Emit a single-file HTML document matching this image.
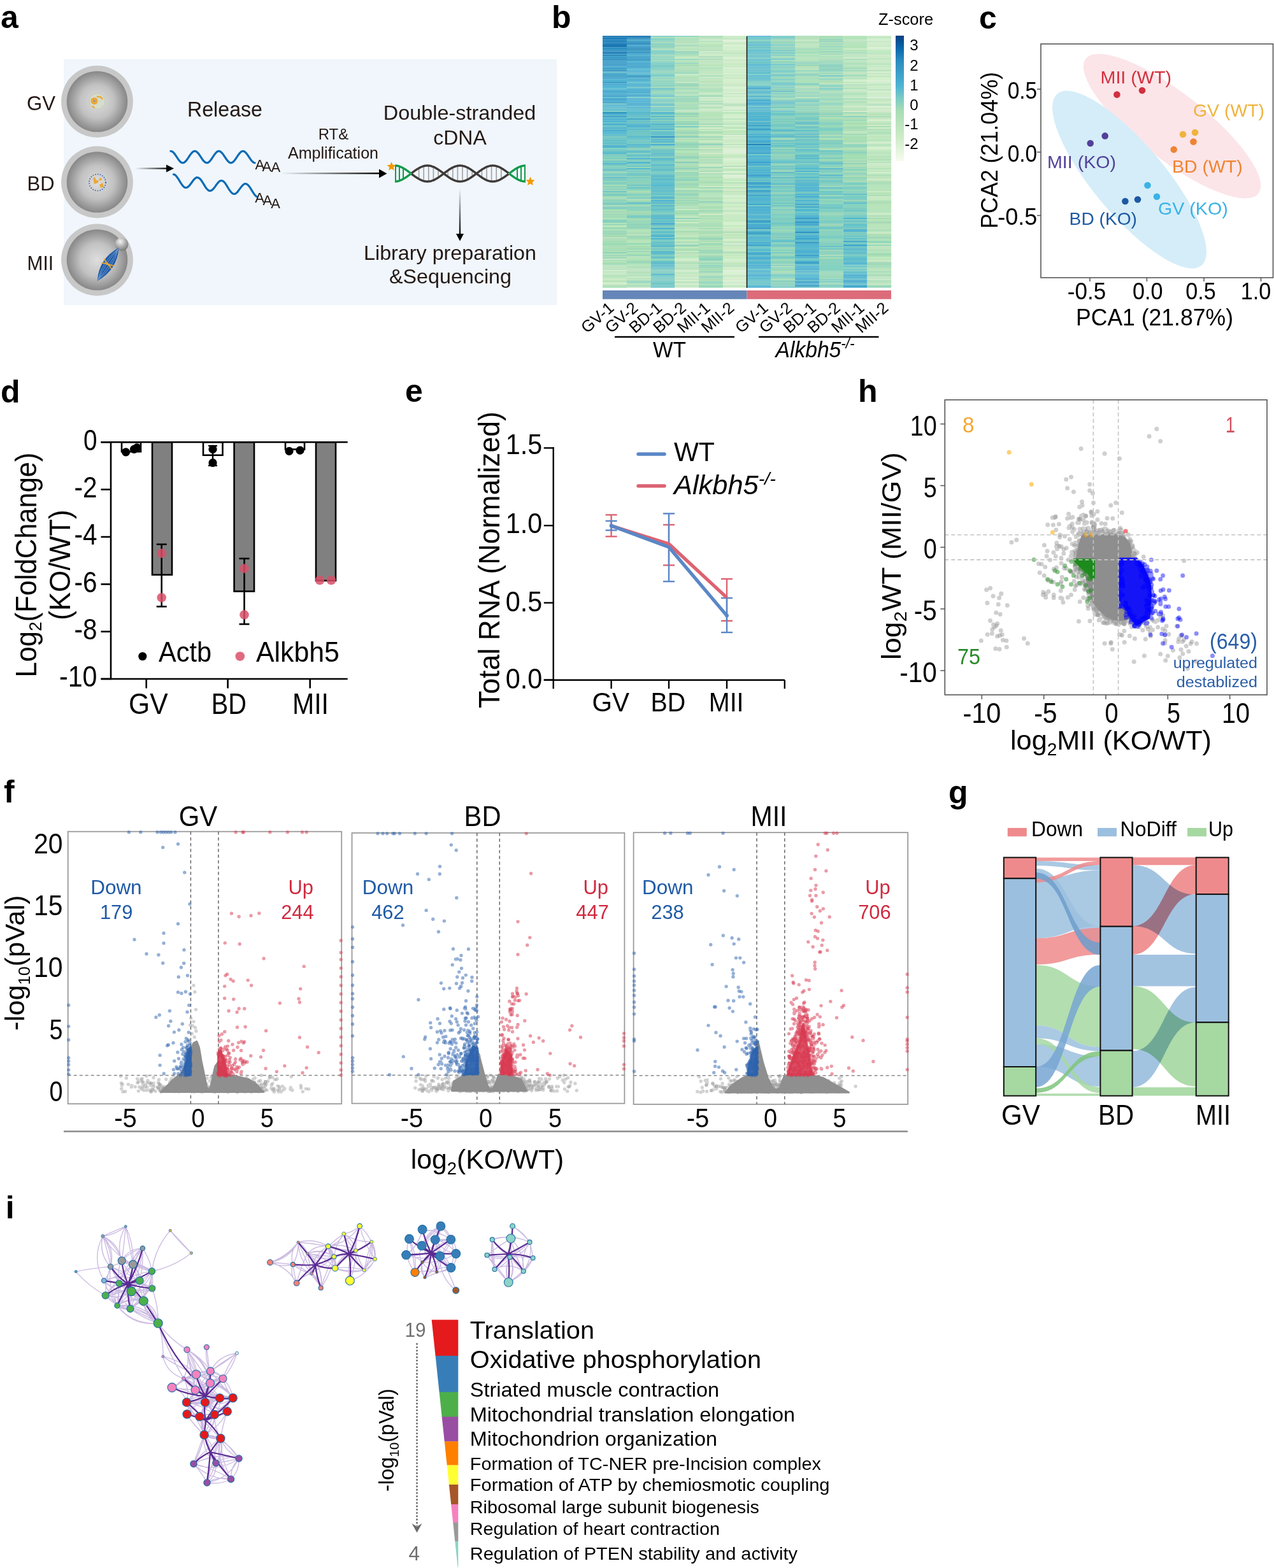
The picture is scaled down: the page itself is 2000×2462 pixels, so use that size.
<!DOCTYPE html>
<html><head><meta charset="utf-8"><title>Figure</title>
<style>html,body{margin:0;padding:0;background:#fff;}svg{display:block;}</style></head>
<body><svg width="2000" height="2462" viewBox="0 0 2000 2462" font-family='"Liberation Sans", Arial, Helvetica, sans-serif'>
<defs><radialGradient id="oo" cx="50%" cy="50%" r="50%"><stop offset="0" stop-color="#dedede"/><stop offset="0.55" stop-color="#c2c2c2"/><stop offset="1" stop-color="#878787"/></radialGradient><radialGradient id="pb" cx="40%" cy="30%" r="70%"><stop offset="0" stop-color="#f4f4f4"/><stop offset="0.5" stop-color="#b5b5b5"/><stop offset="1" stop-color="#7a7a7a"/></radialGradient><linearGradient id="ga" x1="0" y1="0" x2="1" y2="0"><stop offset="0" stop-color="#000" stop-opacity="0"/><stop offset="1" stop-color="#000"/></linearGradient><linearGradient id="gv" x1="0" y1="0" x2="0" y2="1"><stop offset="0" stop-color="#000" stop-opacity="0"/><stop offset="1" stop-color="#000"/></linearGradient><linearGradient id="cb" x1="0" y1="0" x2="0" y2="1"><stop offset="0" stop-color="#084081"/><stop offset="0.1" stop-color="#0868ac"/><stop offset="0.2" stop-color="#2b8cbe"/><stop offset="0.4" stop-color="#4eb3d3"/><stop offset="0.5" stop-color="#7bccc4"/><stop offset="0.6" stop-color="#a8ddb5"/><stop offset="0.8" stop-color="#ccebc5"/><stop offset="0.9" stop-color="#e0f3db"/><stop offset="1" stop-color="#f7fcf0"/></linearGradient></defs>
<rect width="2000" height="2462" fill="#fff"/>
<text x="1" y="44" font-size="50" font-weight="bold">a</text>
<rect x="100" y="93" width="774" height="386" fill="#f0f6fb" />
<circle cx="152.5" cy="159.5" r="56.4" fill="#c8c8c8" />
<circle cx="152.5" cy="159.5" r="47.8" fill="url(#oo)" />
<circle cx="152.5" cy="286" r="56.4" fill="#c8c8c8" />
<circle cx="152.5" cy="286" r="47.8" fill="url(#oo)" />
<circle cx="152.5" cy="408" r="56.4" fill="#c8c8c8" />
<circle cx="152.5" cy="408" r="47.8" fill="url(#oo)" />
<circle cx="152.5" cy="159" r="12.5" fill="#d6dccb" stroke="#c3c8b6" stroke-width="1"/>
<circle cx="148" cy="158.5" r="5.5" fill="#eaa83a" />
<circle cx="148" cy="158.5" r="1.8" fill="#9a9a9a" />
<path d="M152 152 a7 6 0 0 1 9 4" stroke="#eaa83a" stroke-width="2.5" fill="none"/>
<path d="M145 166 a6 4 0 0 0 4 3" stroke="#eaa83a" stroke-width="2" fill="none"/>
<circle cx="153" cy="286.5" r="13" fill="none" stroke="#2b5ba8" stroke-width="1.6" stroke-dasharray="1.6 2.2"/>
<path d="M146 280 l3 -2 l2 5 l4 0 l-1 4 l-6 2 z" fill="#eaa83a"/>
<path d="M156 290 l5 -3 l2 6 l-5 2 z" fill="#eaa83a"/>
<path d="M155 281 l4 -2 l1 3 l-3 2 z" fill="#eaa83a"/>
<circle cx="191" cy="383.5" r="10.5" fill="url(#pb)" />
<g transform="translate(169.6 415) rotate(-57)"><path d="M-31 0 Q0 -17 31 0 Q0 17 -31 0 Z" fill="#1f5aa6"/><path d="M-29 0 Q0 -10 29 0 M-29 0 Q0 10 29 0 M-29 0 Q0 -4 29 0 M-29 0 Q0 4 29 0" stroke="#7aa3d8" stroke-width="0.8" fill="none"/><path d="M-4 -10 Q3 0 -4 10 M4 -10 Q-3 0 4 10" stroke="#eaa83a" stroke-width="1.8" fill="none"/></g>
<text x="42" y="173" font-size="31" fill="#231815" textLength="45" lengthAdjust="spacingAndGlyphs">GV</text>
<text x="42.5" y="299" font-size="31" fill="#231815" textLength="43" lengthAdjust="spacingAndGlyphs">BD</text>
<text x="42.5" y="424" font-size="31" fill="#231815" textLength="41.5" lengthAdjust="spacingAndGlyphs">MII</text>
<text x="294" y="183.3" font-size="33.5" fill="#231815" textLength="118" lengthAdjust="spacingAndGlyphs">Release</text>
<rect x="212" y="263.4" width="51" height="2.2" fill="url(#ga)" />
<path d="M261 258.5 L273 264.5 L261 270.5 z" fill="#000"/>
<path d="M268 237.3 L269.1 237.5 L270.2 237.9 L271.3 238.6 L272.4 239.7 L273.5 240.9 L274.6 242.3 L275.7 243.9 L276.8 245.5 L277.9 247.2 L279 248.8 L280.1 250.4 L281.2 251.9 L282.3 253.1 L283.4 254.2 L284.5 255 L285.6 255.5 L286.7 255.7 L287.8 255.6 L288.9 255.2 L290 254.5 L291.1 253.5 L292.2 252.4 L293.3 251 L294.4 249.4 L295.5 247.8 L296.6 246.1 L297.7 244.5 L298.8 242.9 L299.9 241.4 L301 240.1 L302.1 239 L303.2 238.1 L304.3 237.6 L305.4 237.3 L306.5 237.4 L307.6 237.7 L308.7 238.3 L309.8 239.3 L310.9 240.4 L312 241.8 L313.1 243.3 L314.2 244.9 L315.3 246.6 L316.4 248.2 L317.5 249.9 L318.6 251.4 L319.7 252.7 L320.8 253.8 L321.9 254.7 L323 255.3 L324.1 255.7 L325.2 255.7 L326.3 255.4 L327.4 254.8 L328.5 253.9 L329.6 252.8 L330.7 251.5 L331.8 250 L332.9 248.4 L334 246.7 L335.1 245.1 L336.2 243.4 L337.3 241.9 L338.4 240.5 L339.5 239.4 L340.6 238.4 L341.7 237.8 L342.8 237.4 L343.9 237.3 L345 237.5 L346.1 238.1 L347.2 238.9 L348.3 240 L349.4 241.3 L350.5 242.7 L351.6 244.3 L352.7 246 L353.8 247.6 L354.9 249.3 L356 250.8 L357.1 252.2 L358.2 253.4 L359.3 254.4 L360.4 255.1 L361.5 255.6 L362.6 255.7 L363.7 255.5 L364.8 255 L365.9 254.3 L367 253.2 L368.1 252 L369.2 250.6 L370.3 249 L371.4 247.3 L372.5 245.7 L373.6 244 L374.7 242.4 L375.8 241 L376.9 239.8 L378 238.7 L379.1 238 L380.2 237.5 L381.3 237.3 L382.4 237.4 L383.5 237.9 L384.6 238.6 L385.7 239.6 L386.8 240.8 L387.9 242.2 L389 243.7 L390.1 245.4 L391.2 247 L392.3 248.7 L393.4 250.3 L394.5 251.7 L395.6 253 L396.7 254.1 L397.8 254.9 L398.9 255.5 L400 255.7" stroke="#0a6bb5" stroke-width="3.2" fill="none" stroke-linecap="round"/>
<path d="M272.5 273.8 L273.6 274.1 L274.7 274.7 L275.8 275.5 L276.9 276.7 L277.9 278 L279 279.6 L280.1 281.2 L281.2 283 L282.3 284.8 L283.4 286.6 L284.5 288.3 L285.6 289.9 L286.6 291.3 L287.7 292.5 L288.8 293.5 L289.9 294.2 L291 294.6 L292.1 294.7 L293.2 294.5 L294.2 294 L295.3 293.3 L296.4 292.3 L297.5 291.1 L298.6 289.8 L299.7 288.3 L300.8 286.8 L301.9 285.3 L302.9 283.8 L304 282.5 L305.1 281.2 L306.2 280.2 L307.3 279.5 L308.4 278.9 L309.5 278.7 L310.6 278.8 L311.6 279.1 L312.7 279.8 L313.8 280.7 L314.9 281.9 L316 283.3 L317.1 284.9 L318.2 286.6 L319.3 288.3 L320.4 290.1 L321.4 291.9 L322.5 293.6 L323.6 295.2 L324.7 296.5 L325.8 297.7 L326.9 298.6 L328 299.2 L329.1 299.6 L330.1 299.6 L331.2 299.3 L332.3 298.8 L333.4 298 L334.5 296.9 L335.6 295.7 L336.7 294.3 L337.8 292.9 L338.8 291.4 L339.9 289.8 L341 288.4 L342.1 287.1 L343.2 285.9 L344.3 284.9 L345.4 284.2 L346.4 283.8 L347.5 283.6 L348.6 283.8 L349.7 284.2 L350.8 284.9 L351.9 285.9 L353 287.1 L354.1 288.6 L355.1 290.2 L356.2 291.9 L357.3 293.7 L358.4 295.5 L359.5 297.3 L360.6 298.9 L361.7 300.4 L362.8 301.8 L363.9 302.9 L364.9 303.7 L366 304.3 L367.1 304.5 L368.2 304.5 L369.3 304.2 L370.4 303.5 L371.5 302.7 L372.6 301.6 L373.6 300.3 L374.7 298.9 L375.8 297.4 L376.9 295.9 L378 294.4 L379.1 293 L380.2 291.7 L381.2 290.6 L382.3 289.7 L383.4 289 L384.5 288.6 L385.6 288.5 L386.7 288.8 L387.8 289.3 L388.9 290.1 L389.9 291.1 L391 292.4 L392.1 293.9 L393.2 295.5 L394.3 297.3 L395.4 299.1 L396.5 300.9 L397.6 302.6 L398.6 304.2 L399.7 305.7 L400.8 307 L401.9 308 L403 308.8" stroke="#0a6bb5" stroke-width="3.2" fill="none" stroke-linecap="round"/>
<text x="400.5" y="266.2" font-size="22" fill="#231815">A</text>
<text x="411.5" y="268.5" font-size="22" fill="#231815">A</text>
<text x="425.5" y="270.3" font-size="22" fill="#231815">A</text>
<text x="400.3" y="318" font-size="22" fill="#231815">A</text>
<text x="412.4" y="322.1" font-size="22" fill="#231815">A</text>
<text x="425.3" y="327.3" font-size="22" fill="#231815">A</text>
<rect x="441" y="271" width="157" height="2.4" fill="url(#ga)" />
<path d="M595 265.5 L607.5 272.5 L595 279.5 z" fill="#000"/>
<text x="523.5" y="218.5" font-size="24" text-anchor="middle" fill="#231815" textLength="47.5" lengthAdjust="spacingAndGlyphs">RT&amp;</text>
<text x="523" y="248.5" font-size="25" text-anchor="middle" fill="#231815" textLength="142" lengthAdjust="spacingAndGlyphs">Amplification</text>
<text x="721.5" y="188" font-size="32" text-anchor="middle" fill="#231815" textLength="239.5" lengthAdjust="spacingAndGlyphs">Double-stranded</text>
<text x="722" y="226.5" font-size="32" text-anchor="middle" fill="#231815" textLength="83.5" lengthAdjust="spacingAndGlyphs">cDNA</text>
<path d="M657.6 263.9V281.1M665.2 260.8V284.2M672.8 260.1V284.9M680.4 262V283M688 266.2V278.8M703.2 277.4V267.6M710.8 282.1V262.9M718.4 284.7V260.3M726 284.7V260.3M733.6 282.1V262.9M741.2 277.5V267.5M756.4 266.3V278.7M764 262.1V282.9M771.6 260.1V284.9M779.2 260.7V284.3M786.8 263.9V281.1" stroke="#a0a0a0" stroke-width="1.6"/>
<path d="M620 285 L620.9 285 L621.7 284.9 L622.6 284.8 L623.4 284.7 L624.3 284.5 L625.1 284.3 L626 284.1 L626.9 283.8 L627.7 283.5 L628.6 283.2 L629.4 282.8 L630.3 282.4 L631.2 282 L632 281.6 L632.9 281.1 L633.7 280.6 L634.6 280.1 L635.4 279.6 L636.3 279 L637.2 278.5 L638 277.9 L638.9 277.3 L639.7 276.7 L640.6 276.1 L641.4 275.4 L642.3 274.8 L643.2 274.1 L644 273.5 L644.9 272.8" stroke="#129a4a" stroke-width="3.4" fill="none"/>
<path d="M645.7 272.2 L646.6 271.5 L647.4 270.9 L648.3 270.2 L649.2 269.6 L650 268.9 L650.9 268.3 L651.7 267.7 L652.6 267.1 L653.5 266.5 L654.3 265.9 L655.2 265.4 L656 264.9 L656.9 264.4 L657.7 263.9 L658.6 263.4 L659.5 263 L660.3 262.6 L661.2 262.2 L662 261.8 L662.9 261.5 L663.7 261.2 L664.6 260.9 L665.5 260.7 L666.3 260.5 L667.2 260.3 L668 260.2 L668.9 260.1 L669.7 260 L670.6 260 L671.5 260 L672.3 260 L673.2 260.1 L674 260.2 L674.9 260.4 L675.8 260.5 L676.6 260.7 L677.5 261 L678.3 261.3 L679.2 261.6 L680 261.9 L680.9 262.2 L681.8 262.6 L682.6 263.1 L683.5 263.5 L684.3 264 L685.2 264.5 L686 265 L686.9 265.5 L687.8 266.1 L688.6 266.6 L689.5 267.2 L690.3 267.8 L691.2 268.4 L692.1 269.1 L692.9 269.7 L693.8 270.3 L694.6 271 L695.5 271.6 L696.3 272.3 L697.2 273 L698.1 273.6 L698.9 274.3 L699.8 274.9 L700.6 275.6 L701.5 276.2 L702.3 276.8 L703.2 277.4 L704.1 278 L704.9 278.6 L705.8 279.2 L706.6 279.7 L707.5 280.2 L708.3 280.7 L709.2 281.2 L710.1 281.7 L710.9 282.1 L711.8 282.5 L712.6 282.9 L713.5 283.2 L714.4 283.6 L715.2 283.9 L716.1 284.1 L716.9 284.3 L717.8 284.5 L718.6 284.7 L719.5 284.8 L720.4 284.9 L721.2 285 L722.1 285 L722.9 285 L723.8 284.9 L724.6 284.9 L725.5 284.8 L726.4 284.6 L727.2 284.4 L728.1 284.2 L728.9 284 L729.8 283.7 L730.6 283.4 L731.5 283 L732.4 282.7 L733.2 282.3 L734.1 281.9 L734.9 281.4 L735.8 280.9 L736.7 280.4 L737.5 279.9 L738.4 279.4 L739.2 278.8 L740.1 278.3 L740.9 277.7 L741.8 277.1 L742.7 276.4 L743.5 275.8 L744.4 275.2 L745.2 274.5 L746.1 273.9 L746.9 273.2 L747.8 272.6 L748.7 271.9 L749.5 271.3 L750.4 270.6 L751.2 270 L752.1 269.3 L752.9 268.7 L753.8 268.1 L754.7 267.5 L755.5 266.9 L756.4 266.3 L757.2 265.7 L758.1 265.2 L759 264.7 L759.8 264.2 L760.7 263.7 L761.5 263.2 L762.4 262.8 L763.2 262.4 L764.1 262 L765 261.7 L765.8 261.4 L766.7 261.1 L767.5 260.8 L768.4 260.6 L769.2 260.4 L770.1 260.3 L771 260.2 L771.8 260.1 L772.7 260 L773.5 260 L774.4 260 L775.3 260.1 L776.1 260.2 L777 260.3 L777.8 260.4 L778.7 260.6 L779.5 260.8 L780.4 261.1 L781.3 261.4 L782.1 261.7 L783 262 L783.8 262.4 L784.7 262.8 L785.5 263.2 L786.4 263.7 L787.3 264.2 L788.1 264.7 L789 265.2 L789.8 265.7 L790.7 266.3 L791.5 266.9 L792.4 267.4 L793.3 268.1 L794.1 268.7 L795 269.3 L795.8 269.9 L796.7 270.6 L797.6 271.2 L798.4 271.9" stroke="#3e3a39" stroke-width="3.4" fill="none"/>
<path d="M799.3 272.6 L800.1 273.2 L801 273.9 L801.8 274.5 L802.7 275.2 L803.6 275.8 L804.4 276.4 L805.3 277 L806.1 277.6 L807 278.2 L807.8 278.8 L808.7 279.4 L809.6 279.9 L810.4 280.4 L811.3 280.9 L812.1 281.4 L813 281.8 L813.8 282.3 L814.7 282.7 L815.6 283 L816.4 283.4 L817.3 283.7 L818.1 284 L819 284.2 L819.9 284.4 L820.7 284.6 L821.6 284.7 L822.4 284.9 L823.3 284.9 L824.1 285 L825 285" stroke="#129a4a" stroke-width="3.4" fill="none"/>
<path d="M620 260 L620.9 260 L621.7 260.1 L622.6 260.2 L623.4 260.3 L624.3 260.5 L625.1 260.7 L626 260.9 L626.9 261.2 L627.7 261.5 L628.6 261.8 L629.4 262.2 L630.3 262.6 L631.2 263 L632 263.4 L632.9 263.9 L633.7 264.4 L634.6 264.9 L635.4 265.4 L636.3 266 L637.2 266.5 L638 267.1 L638.9 267.7 L639.7 268.3 L640.6 268.9 L641.4 269.6 L642.3 270.2 L643.2 270.9 L644 271.5 L644.9 272.2" stroke="#129a4a" stroke-width="3.4" fill="none"/>
<path d="M645.7 272.8 L646.6 273.5 L647.4 274.1 L648.3 274.8 L649.2 275.4 L650 276.1 L650.9 276.7 L651.7 277.3 L652.6 277.9 L653.5 278.5 L654.3 279.1 L655.2 279.6 L656 280.1 L656.9 280.6 L657.7 281.1 L658.6 281.6 L659.5 282 L660.3 282.4 L661.2 282.8 L662 283.2 L662.9 283.5 L663.7 283.8 L664.6 284.1 L665.5 284.3 L666.3 284.5 L667.2 284.7 L668 284.8 L668.9 284.9 L669.7 285 L670.6 285 L671.5 285 L672.3 285 L673.2 284.9 L674 284.8 L674.9 284.6 L675.8 284.5 L676.6 284.3 L677.5 284 L678.3 283.7 L679.2 283.4 L680 283.1 L680.9 282.8 L681.8 282.4 L682.6 281.9 L683.5 281.5 L684.3 281 L685.2 280.5 L686 280 L686.9 279.5 L687.8 278.9 L688.6 278.4 L689.5 277.8 L690.3 277.2 L691.2 276.6 L692.1 275.9 L692.9 275.3 L693.8 274.7 L694.6 274 L695.5 273.4 L696.3 272.7 L697.2 272 L698.1 271.4 L698.9 270.7 L699.8 270.1 L700.6 269.4 L701.5 268.8 L702.3 268.2 L703.2 267.6 L704.1 267 L704.9 266.4 L705.8 265.8 L706.6 265.3 L707.5 264.8 L708.3 264.3 L709.2 263.8 L710.1 263.3 L710.9 262.9 L711.8 262.5 L712.6 262.1 L713.5 261.8 L714.4 261.4 L715.2 261.1 L716.1 260.9 L716.9 260.7 L717.8 260.5 L718.6 260.3 L719.5 260.2 L720.4 260.1 L721.2 260 L722.1 260 L722.9 260 L723.8 260.1 L724.6 260.1 L725.5 260.2 L726.4 260.4 L727.2 260.6 L728.1 260.8 L728.9 261 L729.8 261.3 L730.6 261.6 L731.5 262 L732.4 262.3 L733.2 262.7 L734.1 263.1 L734.9 263.6 L735.8 264.1 L736.7 264.6 L737.5 265.1 L738.4 265.6 L739.2 266.2 L740.1 266.7 L740.9 267.3 L741.8 267.9 L742.7 268.6 L743.5 269.2 L744.4 269.8 L745.2 270.5 L746.1 271.1 L746.9 271.8 L747.8 272.4 L748.7 273.1 L749.5 273.7 L750.4 274.4 L751.2 275 L752.1 275.7 L752.9 276.3 L753.8 276.9 L754.7 277.5 L755.5 278.1 L756.4 278.7 L757.2 279.3 L758.1 279.8 L759 280.3 L759.8 280.8 L760.7 281.3 L761.5 281.8 L762.4 282.2 L763.2 282.6 L764.1 283 L765 283.3 L765.8 283.6 L766.7 283.9 L767.5 284.2 L768.4 284.4 L769.2 284.6 L770.1 284.7 L771 284.8 L771.8 284.9 L772.7 285 L773.5 285 L774.4 285 L775.3 284.9 L776.1 284.8 L777 284.7 L777.8 284.6 L778.7 284.4 L779.5 284.2 L780.4 283.9 L781.3 283.6 L782.1 283.3 L783 283 L783.8 282.6 L784.7 282.2 L785.5 281.8 L786.4 281.3 L787.3 280.8 L788.1 280.3 L789 279.8 L789.8 279.3 L790.7 278.7 L791.5 278.1 L792.4 277.6 L793.3 276.9 L794.1 276.3 L795 275.7 L795.8 275.1 L796.7 274.4 L797.6 273.8 L798.4 273.1" stroke="#3e3a39" stroke-width="3.4" fill="none"/>
<path d="M799.3 272.4 L800.1 271.8 L801 271.1 L801.8 270.5 L802.7 269.8 L803.6 269.2 L804.4 268.6 L805.3 268 L806.1 267.4 L807 266.8 L807.8 266.2 L808.7 265.6 L809.6 265.1 L810.4 264.6 L811.3 264.1 L812.1 263.6 L813 263.2 L813.8 262.7 L814.7 262.3 L815.6 262 L816.4 261.6 L817.3 261.3 L818.1 261 L819 260.8 L819.9 260.6 L820.7 260.4 L821.6 260.3 L822.4 260.1 L823.3 260.1 L824.1 260 L825 260" stroke="#129a4a" stroke-width="3.4" fill="none"/>
<path d="M621 285V260 M627 283.8V261.2 M633 281.1V263.9 M812 281.3V263.7 M818 283.9V261.1 M824 285V260" stroke="#129a4a" stroke-width="2"/>
<polygon points="614.5,254 616.5,258.8 621.6,259.2 617.7,262.5 618.9,267.6 614.5,264.9 610.1,267.6 611.3,262.5 607.4,259.2 612.5,258.8" fill="#f39800"/>
<polygon points="832.5,277.5 834.5,282.3 839.6,282.7 835.7,286 836.9,291.1 832.5,288.4 828.1,291.1 829.3,286 825.4,282.7 830.5,282.3" fill="#f39800"/>
<rect x="720.8" y="296" width="2.4" height="74" fill="url(#gv)" />
<path d="M716 367 L722 378.5 L728 367 z" fill="#000"/>
<text x="706.5" y="407.5" font-size="32" text-anchor="middle" fill="#231815" textLength="271" lengthAdjust="spacingAndGlyphs">Library preparation</text>
<text x="707" y="444.5" font-size="32" text-anchor="middle" fill="#231815" textLength="192" lengthAdjust="spacingAndGlyphs">&amp;Sequencing</text>
<text x="866" y="44" font-size="50" font-weight="bold">b</text>
<path fill="#1272ae" d="M946 56.3h38v2h-38z"/>
<path fill="#1e7eba" d="M946 58.3h38v4h-38zM946 66.3h38v2h-38z"/>
<path fill="#2484ba" d="M946 62.3h38v4h-38zM946 92.3h38v2h-38zM983.8 58.3h38v2h-38zM983.8 68.3h38v2h-38zM1172.5 226.1h38v2h-38z"/>
<path fill="#1878b4" d="M946 68.3h38v6h-38z"/>
<path fill="#2a90c0" d="M946 74.3h38v4h-38zM946 106.2h38v2h-38z"/>
<path fill="#2a8ac0" d="M946 78.3h38v2h-38zM946 110.2h38v2h-38zM946 128.2h38v2h-38zM983.8 66.3h38v2h-38z"/>
<path fill="#3090c0" d="M946 80.3h38v2h-38zM983.8 60.3h38v2h-38zM983.8 74.3h38v2h-38z"/>
<path fill="#0c6cae" d="M946 82.3h38v2h-38zM983.8 56.3h38v2h-38z"/>
<path fill="#3696c6" d="M946 84.3h38v2h-38zM946 100.2h38v2h-38zM983.8 72.3h38v2h-38zM1021.5 214.1h38v2h-38zM1248 441.8h38v2h-38z"/>
<path fill="#187eb4" d="M946 86.3h38v2h-38z"/>
<path fill="#369cc6" d="M946 88.3h38v4h-38zM946 96.2h38v2h-38zM946 116.2h38v2h-38zM946 142.2h38v2h-38zM946 150.2h38v2h-38zM946 154.2h38v2h-38zM946 160.2h38v2h-38zM983.8 88.3h38v2h-38zM983.8 94.3h38v2h-38zM1248 347.9h38v2h-38zM1248 411.9h38v2h-38z"/>
<path fill="#3c9cc6" d="M946 94.3h38v2h-38zM946 98.2h38v2h-38zM946 102.2h38v2h-38zM946 118.2h38v2h-38zM983.8 80.3h38v4h-38zM983.8 90.3h38v2h-38zM983.8 104.2h38v2h-38zM983.8 120.2h38v2h-38zM1172.5 202.1h38v2h-38zM1172.5 345.9h38v2h-38zM1248 341.9h38v2h-38zM1248 379.9h38v2h-38z"/>
<path fill="#48aed2" d="M946 104.2h38v2h-38zM946 130.2h38v2h-38zM946 146.2h38v2h-38zM946 158.2h38v2h-38zM946 178.1h38v2h-38zM946 194.1h38v2h-38zM946 204.1h38v2h-38zM983.8 106.2h38v2h-38zM983.8 110.2h38v2h-38zM983.8 126.2h38v2h-38zM983.8 142.2h38v2h-38zM983.8 150.2h38v2h-38zM983.8 158.2h38v2h-38zM983.8 168.2h38v2h-38zM1021.5 357.9h38v2h-38zM1172.5 160.2h38v2h-38zM1172.5 168.2h38v2h-38zM1172.5 192.1h38v2h-38zM1172.5 220.1h38v2h-38zM1172.5 230.1h38v4h-38zM1172.5 258h38v2h-38zM1172.5 276h38v2h-38zM1172.5 395.9h38v2h-38zM1172.5 403.9h38v2h-38zM1172.5 419.8h38v2h-38zM1172.5 431.8h38v2h-38zM1172.5 449.8h38v2h-38zM1248 308h38v2h-38zM1248 369.9h38v2h-38zM1248 417.8h38v2h-38zM1248 435.8h38v2h-38z"/>
<path fill="#3ca2c6" d="M946 108.2h38v2h-38zM946 120.2h38v2h-38zM1172.5 365.9h38v2h-38z"/>
<path fill="#6cc0cc" d="M946 112.2h38v2h-38zM946 278h38v2h-38zM983.8 182.1h38v2h-38zM983.8 190.1h38v2h-38zM983.8 230.1h38v2h-38zM1021.5 242.1h38v2h-38zM1021.5 296h38v2h-38zM1172.5 86.3h38v2h-38zM1172.5 335.9h38v2h-38zM1172.5 407.9h38v2h-38zM1210.2 160.2h38v2h-38zM1248 210.1h38v2h-38zM1248 254.1h38v2h-38zM1285.8 256h38v2h-38zM1285.8 294h38v2h-38zM1285.8 385.9h38v2h-38zM1323.5 345.9h38v2h-38zM1323.5 437.8h38v2h-38z"/>
<path fill="#42a8cc" d="M946 114.2h38v2h-38zM946 144.2h38v2h-38zM983.8 70.3h38v2h-38zM983.8 102.2h38v2h-38zM983.8 124.2h38v2h-38zM983.8 140.2h38v2h-38zM983.8 162.2h38v2h-38zM1172.5 214.1h38v2h-38zM1172.5 288h38v2h-38zM1172.5 298h38v2h-38zM1172.5 306h38v2h-38zM1172.5 320h38v2h-38zM1172.5 347.9h38v2h-38zM1172.5 363.9h38v2h-38zM1172.5 397.9h38v2h-38zM1248 324h38v2h-38zM1248 421.8h38v2h-38zM1323.5 439.8h38v2h-38zM1323.5 447.8h38v4h-38z"/>
<path fill="#42a2cc" d="M946 122.2h38v2h-38zM946 182.1h38v2h-38zM983.8 84.3h38v2h-38zM983.8 100.2h38v2h-38zM983.8 148.2h38v2h-38zM1172.5 138.2h38v2h-38zM1172.5 196.1h38v2h-38zM1172.5 274h38v2h-38zM1172.5 286h38v2h-38zM1172.5 292h38v2h-38zM1172.5 357.9h38v2h-38zM1172.5 383.9h38v2h-38z"/>
<path fill="#4eb4d2" d="M946 124.2h38v4h-38zM946 134.2h38v4h-38zM946 140.2h38v2h-38zM946 186.1h38v2h-38zM946 190.1h38v2h-38zM946 230.1h38v2h-38zM983.8 96.2h38v2h-38zM983.8 116.2h38v2h-38zM983.8 138.2h38v2h-38zM983.8 198.1h38v2h-38zM1021.5 176.1h38v2h-38zM1021.5 369.9h38v2h-38zM1021.5 373.9h38v2h-38zM1021.5 429.8h38v2h-38zM1172.5 100.2h38v2h-38zM1172.5 136.2h38v2h-38zM1172.5 144.2h38v2h-38zM1172.5 158.2h38v2h-38zM1172.5 178.1h38v2h-38zM1172.5 182.1h38v2h-38zM1172.5 186.1h38v2h-38zM1172.5 210.1h38v2h-38zM1172.5 244.1h38v2h-38zM1172.5 252.1h38v2h-38zM1172.5 266h38v2h-38zM1172.5 270h38v2h-38zM1172.5 294h38v2h-38zM1172.5 312h38v2h-38zM1172.5 328h38v2h-38zM1172.5 339.9h38v2h-38zM1172.5 411.9h38v2h-38zM1172.5 417.8h38v2h-38zM1172.5 447.8h38v2h-38zM1248 314h38v2h-38zM1248 330h38v2h-38zM1248 339.9h38v2h-38zM1248 361.9h38v2h-38zM1248 371.9h38v2h-38zM1248 391.9h38v2h-38zM1248 395.9h38v2h-38zM1248 431.8h38v2h-38zM1323.5 341.9h38v2h-38z"/>
<path fill="#3ca2cc" d="M946 132.2h38v2h-38zM946 156.2h38v2h-38zM983.8 98.2h38v2h-38zM983.8 144.2h38v2h-38zM1172.5 156.2h38v2h-38zM1172.5 162.2h38v2h-38zM1172.5 254.1h38v2h-38zM1248 373.9h38v2h-38zM1248 399.9h38v2h-38zM1323.5 383.9h38v2h-38z"/>
<path fill="#5abad2" d="M946 138.2h38v2h-38zM946 166.2h38v2h-38zM946 188.1h38v2h-38zM946 206.1h38v4h-38zM983.8 202.1h38v2h-38zM983.8 214.1h38v2h-38zM983.8 226.1h38v2h-38zM1021.5 258h38v2h-38zM1021.5 341.9h38v2h-38zM1172.5 70.3h38v2h-38zM1172.5 102.2h38v2h-38zM1172.5 200.1h38v2h-38zM1172.5 212.1h38v2h-38zM1172.5 216.1h38v4h-38zM1172.5 228.1h38v2h-38zM1172.5 246.1h38v4h-38zM1172.5 272h38v2h-38zM1172.5 361.9h38v2h-38zM1172.5 373.9h38v2h-38zM1172.5 413.8h38v2h-38zM1172.5 433.8h38v2h-38zM1248 296h38v2h-38zM1323.5 405.9h38v2h-38zM1323.5 411.9h38v2h-38zM1323.5 429.8h38v2h-38zM1323.5 433.8h38v4h-38z"/>
<path fill="#48a8cc" d="M946 148.2h38v2h-38zM983.8 62.3h38v2h-38zM983.8 186.1h38v2h-38zM1172.5 222.1h38v2h-38zM1172.5 240.1h38v2h-38zM1172.5 300h38v2h-38zM1172.5 351.9h38v2h-38zM1172.5 355.9h38v2h-38zM1172.5 415.8h38v2h-38zM1248 320h38v2h-38zM1248 351.9h38v2h-38zM1248 437.8h38v2h-38zM1323.5 377.9h38v2h-38zM1323.5 431.8h38v2h-38zM1323.5 441.8h38v2h-38z"/>
<path fill="#54bad2" d="M946 152.2h38v2h-38zM983.8 174.2h38v2h-38zM983.8 264h38v2h-38zM1021.5 290h38v2h-38zM1172.5 78.3h38v2h-38zM1172.5 204.1h38v2h-38zM1172.5 318h38v2h-38zM1172.5 381.9h38v2h-38zM1172.5 391.9h38v2h-38zM1172.5 423.8h38v2h-38zM1248 264h38v2h-38zM1248 278h38v2h-38zM1248 328h38v2h-38zM1248 357.9h38v2h-38zM1248 385.9h38v2h-38zM1248 433.8h38v2h-38zM1248 445.8h38v2h-38z"/>
<path fill="#72c6c6" d="M946 162.2h38v2h-38zM946 174.2h38v2h-38zM946 192.1h38v2h-38zM946 216.1h38v4h-38zM946 222.1h38v2h-38zM946 226.1h38v2h-38zM946 236.1h38v2h-38zM946 252.1h38v2h-38zM946 258h38v2h-38zM946 300h38v2h-38zM983.8 136.2h38v2h-38zM983.8 192.1h38v2h-38zM983.8 200.1h38v2h-38zM983.8 204.1h38v2h-38zM983.8 208.1h38v4h-38zM983.8 222.1h38v2h-38zM983.8 272h38v4h-38zM983.8 290h38v2h-38zM1021.5 162.2h38v2h-38zM1021.5 168.2h38v2h-38zM1021.5 190.1h38v2h-38zM1021.5 200.1h38v2h-38zM1021.5 238.1h38v2h-38zM1021.5 244.1h38v2h-38zM1021.5 252.1h38v2h-38zM1021.5 260h38v4h-38zM1021.5 302h38v2h-38zM1021.5 324h38v4h-38zM1021.5 330h38v2h-38zM1021.5 335.9h38v2h-38zM1021.5 343.9h38v2h-38zM1021.5 347.9h38v2h-38zM1021.5 381.9h38v2h-38zM1021.5 389.9h38v2h-38zM1021.5 401.9h38v2h-38zM1021.5 419.8h38v2h-38zM1021.5 443.8h38v4h-38zM1172.5 64.3h38v4h-38zM1172.5 72.3h38v4h-38zM1172.5 84.3h38v2h-38zM1172.5 140.2h38v2h-38zM1172.5 152.2h38v2h-38zM1172.5 166.2h38v2h-38zM1172.5 190.1h38v2h-38zM1172.5 260h38v2h-38zM1172.5 393.9h38v2h-38zM1172.5 421.8h38v2h-38zM1210.2 58.3h38v2h-38zM1210.2 78.3h38v2h-38zM1210.2 82.3h38v2h-38zM1210.2 92.3h38v2h-38zM1210.2 124.2h38v2h-38zM1210.2 132.2h38v2h-38zM1210.2 158.2h38v2h-38zM1210.2 162.2h38v2h-38zM1210.2 196.1h38v2h-38zM1210.2 202.1h38v2h-38zM1210.2 224.1h38v2h-38zM1210.2 260h38v2h-38zM1210.2 264h38v2h-38zM1210.2 306h38v2h-38zM1210.2 318h38v2h-38zM1210.2 322h38v2h-38zM1210.2 383.9h38v2h-38zM1210.2 403.9h38v2h-38zM1210.2 431.8h38v2h-38zM1248 158.2h38v2h-38zM1248 178.1h38v2h-38zM1248 186.1h38v2h-38zM1248 194.1h38v2h-38zM1248 198.1h38v4h-38zM1248 218.1h38v4h-38zM1248 252.1h38v2h-38zM1248 258h38v2h-38zM1248 312h38v2h-38zM1248 322h38v2h-38zM1248 355.9h38v2h-38zM1248 427.8h38v2h-38zM1285.8 254.1h38v2h-38zM1285.8 278h38v2h-38zM1285.8 284h38v2h-38zM1285.8 324h38v4h-38zM1285.8 355.9h38v4h-38zM1285.8 389.9h38v2h-38zM1285.8 441.8h38v2h-38zM1285.8 447.8h38v2h-38zM1323.5 330h38v2h-38zM1323.5 355.9h38v2h-38zM1323.5 379.9h38v2h-38zM1323.5 387.9h38v2h-38zM1323.5 397.9h38v2h-38z"/>
<path fill="#54b4d2" d="M946 164.2h38v2h-38zM946 200.1h38v2h-38zM946 228.1h38v2h-38zM983.8 112.2h38v2h-38zM983.8 122.2h38v2h-38zM983.8 130.2h38v2h-38zM983.8 156.2h38v2h-38zM983.8 160.2h38v2h-38zM983.8 196.1h38v2h-38zM983.8 248.1h38v2h-38zM983.8 254.1h38v2h-38zM1021.5 194.1h38v2h-38zM1021.5 202.1h38v2h-38zM1021.5 310h38v2h-38zM1021.5 314h38v2h-38zM1172.5 56.3h38v2h-38zM1172.5 118.2h38v2h-38zM1172.5 164.2h38v2h-38zM1172.5 172.2h38v2h-38zM1172.5 188.1h38v2h-38zM1172.5 236.1h38v2h-38zM1172.5 250.1h38v2h-38zM1172.5 256h38v2h-38zM1172.5 310h38v2h-38zM1172.5 314h38v2h-38zM1172.5 326h38v2h-38zM1172.5 330h38v6h-38zM1172.5 337.9h38v2h-38zM1172.5 371.9h38v2h-38zM1172.5 405.9h38v2h-38zM1172.5 425.8h38v2h-38zM1172.5 429.8h38v2h-38zM1248 268h38v2h-38zM1248 290h38v2h-38zM1248 294h38v2h-38zM1248 298h38v2h-38zM1248 304h38v2h-38zM1248 337.9h38v2h-38zM1248 345.9h38v2h-38zM1248 381.9h38v4h-38zM1248 401.9h38v2h-38zM1248 419.8h38v2h-38zM1248 425.8h38v2h-38zM1248 443.8h38v2h-38zM1323.5 359.9h38v4h-38zM1323.5 413.8h38v2h-38z"/>
<path fill="#60bacc" d="M946 168.2h38v2h-38zM946 180.1h38v2h-38zM983.8 114.2h38v2h-38zM983.8 178.1h38v2h-38zM983.8 194.1h38v2h-38zM1021.5 218.1h38v2h-38zM1021.5 248.1h38v2h-38zM1021.5 266h38v2h-38zM1021.5 276h38v2h-38zM1021.5 280h38v2h-38zM1021.5 318h38v2h-38zM1021.5 337.9h38v2h-38zM1021.5 351.9h38v2h-38zM1021.5 385.9h38v2h-38zM1021.5 393.9h38v2h-38zM1021.5 411.9h38v2h-38zM1021.5 415.8h38v2h-38zM1172.5 106.2h38v2h-38zM1172.5 110.2h38v2h-38zM1172.5 142.2h38v2h-38zM1172.5 174.2h38v2h-38zM1172.5 180.1h38v2h-38zM1172.5 194.1h38v2h-38zM1172.5 224.1h38v2h-38zM1172.5 282h38v2h-38zM1172.5 302h38v4h-38zM1172.5 341.9h38v2h-38zM1172.5 401.9h38v2h-38zM1210.2 142.2h38v2h-38zM1210.2 214.1h38v2h-38zM1210.2 270h38v2h-38zM1210.2 288h38v2h-38zM1248 214.1h38v2h-38zM1248 244.1h38v2h-38zM1248 282h38v2h-38zM1248 286h38v2h-38zM1248 343.9h38v2h-38zM1248 359.9h38v2h-38zM1248 367.9h38v2h-38zM1248 377.9h38v2h-38zM1248 389.9h38v2h-38zM1248 397.9h38v2h-38zM1248 429.8h38v2h-38zM1285.8 264h38v2h-38zM1285.8 274h38v2h-38zM1323.5 389.9h38v2h-38zM1323.5 395.9h38v2h-38zM1323.5 443.8h38v2h-38z"/>
<path fill="#66c0cc" d="M946 170.2h38v4h-38zM946 184.1h38v2h-38zM946 196.1h38v2h-38zM946 202.1h38v2h-38zM946 210.1h38v4h-38zM946 266h38v2h-38zM983.8 166.2h38v2h-38zM983.8 170.2h38v4h-38zM983.8 180.1h38v2h-38zM983.8 228.1h38v2h-38zM983.8 236.1h38v2h-38zM983.8 244.1h38v2h-38zM983.8 318h38v2h-38zM1021.5 138.2h38v2h-38zM1021.5 150.2h38v2h-38zM1021.5 164.2h38v2h-38zM1021.5 178.1h38v2h-38zM1021.5 186.1h38v2h-38zM1021.5 198.1h38v2h-38zM1021.5 206.1h38v6h-38zM1021.5 220.1h38v2h-38zM1021.5 240.1h38v2h-38zM1021.5 274h38v2h-38zM1021.5 292h38v4h-38zM1021.5 298h38v4h-38zM1021.5 316h38v2h-38zM1021.5 379.9h38v2h-38zM1021.5 397.9h38v2h-38zM1021.5 403.9h38v2h-38zM1021.5 409.9h38v2h-38zM1021.5 413.8h38v2h-38zM1021.5 417.8h38v2h-38zM1172.5 60.3h38v2h-38zM1172.5 68.3h38v2h-38zM1172.5 80.3h38v2h-38zM1172.5 88.3h38v2h-38zM1172.5 92.3h38v2h-38zM1172.5 108.2h38v2h-38zM1172.5 124.2h38v2h-38zM1172.5 146.2h38v2h-38zM1172.5 170.2h38v2h-38zM1172.5 206.1h38v4h-38zM1172.5 343.9h38v2h-38zM1172.5 369.9h38v2h-38zM1172.5 377.9h38v2h-38zM1172.5 385.9h38v2h-38zM1172.5 399.9h38v2h-38zM1172.5 427.8h38v2h-38zM1172.5 439.8h38v2h-38zM1172.5 443.8h38v2h-38zM1210.2 174.2h38v2h-38zM1210.2 178.1h38v2h-38zM1210.2 212.1h38v2h-38zM1210.2 220.1h38v2h-38zM1210.2 254.1h38v2h-38zM1210.2 278h38v2h-38zM1248 192.1h38v2h-38zM1248 226.1h38v2h-38zM1248 234.1h38v2h-38zM1248 262h38v2h-38zM1248 284h38v2h-38zM1248 300h38v2h-38zM1248 310h38v2h-38zM1248 316h38v4h-38zM1248 335.9h38v2h-38zM1248 353.9h38v2h-38zM1248 365.9h38v2h-38zM1248 407.9h38v2h-38zM1248 423.8h38v2h-38zM1248 449.8h38v2h-38zM1285.8 118.2h38v2h-38zM1323.5 304h38v2h-38zM1323.5 385.9h38v2h-38zM1323.5 391.9h38v2h-38zM1323.5 407.9h38v4h-38zM1323.5 425.8h38v4h-38zM1323.5 445.8h38v2h-38z"/>
<path fill="#3096c0" d="M946 176.1h38v2h-38zM983.8 64.3h38v2h-38zM983.8 78.3h38v2h-38zM983.8 92.3h38v2h-38zM983.8 118.2h38v2h-38zM1248 363.9h38v2h-38z"/>
<path fill="#6cc6c6" d="M946 198.1h38v2h-38zM983.8 184.1h38v2h-38zM983.8 188.1h38v2h-38zM983.8 206.1h38v2h-38zM983.8 212.1h38v2h-38zM983.8 216.1h38v2h-38zM983.8 242.1h38v2h-38zM983.8 256h38v2h-38zM983.8 260h38v2h-38zM983.8 294h38v2h-38zM1021.5 118.2h38v2h-38zM1021.5 172.2h38v2h-38zM1021.5 196.1h38v2h-38zM1021.5 236.1h38v2h-38zM1021.5 264h38v2h-38zM1021.5 278h38v2h-38zM1021.5 361.9h38v2h-38zM1021.5 431.8h38v2h-38zM1021.5 441.8h38v2h-38zM1172.5 58.3h38v2h-38zM1172.5 76.3h38v2h-38zM1172.5 96.2h38v4h-38zM1172.5 126.2h38v2h-38zM1172.5 280h38v2h-38zM1172.5 284h38v2h-38zM1172.5 441.8h38v2h-38zM1172.5 445.8h38v2h-38zM1210.2 110.2h38v2h-38zM1210.2 118.2h38v2h-38zM1210.2 210.1h38v2h-38zM1210.2 349.9h38v2h-38zM1210.2 449.8h38v2h-38zM1248 224.1h38v2h-38zM1248 230.1h38v2h-38zM1248 236.1h38v2h-38zM1248 242.1h38v2h-38zM1248 246.1h38v2h-38zM1248 276h38v2h-38zM1285.8 236.1h38v2h-38zM1285.8 300h38v2h-38zM1285.8 304h38v2h-38zM1323.5 401.9h38v2h-38z"/>
<path fill="#7eccc6" d="M946 214.1h38v2h-38zM946 264h38v2h-38zM946 272h38v2h-38zM946 318h38v2h-38zM946 326h38v2h-38zM983.8 220.1h38v2h-38zM983.8 268h38v2h-38zM983.8 310h38v2h-38zM1021.5 56.3h38v2h-38zM1021.5 100.2h38v6h-38zM1021.5 148.2h38v2h-38zM1021.5 270h38v4h-38zM1021.5 306h38v2h-38zM1021.5 375.9h38v2h-38zM1021.5 425.8h38v2h-38zM1021.5 435.8h38v2h-38zM1021.5 439.8h38v2h-38zM1172.5 90.3h38v2h-38zM1172.5 130.2h38v2h-38zM1210.2 136.2h38v2h-38zM1210.2 238.1h38v2h-38zM1210.2 250.1h38v2h-38zM1210.2 262h38v2h-38zM1210.2 284h38v2h-38zM1210.2 328h38v2h-38zM1210.2 335.9h38v2h-38zM1210.2 347.9h38v2h-38zM1210.2 365.9h38v2h-38zM1210.2 385.9h38v2h-38zM1210.2 395.9h38v2h-38zM1248 190.1h38v2h-38zM1248 206.1h38v4h-38zM1248 228.1h38v2h-38zM1285.8 110.2h38v2h-38zM1285.8 238.1h38v2h-38zM1285.8 268h38v2h-38zM1285.8 276h38v2h-38zM1285.8 282h38v2h-38zM1323.5 347.9h38v2h-38zM1323.5 363.9h38v2h-38zM1323.5 371.9h38v2h-38zM1323.5 375.9h38v2h-38zM1323.5 399.9h38v2h-38z"/>
<path fill="#60c0cc" d="M946 220.1h38v2h-38zM946 224.1h38v2h-38zM946 238.1h38v2h-38zM983.8 128.2h38v2h-38zM983.8 238.1h38v2h-38zM1021.5 250.1h38v2h-38zM1021.5 282h38v2h-38zM1021.5 286h38v4h-38zM1021.5 304h38v2h-38zM1021.5 308h38v2h-38zM1021.5 328h38v2h-38zM1021.5 339.9h38v2h-38zM1021.5 345.9h38v2h-38zM1021.5 363.9h38v2h-38zM1021.5 383.9h38v2h-38zM1172.5 82.3h38v2h-38zM1172.5 94.3h38v2h-38zM1172.5 104.2h38v2h-38zM1172.5 112.2h38v4h-38zM1172.5 120.2h38v2h-38zM1172.5 134.2h38v2h-38zM1172.5 154.2h38v2h-38zM1172.5 290h38v2h-38zM1172.5 349.9h38v2h-38zM1172.5 367.9h38v2h-38zM1172.5 389.9h38v2h-38zM1172.5 435.8h38v4h-38zM1210.2 228.1h38v2h-38zM1210.2 377.9h38v2h-38zM1248 204.1h38v2h-38zM1248 272h38v2h-38zM1248 292h38v2h-38zM1248 306h38v2h-38zM1248 333.9h38v2h-38zM1248 415.8h38v2h-38zM1248 439.8h38v2h-38zM1323.5 318h38v2h-38zM1323.5 351.9h38v2h-38zM1323.5 373.9h38v2h-38zM1323.5 403.9h38v2h-38zM1323.5 417.8h38v2h-38z"/>
<path fill="#84d2c0" d="M946 232.1h38v2h-38zM946 246.1h38v2h-38zM946 262h38v2h-38zM946 288h38v2h-38zM983.8 246.1h38v2h-38zM983.8 296h38v2h-38zM983.8 304h38v2h-38zM983.8 441.8h38v2h-38zM1021.5 78.3h38v2h-38zM1021.5 92.3h38v2h-38zM1021.5 126.2h38v2h-38zM1021.5 130.2h38v2h-38zM1021.5 180.1h38v2h-38zM1021.5 333.9h38v2h-38zM1021.5 359.9h38v2h-38zM1021.5 391.9h38v2h-38zM1021.5 399.9h38v2h-38zM1021.5 407.9h38v2h-38zM1097 405.9h38v2h-38zM1097 415.8h38v2h-38zM1172.5 62.3h38v2h-38zM1172.5 132.2h38v2h-38zM1210.2 102.2h38v2h-38zM1210.2 106.2h38v2h-38zM1210.2 176.1h38v2h-38zM1210.2 188.1h38v2h-38zM1210.2 222.1h38v2h-38zM1210.2 296h38v2h-38zM1210.2 308h38v2h-38zM1210.2 316h38v2h-38zM1210.2 320h38v2h-38zM1210.2 337.9h38v4h-38zM1210.2 345.9h38v2h-38zM1210.2 353.9h38v2h-38zM1210.2 391.9h38v2h-38zM1210.2 429.8h38v2h-38zM1210.2 433.8h38v2h-38zM1248 110.2h38v2h-38zM1248 182.1h38v2h-38zM1248 202.1h38v2h-38zM1248 216.1h38v2h-38zM1248 240.1h38v2h-38zM1248 256h38v2h-38zM1248 270h38v2h-38zM1285.8 162.2h38v2h-38zM1285.8 194.1h38v2h-38zM1285.8 200.1h38v2h-38zM1285.8 204.1h38v2h-38zM1285.8 242.1h38v2h-38zM1285.8 258h38v2h-38zM1285.8 288h38v2h-38zM1285.8 296h38v2h-38zM1285.8 316h38v2h-38zM1285.8 328h38v2h-38zM1285.8 339.9h38v4h-38zM1285.8 383.9h38v2h-38zM1285.8 407.9h38v2h-38zM1285.8 415.8h38v10h-38zM1285.8 449.8h38v2h-38zM1323.5 266h38v2h-38zM1323.5 286h38v2h-38zM1323.5 296h38v2h-38zM1323.5 306h38v2h-38zM1323.5 320h38v4h-38zM1323.5 419.8h38v2h-38z"/>
<path fill="#78ccc6" d="M946 234.1h38v2h-38zM946 254.1h38v2h-38zM946 274h38v2h-38zM946 282h38v2h-38zM983.8 152.2h38v2h-38zM983.8 224.1h38v2h-38zM983.8 278h38v2h-38zM983.8 339.9h38v2h-38zM1021.5 60.3h38v2h-38zM1021.5 68.3h38v2h-38zM1021.5 80.3h38v2h-38zM1021.5 98.2h38v2h-38zM1021.5 106.2h38v2h-38zM1021.5 116.2h38v2h-38zM1021.5 156.2h38v2h-38zM1021.5 170.2h38v2h-38zM1021.5 192.1h38v2h-38zM1021.5 228.1h38v2h-38zM1021.5 254.1h38v4h-38zM1021.5 268h38v2h-38zM1021.5 332h38v2h-38zM1021.5 365.9h38v2h-38zM1021.5 371.9h38v2h-38zM1021.5 377.9h38v2h-38zM1021.5 433.8h38v2h-38zM1059.2 198.1h38v2h-38zM1172.5 116.2h38v2h-38zM1172.5 242.1h38v2h-38zM1172.5 296h38v2h-38zM1172.5 322h38v2h-38zM1172.5 387.9h38v2h-38zM1210.2 56.3h38v2h-38zM1210.2 70.3h38v2h-38zM1210.2 112.2h38v2h-38zM1210.2 128.2h38v2h-38zM1210.2 180.1h38v2h-38zM1210.2 198.1h38v2h-38zM1210.2 226.1h38v2h-38zM1210.2 274h38v2h-38zM1210.2 282h38v2h-38zM1210.2 286h38v2h-38zM1210.2 294h38v2h-38zM1210.2 300h38v2h-38zM1210.2 312h38v2h-38zM1248 222.1h38v2h-38zM1248 238.1h38v2h-38zM1248 250.1h38v2h-38zM1248 266h38v2h-38zM1248 274h38v2h-38zM1248 332h38v2h-38zM1248 405.9h38v2h-38zM1285.8 134.2h38v2h-38zM1285.8 138.2h38v2h-38zM1285.8 202.1h38v2h-38zM1285.8 302h38v2h-38zM1285.8 320h38v4h-38zM1285.8 347.9h38v2h-38zM1285.8 371.9h38v2h-38zM1323.5 288h38v2h-38zM1323.5 294h38v2h-38zM1323.5 308h38v4h-38zM1323.5 337.9h38v4h-38zM1323.5 381.9h38v2h-38zM1323.5 415.8h38v2h-38zM1323.5 421.8h38v4h-38z"/>
<path fill="#5abacc" d="M946 240.1h38v2h-38zM946 256h38v2h-38zM983.8 108.2h38v2h-38zM983.8 146.2h38v2h-38zM983.8 176.1h38v2h-38zM1021.5 182.1h38v2h-38zM1021.5 222.1h38v2h-38zM1021.5 322h38v2h-38zM1021.5 367.9h38v2h-38zM1021.5 395.9h38v2h-38zM1172.5 122.2h38v2h-38zM1172.5 176.1h38v2h-38zM1172.5 184.1h38v2h-38zM1172.5 198.1h38v2h-38zM1172.5 262h38v4h-38zM1172.5 268h38v2h-38zM1172.5 278h38v2h-38zM1172.5 308h38v2h-38zM1172.5 316h38v2h-38zM1172.5 375.9h38v2h-38zM1172.5 409.9h38v2h-38zM1210.2 204.1h38v2h-38zM1248 248.1h38v2h-38zM1248 288h38v2h-38zM1248 375.9h38v2h-38zM1248 387.9h38v2h-38zM1248 403.9h38v2h-38zM1248 413.8h38v2h-38z"/>
<path fill="#84ccc0" d="M946 242.1h38v2h-38zM946 280h38v2h-38zM946 286h38v2h-38zM946 320h38v2h-38zM946 345.9h38v2h-38zM1021.5 108.2h38v2h-38zM1021.5 158.2h38v2h-38zM1021.5 312h38v2h-38zM1021.5 353.9h38v2h-38zM1021.5 427.8h38v2h-38zM1021.5 437.8h38v2h-38zM1059.2 214.1h38v2h-38zM1059.2 254.1h38v2h-38zM1172.5 359.9h38v2h-38zM1210.2 74.3h38v2h-38zM1210.2 104.2h38v2h-38zM1210.2 150.2h38v2h-38zM1210.2 156.2h38v2h-38zM1210.2 164.2h38v2h-38zM1210.2 172.2h38v2h-38zM1210.2 240.1h38v2h-38zM1210.2 280h38v2h-38zM1210.2 304h38v2h-38zM1210.2 310h38v2h-38zM1210.2 367.9h38v2h-38zM1210.2 371.9h38v2h-38zM1210.2 445.8h38v2h-38zM1248 212.1h38v2h-38zM1285.8 220.1h38v2h-38zM1285.8 266h38v2h-38zM1285.8 286h38v2h-38zM1285.8 381.9h38v2h-38zM1323.5 312h38v2h-38zM1323.5 316h38v2h-38z"/>
<path fill="#7eccc0" d="M946 244.1h38v2h-38zM946 248.1h38v2h-38zM946 304h38v4h-38zM983.8 250.1h38v2h-38zM983.8 337.9h38v2h-38zM1021.5 82.3h38v2h-38zM1021.5 140.2h38v2h-38zM1021.5 320h38v2h-38zM1021.5 355.9h38v2h-38zM1172.5 128.2h38v2h-38zM1172.5 148.2h38v2h-38zM1210.2 86.3h38v2h-38zM1210.2 96.2h38v2h-38zM1210.2 146.2h38v2h-38zM1210.2 166.2h38v4h-38zM1210.2 186.1h38v2h-38zM1210.2 190.1h38v2h-38zM1210.2 194.1h38v2h-38zM1210.2 206.1h38v2h-38zM1210.2 230.1h38v2h-38zM1210.2 234.1h38v2h-38zM1210.2 272h38v2h-38zM1210.2 298h38v2h-38zM1210.2 314h38v2h-38zM1210.2 341.9h38v4h-38zM1210.2 351.9h38v2h-38zM1210.2 401.9h38v2h-38zM1210.2 415.8h38v2h-38zM1248 116.2h38v2h-38zM1248 156.2h38v2h-38zM1248 164.2h38v2h-38zM1248 184.1h38v2h-38zM1248 280h38v2h-38zM1248 302h38v2h-38zM1285.8 224.1h38v2h-38zM1285.8 240.1h38v2h-38zM1285.8 248.1h38v2h-38zM1285.8 308h38v2h-38zM1285.8 330h38v2h-38zM1285.8 345.9h38v2h-38zM1285.8 369.9h38v2h-38zM1285.8 437.8h38v2h-38zM1323.5 326h38v4h-38zM1323.5 349.9h38v2h-38zM1323.5 357.9h38v2h-38zM1323.5 365.9h38v4h-38z"/>
<path fill="#96d8ba" d="M946 250.1h38v2h-38zM946 284h38v2h-38zM946 302h38v2h-38zM946 316h38v2h-38zM946 343.9h38v2h-38zM946 351.9h38v2h-38zM946 365.9h38v2h-38zM983.8 262h38v2h-38zM983.8 298h38v2h-38zM983.8 330h38v2h-38zM983.8 345.9h38v2h-38zM983.8 349.9h38v2h-38zM983.8 353.9h38v2h-38zM983.8 399.9h38v2h-38zM1021.5 90.3h38v2h-38zM1021.5 112.2h38v2h-38zM1021.5 120.2h38v2h-38zM1021.5 144.2h38v2h-38zM1021.5 230.1h38v2h-38zM1021.5 405.9h38v2h-38zM1059.2 70.3h38v2h-38zM1059.2 82.3h38v2h-38zM1059.2 112.2h38v2h-38zM1059.2 138.2h38v2h-38zM1059.2 170.2h38v2h-38zM1059.2 208.1h38v2h-38zM1059.2 224.1h38v2h-38zM1059.2 230.1h38v2h-38zM1059.2 270h38v2h-38zM1059.2 280h38v2h-38zM1097 381.9h38v2h-38zM1097 403.9h38v2h-38zM1097 443.8h38v2h-38zM1097 447.8h38v4h-38zM1210.2 64.3h38v4h-38zM1210.2 98.2h38v2h-38zM1210.2 114.2h38v2h-38zM1210.2 120.2h38v4h-38zM1210.2 126.2h38v2h-38zM1210.2 148.2h38v2h-38zM1210.2 170.2h38v2h-38zM1210.2 232.1h38v2h-38zM1210.2 242.1h38v2h-38zM1210.2 355.9h38v2h-38zM1210.2 361.9h38v2h-38zM1210.2 389.9h38v2h-38zM1210.2 393.9h38v2h-38zM1210.2 399.9h38v2h-38zM1210.2 405.9h38v2h-38zM1210.2 421.8h38v4h-38zM1248 82.3h38v2h-38zM1248 118.2h38v2h-38zM1248 160.2h38v2h-38zM1248 172.2h38v2h-38zM1285.8 68.3h38v2h-38zM1285.8 76.3h38v2h-38zM1285.8 96.2h38v2h-38zM1285.8 132.2h38v2h-38zM1285.8 148.2h38v2h-38zM1285.8 156.2h38v2h-38zM1285.8 160.2h38v2h-38zM1285.8 164.2h38v2h-38zM1285.8 182.1h38v2h-38zM1285.8 190.1h38v2h-38zM1285.8 196.1h38v2h-38zM1285.8 206.1h38v2h-38zM1285.8 210.1h38v2h-38zM1285.8 262h38v2h-38zM1285.8 272h38v2h-38zM1285.8 298h38v2h-38zM1285.8 312h38v2h-38zM1285.8 318h38v2h-38zM1285.8 359.9h38v2h-38zM1285.8 425.8h38v2h-38zM1285.8 429.8h38v2h-38zM1323.5 106.2h38v2h-38zM1323.5 118.2h38v2h-38zM1323.5 176.1h38v2h-38zM1323.5 226.1h38v2h-38zM1323.5 240.1h38v2h-38zM1323.5 290h38v2h-38zM1323.5 298h38v2h-38zM1361.2 371.9h38v2h-38zM1361.2 377.9h38v4h-38zM1361.2 383.9h38v2h-38zM1361.2 447.8h38v4h-38z"/>
<path fill="#8ad2c0" d="M946 260h38v2h-38zM946 292h38v2h-38zM946 314h38v2h-38zM946 347.9h38v2h-38zM983.8 232.1h38v2h-38zM983.8 252.1h38v2h-38zM983.8 258h38v2h-38zM983.8 266h38v2h-38zM983.8 270h38v2h-38zM983.8 280h38v6h-38zM983.8 288h38v2h-38zM983.8 306h38v2h-38zM983.8 320h38v2h-38zM983.8 324h38v2h-38zM983.8 328h38v2h-38zM1021.5 62.3h38v2h-38zM1021.5 74.3h38v2h-38zM1021.5 84.3h38v2h-38zM1021.5 88.3h38v2h-38zM1021.5 96.2h38v2h-38zM1021.5 114.2h38v2h-38zM1021.5 122.2h38v2h-38zM1021.5 132.2h38v4h-38zM1021.5 174.2h38v2h-38zM1021.5 184.1h38v2h-38zM1021.5 188.1h38v2h-38zM1021.5 204.1h38v2h-38zM1021.5 224.1h38v2h-38zM1021.5 246.1h38v2h-38zM1021.5 387.9h38v2h-38zM1059.2 56.3h38v2h-38zM1059.2 92.3h38v2h-38zM1059.2 178.1h38v2h-38zM1059.2 194.1h38v2h-38zM1059.2 282h38v2h-38zM1097 433.8h38v2h-38zM1097 441.8h38v2h-38zM1210.2 60.3h38v2h-38zM1210.2 80.3h38v2h-38zM1210.2 90.3h38v2h-38zM1210.2 152.2h38v2h-38zM1210.2 182.1h38v2h-38zM1210.2 192.1h38v2h-38zM1210.2 200.1h38v2h-38zM1210.2 256h38v2h-38zM1210.2 324h38v2h-38zM1210.2 357.9h38v2h-38zM1210.2 369.9h38v2h-38zM1210.2 379.9h38v4h-38zM1210.2 409.9h38v4h-38zM1210.2 419.8h38v2h-38zM1210.2 435.8h38v2h-38zM1210.2 439.8h38v4h-38zM1248 130.2h38v4h-38zM1248 144.2h38v2h-38zM1248 154.2h38v2h-38zM1248 170.2h38v2h-38zM1248 232.1h38v2h-38zM1285.8 72.3h38v2h-38zM1285.8 80.3h38v2h-38zM1285.8 124.2h38v2h-38zM1285.8 178.1h38v2h-38zM1285.8 192.1h38v2h-38zM1285.8 214.1h38v2h-38zM1285.8 222.1h38v2h-38zM1285.8 226.1h38v2h-38zM1285.8 230.1h38v2h-38zM1285.8 246.1h38v2h-38zM1285.8 260h38v2h-38zM1285.8 270h38v2h-38zM1285.8 332h38v2h-38zM1285.8 343.9h38v2h-38zM1285.8 361.9h38v8h-38zM1285.8 373.9h38v2h-38zM1285.8 379.9h38v2h-38zM1285.8 387.9h38v2h-38zM1285.8 401.9h38v2h-38zM1285.8 411.9h38v4h-38zM1285.8 439.8h38v2h-38zM1323.5 300h38v2h-38zM1323.5 324h38v2h-38zM1323.5 332h38v2h-38zM1323.5 335.9h38v2h-38zM1323.5 343.9h38v2h-38z"/>
<path fill="#90d2c0" d="M946 268h38v2h-38zM946 276h38v2h-38zM946 296h38v2h-38zM946 324h38v2h-38zM983.8 240.1h38v2h-38zM983.8 292h38v2h-38zM983.8 326h38v2h-38zM1021.5 64.3h38v2h-38zM1021.5 110.2h38v2h-38zM1021.5 146.2h38v2h-38zM1021.5 154.2h38v2h-38zM1021.5 160.2h38v2h-38zM1021.5 423.8h38v2h-38zM1059.2 98.2h38v2h-38zM1059.2 264h38v2h-38zM1059.2 304h38v2h-38zM1059.2 341.9h38v2h-38zM1059.2 383.9h38v2h-38zM1097 226.1h38v2h-38zM1097 316h38v2h-38zM1210.2 68.3h38v2h-38zM1210.2 84.3h38v2h-38zM1210.2 134.2h38v2h-38zM1210.2 184.1h38v2h-38zM1210.2 208.1h38v2h-38zM1210.2 246.1h38v4h-38zM1210.2 266h38v2h-38zM1210.2 276h38v2h-38zM1210.2 330h38v2h-38zM1210.2 333.9h38v2h-38zM1210.2 363.9h38v2h-38zM1210.2 447.8h38v2h-38zM1248 98.2h38v2h-38zM1248 150.2h38v2h-38zM1248 162.2h38v2h-38zM1248 180.1h38v2h-38zM1285.8 100.2h38v6h-38zM1285.8 114.2h38v2h-38zM1285.8 140.2h38v2h-38zM1285.8 154.2h38v2h-38zM1285.8 208.1h38v2h-38zM1285.8 228.1h38v2h-38zM1285.8 290h38v2h-38zM1285.8 337.9h38v2h-38zM1285.8 349.9h38v2h-38zM1285.8 377.9h38v2h-38zM1285.8 393.9h38v6h-38zM1285.8 409.9h38v2h-38zM1323.5 182.1h38v2h-38zM1323.5 228.1h38v2h-38zM1323.5 238.1h38v2h-38zM1323.5 272h38v2h-38zM1323.5 292h38v2h-38zM1323.5 302h38v2h-38zM1323.5 333.9h38v2h-38z"/>
<path fill="#9cd8ba" d="M946 270h38v2h-38zM946 294h38v2h-38zM946 298h38v2h-38zM946 312h38v2h-38zM946 335.9h38v2h-38zM946 339.9h38v2h-38zM946 357.9h38v2h-38zM946 361.9h38v2h-38zM946 381.9h38v2h-38zM946 403.9h38v2h-38zM946 413.8h38v2h-38zM983.8 308h38v2h-38zM983.8 335.9h38v2h-38zM983.8 341.9h38v2h-38zM983.8 347.9h38v2h-38zM983.8 357.9h38v2h-38zM983.8 369.9h38v2h-38zM983.8 389.9h38v2h-38zM983.8 393.9h38v2h-38zM983.8 409.9h38v4h-38zM983.8 447.8h38v2h-38zM1021.5 94.3h38v2h-38zM1021.5 124.2h38v2h-38zM1021.5 136.2h38v2h-38zM1021.5 166.2h38v2h-38zM1059.2 84.3h38v2h-38zM1059.2 114.2h38v2h-38zM1059.2 130.2h38v6h-38zM1059.2 144.2h38v2h-38zM1059.2 156.2h38v4h-38zM1059.2 164.2h38v2h-38zM1059.2 190.1h38v4h-38zM1059.2 228.1h38v2h-38zM1059.2 234.1h38v2h-38zM1059.2 248.1h38v2h-38zM1059.2 272h38v4h-38zM1059.2 278h38v2h-38zM1059.2 288h38v2h-38zM1059.2 298h38v2h-38zM1059.2 306h38v2h-38zM1059.2 310h38v2h-38zM1059.2 314h38v2h-38zM1059.2 318h38v2h-38zM1059.2 333.9h38v2h-38zM1097 118.2h38v2h-38zM1097 150.2h38v2h-38zM1097 162.2h38v2h-38zM1097 214.1h38v2h-38zM1097 262h38v2h-38zM1097 294h38v2h-38zM1097 391.9h38v2h-38zM1097 395.9h38v2h-38zM1097 401.9h38v2h-38zM1097 407.9h38v2h-38zM1097 411.9h38v2h-38zM1097 417.8h38v4h-38zM1210.2 72.3h38v2h-38zM1210.2 216.1h38v4h-38zM1210.2 258h38v2h-38zM1210.2 268h38v2h-38zM1210.2 302h38v2h-38zM1210.2 326h38v2h-38zM1210.2 359.9h38v2h-38zM1210.2 387.9h38v2h-38zM1210.2 397.9h38v2h-38zM1210.2 407.9h38v2h-38zM1248 76.3h38v2h-38zM1248 96.2h38v2h-38zM1248 100.2h38v4h-38zM1248 114.2h38v2h-38zM1248 122.2h38v2h-38zM1248 138.2h38v2h-38zM1248 148.2h38v2h-38zM1248 166.2h38v4h-38zM1248 196.1h38v2h-38zM1285.8 60.3h38v4h-38zM1285.8 84.3h38v2h-38zM1285.8 98.2h38v2h-38zM1285.8 122.2h38v2h-38zM1285.8 146.2h38v2h-38zM1285.8 150.2h38v2h-38zM1285.8 168.2h38v2h-38zM1285.8 172.2h38v2h-38zM1285.8 188.1h38v2h-38zM1285.8 198.1h38v2h-38zM1285.8 244.1h38v2h-38zM1285.8 292h38v2h-38zM1285.8 306h38v2h-38zM1285.8 333.9h38v4h-38zM1285.8 427.8h38v2h-38zM1285.8 431.8h38v6h-38zM1323.5 110.2h38v2h-38zM1323.5 154.2h38v2h-38zM1323.5 188.1h38v2h-38zM1323.5 230.1h38v2h-38zM1323.5 262h38v4h-38zM1323.5 270h38v2h-38zM1323.5 280h38v4h-38zM1323.5 314h38v2h-38zM1361.2 397.9h38v2h-38zM1361.2 425.8h38v2h-38z"/>
<path fill="#a8deb4" d="M946 290h38v2h-38zM946 337.9h38v2h-38zM946 367.9h38v2h-38zM946 379.9h38v2h-38zM946 389.9h38v4h-38zM946 411.9h38v2h-38zM983.8 314h38v2h-38zM983.8 322h38v2h-38zM983.8 332h38v2h-38zM983.8 343.9h38v2h-38zM983.8 385.9h38v4h-38zM983.8 397.9h38v2h-38zM983.8 407.9h38v2h-38zM983.8 417.8h38v2h-38zM983.8 427.8h38v2h-38zM983.8 431.8h38v2h-38zM1059.2 76.3h38v2h-38zM1059.2 86.3h38v2h-38zM1059.2 100.2h38v4h-38zM1059.2 120.2h38v2h-38zM1059.2 126.2h38v2h-38zM1059.2 146.2h38v2h-38zM1059.2 166.2h38v4h-38zM1059.2 176.1h38v2h-38zM1059.2 180.1h38v2h-38zM1059.2 204.1h38v2h-38zM1059.2 212.1h38v2h-38zM1059.2 222.1h38v2h-38zM1059.2 240.1h38v2h-38zM1059.2 260h38v2h-38zM1059.2 276h38v2h-38zM1059.2 286h38v2h-38zM1059.2 294h38v2h-38zM1059.2 302h38v2h-38zM1059.2 316h38v2h-38zM1059.2 320h38v2h-38zM1059.2 332h38v2h-38zM1059.2 351.9h38v2h-38zM1059.2 361.9h38v2h-38zM1059.2 385.9h38v2h-38zM1059.2 389.9h38v2h-38zM1097 56.3h38v2h-38zM1097 72.3h38v2h-38zM1097 78.3h38v2h-38zM1097 106.2h38v2h-38zM1097 140.2h38v2h-38zM1097 148.2h38v2h-38zM1097 158.2h38v2h-38zM1097 198.1h38v2h-38zM1097 206.1h38v2h-38zM1097 246.1h38v2h-38zM1097 286h38v2h-38zM1097 310h38v2h-38zM1097 324h38v2h-38zM1097 353.9h38v2h-38zM1097 357.9h38v2h-38zM1097 363.9h38v2h-38zM1097 371.9h38v2h-38zM1097 383.9h38v2h-38zM1097 421.8h38v4h-38zM1097 431.8h38v2h-38zM1210.2 88.3h38v2h-38zM1210.2 94.3h38v2h-38zM1210.2 154.2h38v2h-38zM1210.2 417.8h38v2h-38zM1210.2 425.8h38v2h-38zM1210.2 437.8h38v2h-38zM1248 56.3h38v2h-38zM1248 66.3h38v2h-38zM1248 78.3h38v2h-38zM1248 120.2h38v2h-38zM1248 126.2h38v2h-38zM1248 134.2h38v2h-38zM1248 142.2h38v2h-38zM1285.8 56.3h38v4h-38zM1285.8 70.3h38v2h-38zM1285.8 74.3h38v2h-38zM1285.8 78.3h38v2h-38zM1285.8 82.3h38v2h-38zM1285.8 92.3h38v2h-38zM1285.8 112.2h38v2h-38zM1285.8 116.2h38v2h-38zM1285.8 120.2h38v2h-38zM1285.8 142.2h38v2h-38zM1285.8 158.2h38v2h-38zM1285.8 170.2h38v2h-38zM1285.8 218.1h38v2h-38zM1285.8 232.1h38v2h-38zM1285.8 403.9h38v2h-38zM1285.8 443.8h38v2h-38zM1323.5 78.3h38v2h-38zM1323.5 98.2h38v2h-38zM1323.5 116.2h38v2h-38zM1323.5 160.2h38v2h-38zM1323.5 192.1h38v2h-38zM1323.5 198.1h38v2h-38zM1323.5 214.1h38v4h-38zM1323.5 234.1h38v2h-38zM1323.5 244.1h38v2h-38zM1361.2 198.1h38v2h-38zM1361.2 341.9h38v2h-38zM1361.2 367.9h38v2h-38zM1361.2 399.9h38v2h-38zM1361.2 429.8h38v2h-38zM1361.2 439.8h38v2h-38z"/>
<path fill="#a2deb4" d="M946 308h38v2h-38zM946 328h38v2h-38zM946 355.9h38v2h-38zM946 377.9h38v2h-38zM946 383.9h38v2h-38zM946 449.8h38v2h-38zM983.8 373.9h38v2h-38zM1021.5 58.3h38v2h-38zM1021.5 152.2h38v2h-38zM1059.2 60.3h38v2h-38zM1059.2 152.2h38v2h-38zM1059.2 160.2h38v2h-38zM1059.2 292h38v2h-38zM1059.2 330h38v2h-38zM1059.2 345.9h38v2h-38zM1059.2 373.9h38v2h-38zM1097 337.9h38v2h-38zM1097 413.8h38v2h-38zM1097 445.8h38v2h-38zM1248 80.3h38v2h-38zM1248 86.3h38v2h-38zM1248 124.2h38v2h-38zM1248 128.2h38v2h-38zM1285.8 88.3h38v2h-38zM1285.8 152.2h38v2h-38zM1285.8 186.1h38v2h-38zM1285.8 250.1h38v2h-38zM1323.5 138.2h38v2h-38zM1323.5 146.2h38v2h-38zM1323.5 220.1h38v2h-38zM1323.5 242.1h38v2h-38zM1323.5 246.1h38v4h-38zM1361.2 415.8h38v2h-38z"/>
<path fill="#aedeba" d="M946 310h38v2h-38zM946 322h38v2h-38zM946 330h38v2h-38zM946 333.9h38v2h-38zM946 373.9h38v2h-38zM946 385.9h38v4h-38zM946 393.9h38v2h-38zM946 401.9h38v2h-38zM946 407.9h38v2h-38zM946 421.8h38v2h-38zM983.8 312h38v2h-38zM983.8 363.9h38v4h-38zM983.8 419.8h38v2h-38zM983.8 443.8h38v2h-38zM1059.2 62.3h38v2h-38zM1059.2 66.3h38v2h-38zM1059.2 104.2h38v2h-38zM1059.2 108.2h38v4h-38zM1059.2 124.2h38v2h-38zM1059.2 186.1h38v2h-38zM1059.2 218.1h38v2h-38zM1059.2 242.1h38v2h-38zM1059.2 258h38v2h-38zM1059.2 284h38v2h-38zM1059.2 308h38v2h-38zM1059.2 312h38v2h-38zM1059.2 322h38v2h-38zM1059.2 326h38v2h-38zM1059.2 335.9h38v2h-38zM1059.2 353.9h38v2h-38zM1059.2 371.9h38v2h-38zM1059.2 379.9h38v2h-38zM1059.2 395.9h38v2h-38zM1059.2 411.9h38v2h-38zM1059.2 441.8h38v2h-38zM1097 58.3h38v2h-38zM1097 64.3h38v2h-38zM1097 132.2h38v2h-38zM1097 138.2h38v2h-38zM1097 142.2h38v2h-38zM1097 186.1h38v2h-38zM1097 208.1h38v2h-38zM1097 218.1h38v2h-38zM1097 224.1h38v2h-38zM1097 234.1h38v2h-38zM1097 250.1h38v2h-38zM1097 254.1h38v2h-38zM1097 272h38v2h-38zM1097 284h38v2h-38zM1097 298h38v2h-38zM1097 318h38v2h-38zM1097 326h38v2h-38zM1097 341.9h38v2h-38zM1097 349.9h38v4h-38zM1097 361.9h38v2h-38zM1097 369.9h38v2h-38zM1097 375.9h38v4h-38zM1097 399.9h38v2h-38zM1097 427.8h38v2h-38zM1134.8 164.2h38v2h-38zM1248 74.3h38v2h-38zM1248 88.3h38v2h-38zM1248 94.3h38v2h-38zM1248 112.2h38v2h-38zM1285.8 66.3h38v2h-38zM1285.8 144.2h38v2h-38zM1285.8 212.1h38v2h-38zM1285.8 216.1h38v2h-38zM1285.8 234.1h38v2h-38zM1285.8 399.9h38v2h-38zM1323.5 66.3h38v2h-38zM1323.5 100.2h38v2h-38zM1323.5 108.2h38v2h-38zM1323.5 122.2h38v2h-38zM1323.5 132.2h38v2h-38zM1323.5 158.2h38v2h-38zM1323.5 184.1h38v4h-38zM1323.5 204.1h38v2h-38zM1323.5 222.1h38v2h-38zM1323.5 250.1h38v2h-38zM1323.5 260h38v2h-38zM1323.5 284h38v2h-38zM1361.2 140.2h38v2h-38zM1361.2 164.2h38v2h-38zM1361.2 182.1h38v2h-38zM1361.2 208.1h38v2h-38zM1361.2 274h38v2h-38zM1361.2 286h38v4h-38zM1361.2 306h38v2h-38zM1361.2 316h38v2h-38zM1361.2 337.9h38v2h-38zM1361.2 359.9h38v2h-38zM1361.2 373.9h38v2h-38zM1361.2 391.9h38v2h-38zM1361.2 419.8h38v2h-38zM1361.2 441.8h38v2h-38z"/>
<path fill="#a2d8ba" d="M946 332h38v2h-38zM946 363.9h38v2h-38zM946 399.9h38v2h-38zM983.8 302h38v2h-38zM983.8 371.9h38v2h-38zM983.8 439.8h38v2h-38zM1021.5 66.3h38v2h-38zM1021.5 86.3h38v2h-38zM1059.2 182.1h38v2h-38zM1059.2 206.1h38v2h-38zM1059.2 244.1h38v2h-38zM1059.2 262h38v2h-38zM1059.2 290h38v2h-38zM1059.2 300h38v2h-38zM1097 92.3h38v2h-38zM1097 194.1h38v2h-38zM1097 300h38v2h-38zM1097 330h38v2h-38zM1097 393.9h38v2h-38zM1097 435.8h38v2h-38zM1210.2 62.3h38v2h-38zM1210.2 413.8h38v2h-38zM1210.2 427.8h38v2h-38zM1248 140.2h38v2h-38zM1248 146.2h38v2h-38zM1285.8 94.3h38v2h-38zM1285.8 136.2h38v2h-38zM1285.8 176.1h38v2h-38zM1285.8 180.1h38v2h-38zM1285.8 351.9h38v2h-38zM1285.8 391.9h38v2h-38zM1323.5 82.3h38v2h-38zM1323.5 92.3h38v2h-38zM1323.5 200.1h38v2h-38zM1323.5 210.1h38v2h-38zM1323.5 236.1h38v2h-38zM1323.5 274h38v2h-38zM1361.2 347.9h38v2h-38zM1361.2 411.9h38v4h-38zM1361.2 417.8h38v2h-38z"/>
<path fill="#b4e4ba" d="M946 341.9h38v2h-38zM946 349.9h38v2h-38zM946 359.9h38v2h-38zM946 397.9h38v2h-38zM946 409.9h38v2h-38zM946 415.8h38v2h-38zM946 425.8h38v2h-38zM946 431.8h38v4h-38zM983.8 359.9h38v4h-38zM983.8 375.9h38v2h-38zM983.8 379.9h38v2h-38zM983.8 383.9h38v2h-38zM983.8 391.9h38v2h-38zM983.8 395.9h38v2h-38zM983.8 403.9h38v4h-38zM983.8 413.8h38v4h-38zM983.8 445.8h38v2h-38zM1059.2 58.3h38v2h-38zM1059.2 94.3h38v4h-38zM1059.2 118.2h38v2h-38zM1059.2 142.2h38v2h-38zM1059.2 184.1h38v2h-38zM1059.2 188.1h38v2h-38zM1059.2 196.1h38v2h-38zM1059.2 200.1h38v4h-38zM1059.2 232.1h38v2h-38zM1059.2 236.1h38v4h-38zM1059.2 250.1h38v2h-38zM1059.2 349.9h38v2h-38zM1059.2 401.9h38v2h-38zM1059.2 415.8h38v2h-38zM1059.2 427.8h38v2h-38zM1059.2 447.8h38v2h-38zM1097 82.3h38v2h-38zM1097 110.2h38v2h-38zM1097 134.2h38v2h-38zM1097 144.2h38v2h-38zM1097 178.1h38v2h-38zM1097 182.1h38v2h-38zM1097 230.1h38v2h-38zM1097 276h38v2h-38zM1097 282h38v2h-38zM1097 290h38v2h-38zM1097 302h38v4h-38zM1097 314h38v2h-38zM1097 320h38v2h-38zM1097 328h38v2h-38zM1097 343.9h38v2h-38zM1097 347.9h38v2h-38zM1097 385.9h38v2h-38zM1097 389.9h38v2h-38zM1097 397.9h38v2h-38zM1134.8 176.1h38v2h-38zM1134.8 200.1h38v2h-38zM1134.8 286h38v2h-38zM1134.8 447.8h38v2h-38zM1248 70.3h38v2h-38zM1248 84.3h38v2h-38zM1248 90.3h38v4h-38zM1248 108.2h38v2h-38zM1285.8 86.3h38v2h-38zM1323.5 56.3h38v6h-38zM1323.5 64.3h38v2h-38zM1323.5 68.3h38v8h-38zM1323.5 80.3h38v2h-38zM1323.5 94.3h38v2h-38zM1323.5 102.2h38v2h-38zM1323.5 112.2h38v2h-38zM1323.5 128.2h38v2h-38zM1323.5 148.2h38v2h-38zM1323.5 164.2h38v2h-38zM1323.5 170.2h38v2h-38zM1323.5 190.1h38v2h-38zM1323.5 196.1h38v2h-38zM1323.5 212.1h38v2h-38zM1323.5 232.1h38v2h-38zM1361.2 82.3h38v2h-38zM1361.2 100.2h38v2h-38zM1361.2 132.2h38v2h-38zM1361.2 178.1h38v2h-38zM1361.2 194.1h38v2h-38zM1361.2 206.1h38v2h-38zM1361.2 220.1h38v2h-38zM1361.2 246.1h38v2h-38zM1361.2 254.1h38v2h-38zM1361.2 264h38v2h-38zM1361.2 292h38v2h-38zM1361.2 298h38v2h-38zM1361.2 302h38v2h-38zM1361.2 322h38v2h-38zM1361.2 328h38v2h-38zM1361.2 332h38v2h-38zM1361.2 345.9h38v2h-38zM1361.2 361.9h38v2h-38zM1361.2 375.9h38v2h-38zM1361.2 395.9h38v2h-38zM1361.2 401.9h38v2h-38zM1361.2 405.9h38v2h-38zM1361.2 427.8h38v2h-38z"/>
<path fill="#c6eac0" d="M946 353.9h38v2h-38zM946 437.8h38v2h-38zM983.8 433.8h38v2h-38zM1059.2 90.3h38v2h-38zM1059.2 116.2h38v2h-38zM1059.2 296h38v2h-38zM1059.2 339.9h38v2h-38zM1059.2 369.9h38v2h-38zM1059.2 375.9h38v2h-38zM1059.2 387.9h38v2h-38zM1059.2 429.8h38v2h-38zM1059.2 433.8h38v2h-38zM1059.2 443.8h38v2h-38zM1097 116.2h38v2h-38zM1097 120.2h38v2h-38zM1097 172.2h38v2h-38zM1097 210.1h38v4h-38zM1097 220.1h38v2h-38zM1097 260h38v2h-38zM1097 296h38v2h-38zM1134.8 58.3h38v2h-38zM1134.8 84.3h38v2h-38zM1134.8 98.2h38v2h-38zM1134.8 116.2h38v2h-38zM1134.8 150.2h38v2h-38zM1134.8 204.1h38v2h-38zM1134.8 208.1h38v2h-38zM1134.8 244.1h38v2h-38zM1134.8 264h38v2h-38zM1134.8 343.9h38v4h-38zM1134.8 353.9h38v2h-38zM1134.8 369.9h38v2h-38zM1134.8 377.9h38v2h-38zM1134.8 403.9h38v2h-38zM1134.8 411.9h38v2h-38zM1134.8 421.8h38v2h-38zM1248 62.3h38v2h-38zM1323.5 76.3h38v2h-38zM1323.5 124.2h38v2h-38zM1323.5 152.2h38v2h-38zM1361.2 56.3h38v2h-38zM1361.2 108.2h38v2h-38zM1361.2 118.2h38v4h-38zM1361.2 136.2h38v2h-38zM1361.2 146.2h38v2h-38zM1361.2 158.2h38v2h-38zM1361.2 190.1h38v2h-38zM1361.2 212.1h38v2h-38zM1361.2 262h38v2h-38zM1361.2 312h38v2h-38zM1361.2 335.9h38v2h-38zM1361.2 381.9h38v2h-38zM1361.2 403.9h38v2h-38z"/>
<path fill="#a2d8b4" d="M946 369.9h38v2h-38zM983.8 333.9h38v2h-38zM1097 88.3h38v2h-38zM1285.8 174.2h38v2h-38zM1323.5 252.1h38v2h-38zM1361.2 431.8h38v2h-38z"/>
<path fill="#c0e4c0" d="M946 371.9h38v2h-38zM946 417.8h38v4h-38zM946 429.8h38v2h-38zM946 435.8h38v2h-38zM946 445.8h38v2h-38zM983.8 367.9h38v2h-38zM983.8 421.8h38v2h-38zM983.8 449.8h38v2h-38zM1059.2 68.3h38v2h-38zM1059.2 128.2h38v2h-38zM1059.2 172.2h38v2h-38zM1059.2 397.9h38v4h-38zM1059.2 409.9h38v2h-38zM1059.2 431.8h38v2h-38zM1059.2 437.8h38v2h-38zM1097 60.3h38v2h-38zM1097 74.3h38v4h-38zM1097 90.3h38v2h-38zM1097 94.3h38v2h-38zM1097 98.2h38v2h-38zM1097 112.2h38v2h-38zM1097 124.2h38v2h-38zM1097 130.2h38v2h-38zM1097 154.2h38v2h-38zM1097 160.2h38v2h-38zM1097 166.2h38v2h-38zM1097 174.2h38v2h-38zM1097 184.1h38v2h-38zM1097 192.1h38v2h-38zM1097 216.1h38v2h-38zM1097 228.1h38v2h-38zM1097 236.1h38v4h-38zM1097 248.1h38v2h-38zM1097 264h38v2h-38zM1097 359.9h38v2h-38zM1097 367.9h38v2h-38zM1134.8 60.3h38v2h-38zM1134.8 146.2h38v2h-38zM1134.8 162.2h38v2h-38zM1134.8 172.2h38v2h-38zM1134.8 186.1h38v2h-38zM1134.8 226.1h38v2h-38zM1134.8 300h38v2h-38zM1134.8 330h38v2h-38zM1134.8 361.9h38v2h-38zM1134.8 371.9h38v2h-38zM1134.8 379.9h38v2h-38zM1134.8 383.9h38v2h-38zM1134.8 393.9h38v2h-38zM1134.8 415.8h38v4h-38zM1134.8 431.8h38v2h-38zM1248 68.3h38v2h-38zM1323.5 62.3h38v2h-38zM1323.5 114.2h38v2h-38zM1323.5 142.2h38v2h-38zM1323.5 180.1h38v2h-38zM1323.5 208.1h38v2h-38zM1323.5 224.1h38v2h-38zM1361.2 64.3h38v2h-38zM1361.2 84.3h38v2h-38zM1361.2 90.3h38v2h-38zM1361.2 114.2h38v2h-38zM1361.2 154.2h38v2h-38zM1361.2 176.1h38v2h-38zM1361.2 180.1h38v2h-38zM1361.2 184.1h38v2h-38zM1361.2 192.1h38v2h-38zM1361.2 214.1h38v2h-38zM1361.2 218.1h38v2h-38zM1361.2 238.1h38v2h-38zM1361.2 244.1h38v2h-38zM1361.2 248.1h38v2h-38zM1361.2 268h38v2h-38zM1361.2 276h38v2h-38zM1361.2 339.9h38v2h-38zM1361.2 357.9h38v2h-38zM1361.2 365.9h38v2h-38zM1361.2 385.9h38v6h-38zM1361.2 433.8h38v2h-38zM1361.2 445.8h38v2h-38z"/>
<path fill="#b4deba" d="M946 375.9h38v2h-38zM983.8 425.8h38v2h-38zM1021.5 76.3h38v2h-38zM1059.2 72.3h38v2h-38zM1059.2 210.1h38v2h-38zM1059.2 252.1h38v2h-38zM1059.2 363.9h38v2h-38zM1059.2 419.8h38v2h-38zM1097 312h38v2h-38zM1097 387.9h38v2h-38zM1134.8 260h38v2h-38zM1134.8 363.9h38v2h-38zM1134.8 395.9h38v2h-38zM1248 58.3h38v2h-38zM1248 64.3h38v2h-38zM1248 106.2h38v2h-38zM1248 136.2h38v2h-38zM1285.8 90.3h38v2h-38zM1285.8 184.1h38v2h-38zM1323.5 172.2h38v2h-38zM1323.5 254.1h38v2h-38zM1361.2 110.2h38v2h-38zM1361.2 202.1h38v2h-38zM1361.2 284h38v2h-38zM1361.2 349.9h38v2h-38zM1361.2 369.9h38v2h-38z"/>
<path fill="#90d2ba" d="M946 395.9h38v2h-38zM983.8 234.1h38v2h-38zM983.8 276h38v2h-38zM983.8 286h38v2h-38zM983.8 316h38v2h-38zM983.8 351.9h38v2h-38zM983.8 355.9h38v2h-38zM1021.5 70.3h38v4h-38zM1021.5 128.2h38v2h-38zM1021.5 142.2h38v2h-38zM1021.5 232.1h38v2h-38zM1059.2 80.3h38v2h-38zM1059.2 150.2h38v2h-38zM1059.2 154.2h38v2h-38zM1059.2 226.1h38v2h-38zM1059.2 246.1h38v2h-38zM1097 373.9h38v2h-38zM1097 425.8h38v2h-38zM1210.2 76.3h38v2h-38zM1210.2 108.2h38v2h-38zM1210.2 138.2h38v4h-38zM1210.2 144.2h38v2h-38zM1210.2 236.1h38v2h-38zM1210.2 244.1h38v2h-38zM1210.2 290h38v2h-38zM1210.2 332h38v2h-38zM1210.2 373.9h38v2h-38zM1210.2 443.8h38v2h-38zM1248 174.2h38v4h-38zM1248 188.1h38v2h-38zM1285.8 64.3h38v2h-38zM1285.8 106.2h38v4h-38zM1285.8 252.1h38v2h-38zM1285.8 280h38v2h-38zM1285.8 314h38v2h-38zM1285.8 353.9h38v2h-38zM1285.8 405.9h38v2h-38zM1285.8 445.8h38v2h-38zM1323.5 256h38v2h-38zM1323.5 278h38v2h-38z"/>
<path fill="#c6eac6" d="M946 405.9h38v2h-38zM946 427.8h38v2h-38zM1059.2 343.9h38v2h-38zM1059.2 359.9h38v2h-38zM1059.2 381.9h38v2h-38zM1059.2 393.9h38v2h-38zM1059.2 425.8h38v2h-38zM1097 62.3h38v2h-38zM1097 170.2h38v2h-38zM1097 204.1h38v2h-38zM1134.8 56.3h38v2h-38zM1134.8 86.3h38v2h-38zM1134.8 112.2h38v2h-38zM1134.8 118.2h38v2h-38zM1134.8 192.1h38v2h-38zM1134.8 246.1h38v2h-38zM1134.8 339.9h38v2h-38zM1361.2 68.3h38v2h-38zM1361.2 102.2h38v4h-38zM1361.2 130.2h38v2h-38zM1361.2 150.2h38v2h-38zM1361.2 252.1h38v2h-38zM1361.2 260h38v2h-38zM1361.2 310h38v2h-38zM1361.2 437.8h38v2h-38z"/>
<path fill="#d2eacc" d="M946 423.8h38v2h-38zM1059.2 407.9h38v2h-38zM1059.2 423.8h38v2h-38zM1059.2 445.8h38v2h-38zM1097 80.3h38v2h-38zM1097 240.1h38v2h-38zM1097 270h38v2h-38zM1134.8 96.2h38v2h-38zM1134.8 142.2h38v2h-38zM1134.8 218.1h38v2h-38zM1134.8 296h38v2h-38zM1134.8 316h38v2h-38zM1134.8 328h38v2h-38zM1134.8 359.9h38v2h-38zM1134.8 409.9h38v2h-38zM1134.8 441.8h38v2h-38zM1361.2 66.3h38v2h-38zM1361.2 76.3h38v2h-38zM1361.2 128.2h38v2h-38zM1361.2 172.2h38v4h-38zM1361.2 224.1h38v2h-38zM1361.2 256h38v2h-38zM1361.2 333.9h38v2h-38z"/>
<path fill="#bae4ba" d="M946 439.8h38v4h-38zM983.8 377.9h38v2h-38zM1059.2 74.3h38v2h-38zM1059.2 78.3h38v2h-38zM1059.2 88.3h38v2h-38zM1059.2 216.1h38v2h-38zM1059.2 220.1h38v2h-38zM1059.2 337.9h38v2h-38zM1059.2 357.9h38v2h-38zM1059.2 365.9h38v4h-38zM1059.2 377.9h38v2h-38zM1059.2 421.8h38v2h-38zM1097 68.3h38v4h-38zM1097 96.2h38v2h-38zM1097 100.2h38v4h-38zM1097 108.2h38v2h-38zM1097 114.2h38v2h-38zM1097 126.2h38v4h-38zM1097 136.2h38v2h-38zM1097 176.1h38v2h-38zM1097 180.1h38v2h-38zM1097 202.1h38v2h-38zM1097 242.1h38v4h-38zM1097 280h38v2h-38zM1097 288h38v2h-38zM1097 322h38v2h-38zM1097 339.9h38v2h-38zM1097 345.9h38v2h-38zM1097 379.9h38v2h-38zM1097 429.8h38v2h-38zM1134.8 82.3h38v2h-38zM1134.8 206.1h38v2h-38zM1134.8 266h38v2h-38zM1134.8 272h38v2h-38zM1134.8 294h38v2h-38zM1134.8 367.9h38v2h-38zM1248 72.3h38v2h-38zM1248 152.2h38v2h-38zM1285.8 130.2h38v2h-38zM1323.5 86.3h38v2h-38zM1323.5 120.2h38v2h-38zM1323.5 136.2h38v2h-38zM1323.5 144.2h38v2h-38zM1323.5 156.2h38v2h-38zM1323.5 162.2h38v2h-38zM1323.5 168.2h38v2h-38zM1323.5 178.1h38v2h-38zM1361.2 92.3h38v2h-38zM1361.2 156.2h38v2h-38zM1361.2 278h38v2h-38zM1361.2 296h38v2h-38zM1361.2 304h38v2h-38zM1361.2 314h38v2h-38zM1361.2 320h38v2h-38zM1361.2 324h38v4h-38zM1361.2 343.9h38v2h-38zM1361.2 351.9h38v6h-38zM1361.2 421.8h38v4h-38zM1361.2 443.8h38v2h-38z"/>
<path fill="#d2f0cc" d="M946 443.8h38v2h-38zM1059.2 405.9h38v2h-38zM1059.2 439.8h38v2h-38zM1134.8 72.3h38v6h-38zM1134.8 110.2h38v2h-38zM1134.8 114.2h38v2h-38zM1134.8 124.2h38v4h-38zM1134.8 138.2h38v2h-38zM1134.8 144.2h38v2h-38zM1134.8 152.2h38v2h-38zM1134.8 174.2h38v2h-38zM1134.8 180.1h38v6h-38zM1134.8 188.1h38v2h-38zM1134.8 196.1h38v2h-38zM1134.8 202.1h38v2h-38zM1134.8 224.1h38v2h-38zM1134.8 252.1h38v4h-38zM1134.8 268h38v2h-38zM1134.8 284h38v2h-38zM1134.8 292h38v2h-38zM1134.8 312h38v4h-38zM1134.8 320h38v2h-38zM1134.8 326h38v2h-38zM1134.8 347.9h38v2h-38zM1134.8 351.9h38v2h-38zM1134.8 355.9h38v2h-38zM1134.8 391.9h38v2h-38zM1134.8 405.9h38v4h-38zM1134.8 419.8h38v2h-38zM1134.8 427.8h38v2h-38zM1134.8 435.8h38v2h-38zM1323.5 126.2h38v2h-38zM1361.2 60.3h38v4h-38zM1361.2 112.2h38v2h-38zM1361.2 122.2h38v4h-38zM1361.2 142.2h38v2h-38zM1361.2 200.1h38v2h-38zM1361.2 222.1h38v2h-38zM1361.2 230.1h38v2h-38zM1361.2 270h38v2h-38z"/>
<path fill="#aedeb4" d="M946 447.8h38v2h-38zM983.8 300h38v2h-38zM1059.2 64.3h38v2h-38zM1059.2 106.2h38v2h-38zM1059.2 122.2h38v2h-38zM1059.2 136.2h38v2h-38zM1059.2 140.2h38v2h-38zM1059.2 162.2h38v2h-38zM1059.2 256h38v2h-38zM1059.2 266h38v2h-38zM1059.2 391.9h38v2h-38zM1097 168.2h38v2h-38zM1097 268h38v2h-38zM1097 278h38v2h-38zM1097 332h38v2h-38zM1097 365.9h38v2h-38zM1097 437.8h38v4h-38zM1248 60.3h38v2h-38zM1248 104.2h38v2h-38zM1285.8 126.2h38v4h-38zM1285.8 166.2h38v2h-38zM1323.5 104.2h38v2h-38zM1323.5 194.1h38v2h-38zM1323.5 202.1h38v2h-38zM1323.5 218.1h38v2h-38zM1323.5 258h38v2h-38zM1323.5 268h38v2h-38zM1323.5 276h38v2h-38zM1361.2 250.1h38v2h-38zM1361.2 318h38v2h-38z"/>
<path fill="#2a8aba" d="M983.8 76.3h38v2h-38z"/>
<path fill="#48aecc" d="M983.8 86.3h38v2h-38zM983.8 132.2h38v2h-38zM1172.5 150.2h38v2h-38zM1248 409.9h38v2h-38z"/>
<path fill="#4eaed2" d="M983.8 134.2h38v2h-38zM983.8 154.2h38v2h-38zM983.8 164.2h38v2h-38zM1021.5 226.1h38v2h-38zM1021.5 349.9h38v2h-38zM1172.5 234.1h38v2h-38zM1172.5 238.1h38v2h-38zM1172.5 324h38v2h-38zM1172.5 353.9h38v2h-38zM1172.5 379.9h38v2h-38zM1248 349.9h38v2h-38zM1248 393.9h38v2h-38z"/>
<path fill="#6cc6cc" d="M983.8 218.1h38v2h-38zM1021.5 212.1h38v2h-38zM1021.5 284h38v2h-38zM1021.5 449.8h38v2h-38zM1210.2 100.2h38v2h-38zM1210.2 130.2h38v2h-38zM1210.2 252.1h38v2h-38zM1210.2 375.9h38v2h-38zM1248 260h38v2h-38zM1248 326h38v2h-38zM1285.8 310h38v2h-38zM1323.5 353.9h38v2h-38zM1323.5 369.9h38v2h-38zM1323.5 393.9h38v2h-38z"/>
<path fill="#90d8ba" d="M983.8 381.9h38v2h-38zM1285.8 375.9h38v2h-38z"/>
<path fill="#bae4c0" d="M983.8 401.9h38v2h-38zM983.8 423.8h38v2h-38zM983.8 429.8h38v2h-38zM983.8 435.8h38v4h-38zM1059.2 148.2h38v2h-38zM1059.2 174.2h38v2h-38zM1059.2 268h38v2h-38zM1059.2 324h38v2h-38zM1059.2 355.9h38v2h-38zM1059.2 413.8h38v2h-38zM1059.2 417.8h38v2h-38zM1097 104.2h38v2h-38zM1097 122.2h38v2h-38zM1097 188.1h38v4h-38zM1097 252.1h38v2h-38zM1097 256h38v2h-38zM1097 266h38v2h-38zM1097 274h38v2h-38zM1097 306h38v4h-38zM1097 333.9h38v2h-38zM1097 355.9h38v2h-38zM1097 409.9h38v2h-38zM1134.8 194.1h38v2h-38zM1134.8 210.1h38v2h-38zM1134.8 318h38v2h-38zM1134.8 413.8h38v2h-38zM1323.5 84.3h38v2h-38zM1323.5 88.3h38v2h-38zM1323.5 96.2h38v2h-38zM1323.5 134.2h38v2h-38zM1323.5 150.2h38v2h-38zM1361.2 58.3h38v2h-38zM1361.2 98.2h38v2h-38zM1361.2 162.2h38v2h-38zM1361.2 204.1h38v2h-38zM1361.2 210.1h38v2h-38zM1361.2 226.1h38v4h-38zM1361.2 240.1h38v2h-38zM1361.2 290h38v2h-38zM1361.2 294h38v2h-38zM1361.2 330h38v2h-38zM1361.2 393.9h38v2h-38zM1361.2 409.9h38v2h-38zM1361.2 435.8h38v2h-38z"/>
<path fill="#78c6c6" d="M1021.5 216.1h38v2h-38zM1021.5 234.1h38v2h-38zM1021.5 421.8h38v2h-38zM1021.5 447.8h38v2h-38zM1210.2 116.2h38v2h-38zM1210.2 292h38v2h-38z"/>
<path fill="#cceac6" d="M1059.2 328h38v2h-38zM1059.2 347.9h38v2h-38zM1059.2 435.8h38v2h-38zM1059.2 449.8h38v2h-38zM1097 84.3h38v4h-38zM1097 146.2h38v2h-38zM1097 152.2h38v2h-38zM1097 156.2h38v2h-38zM1097 164.2h38v2h-38zM1097 196.1h38v2h-38zM1097 222.1h38v2h-38zM1097 292h38v2h-38zM1134.8 66.3h38v4h-38zM1134.8 78.3h38v4h-38zM1134.8 88.3h38v2h-38zM1134.8 92.3h38v4h-38zM1134.8 102.2h38v4h-38zM1134.8 108.2h38v2h-38zM1134.8 120.2h38v4h-38zM1134.8 130.2h38v6h-38zM1134.8 140.2h38v2h-38zM1134.8 156.2h38v2h-38zM1134.8 160.2h38v2h-38zM1134.8 166.2h38v2h-38zM1134.8 178.1h38v2h-38zM1134.8 190.1h38v2h-38zM1134.8 198.1h38v2h-38zM1134.8 214.1h38v2h-38zM1134.8 220.1h38v4h-38zM1134.8 230.1h38v2h-38zM1134.8 242.1h38v2h-38zM1134.8 256h38v2h-38zM1134.8 280h38v2h-38zM1134.8 288h38v4h-38zM1134.8 302h38v2h-38zM1134.8 310h38v2h-38zM1134.8 322h38v4h-38zM1134.8 332h38v2h-38zM1134.8 335.9h38v4h-38zM1134.8 341.9h38v2h-38zM1134.8 357.9h38v2h-38zM1134.8 365.9h38v2h-38zM1134.8 373.9h38v2h-38zM1134.8 385.9h38v4h-38zM1134.8 397.9h38v2h-38zM1134.8 401.9h38v2h-38zM1134.8 433.8h38v2h-38zM1134.8 443.8h38v2h-38zM1134.8 449.8h38v2h-38zM1323.5 90.3h38v2h-38zM1323.5 130.2h38v2h-38zM1323.5 140.2h38v2h-38zM1323.5 166.2h38v2h-38zM1361.2 70.3h38v4h-38zM1361.2 86.3h38v4h-38zM1361.2 94.3h38v4h-38zM1361.2 106.2h38v2h-38zM1361.2 116.2h38v2h-38zM1361.2 134.2h38v2h-38zM1361.2 138.2h38v2h-38zM1361.2 144.2h38v2h-38zM1361.2 148.2h38v2h-38zM1361.2 160.2h38v2h-38zM1361.2 168.2h38v4h-38zM1361.2 186.1h38v2h-38zM1361.2 234.1h38v2h-38zM1361.2 258h38v2h-38zM1361.2 266h38v2h-38zM1361.2 280h38v4h-38zM1361.2 300h38v2h-38zM1361.2 308h38v2h-38zM1361.2 363.9h38v2h-38z"/>
<path fill="#c0eac0" d="M1059.2 403.9h38v2h-38zM1097 66.3h38v2h-38zM1134.8 100.2h38v2h-38zM1134.8 282h38v2h-38zM1134.8 304h38v2h-38zM1134.8 399.9h38v2h-38zM1323.5 206.1h38v2h-38zM1361.2 78.3h38v4h-38zM1361.2 216.1h38v2h-38zM1361.2 236.1h38v2h-38zM1361.2 242.1h38v2h-38zM1361.2 272h38v2h-38z"/>
<path fill="#d8f0d2" d="M1097 200.1h38v2h-38zM1134.8 64.3h38v2h-38zM1134.8 70.3h38v2h-38zM1134.8 90.3h38v2h-38zM1134.8 106.2h38v2h-38zM1134.8 136.2h38v2h-38zM1134.8 148.2h38v2h-38zM1134.8 154.2h38v2h-38zM1134.8 158.2h38v2h-38zM1134.8 168.2h38v4h-38zM1134.8 216.1h38v2h-38zM1134.8 228.1h38v2h-38zM1134.8 232.1h38v2h-38zM1134.8 240.1h38v2h-38zM1134.8 248.1h38v2h-38zM1134.8 258h38v2h-38zM1134.8 262h38v2h-38zM1134.8 270h38v2h-38zM1134.8 278h38v2h-38zM1134.8 306h38v4h-38zM1134.8 333.9h38v2h-38zM1134.8 349.9h38v2h-38zM1134.8 375.9h38v2h-38zM1134.8 425.8h38v2h-38zM1134.8 429.8h38v2h-38zM1134.8 439.8h38v2h-38zM1134.8 445.8h38v2h-38zM1361.2 74.3h38v2h-38zM1361.2 126.2h38v2h-38zM1361.2 166.2h38v2h-38zM1361.2 188.1h38v2h-38zM1361.2 232.1h38v2h-38z"/>
<path fill="#d2eac6" d="M1097 232.1h38v2h-38zM1097 258h38v2h-38zM1097 335.9h38v2h-38zM1134.8 128.2h38v2h-38zM1134.8 298h38v2h-38zM1134.8 389.9h38v2h-38zM1134.8 437.8h38v2h-38zM1323.5 174.2h38v2h-38zM1361.2 196.1h38v2h-38zM1361.2 407.9h38v2h-38z"/>
<path fill="#def0d8" d="M1134.8 62.3h38v2h-38zM1134.8 212.1h38v2h-38zM1134.8 234.1h38v6h-38zM1134.8 250.1h38v2h-38zM1134.8 274h38v4h-38zM1134.8 423.8h38v2h-38z"/>
<path fill="#d8f0d8" d="M1134.8 381.9h38v2h-38zM1361.2 152.2h38v2h-38z"/>
<path fill="#3696c0" d="M1248 447.8h38v2h-38z"/>
<line x1="1172.5" y1="57" x2="1172.5" y2="452" stroke="#1a1a1a" stroke-width="1.6" />
<rect x="946" y="456" width="226.5" height="13.7" fill="#6586b8" />
<rect x="1172.5" y="456" width="226.5" height="13.7" fill="#dc6c7a" />
<rect x="1406" y="56" width="13" height="197" fill="url(#cb)" />
<text x="1441.5" y="79.3" font-size="24" text-anchor="end">3</text>
<text x="1441.5" y="110.8" font-size="24" text-anchor="end">2</text>
<text x="1441.5" y="141.8" font-size="24" text-anchor="end">1</text>
<text x="1441.5" y="172.8" font-size="24" text-anchor="end">0</text>
<text x="1441.5" y="203.3" font-size="24" text-anchor="end">-1</text>
<text x="1441.5" y="234.1" font-size="24" text-anchor="end">-2</text>
<text x="1379" y="38.6" font-size="25" textLength="86" lengthAdjust="spacingAndGlyphs">Z-score</text>
<text x="965.4" y="486" font-size="25.5" text-anchor="end" transform="rotate(-41 965.4 486)">GV-1</text>
<text x="1003.1" y="486" font-size="25.5" text-anchor="end" transform="rotate(-41 1003.1 486)">GV-2</text>
<text x="1040.9" y="486" font-size="25.5" text-anchor="end" transform="rotate(-41 1040.9 486)">BD-1</text>
<text x="1078.6" y="486" font-size="25.5" text-anchor="end" transform="rotate(-41 1078.6 486)">BD-2</text>
<text x="1116.4" y="486" font-size="25.5" text-anchor="end" transform="rotate(-41 1116.4 486)">MII-1</text>
<text x="1154.1" y="486" font-size="25.5" text-anchor="end" transform="rotate(-41 1154.1 486)">MII-2</text>
<text x="1207.4" y="486" font-size="25.5" text-anchor="end" transform="rotate(-41 1207.4 486)">GV-1</text>
<text x="1245.1" y="486" font-size="25.5" text-anchor="end" transform="rotate(-41 1245.1 486)">GV-2</text>
<text x="1282.9" y="486" font-size="25.5" text-anchor="end" transform="rotate(-41 1282.9 486)">BD-1</text>
<text x="1320.6" y="486" font-size="25.5" text-anchor="end" transform="rotate(-41 1320.6 486)">BD-2</text>
<text x="1358.4" y="486" font-size="25.5" text-anchor="end" transform="rotate(-41 1358.4 486)">MII-1</text>
<text x="1396.1" y="486" font-size="25.5" text-anchor="end" transform="rotate(-41 1396.1 486)">MII-2</text>
<line x1="965" y1="529" x2="1153" y2="529" stroke="#000" stroke-width="2.6" />
<line x1="1191" y1="529" x2="1379.5" y2="529" stroke="#000" stroke-width="2.6" />
<text x="1051" y="561" font-size="34.5" text-anchor="middle" textLength="52" lengthAdjust="spacingAndGlyphs">WT</text>
<text x="1217.5" y="561" font-size="34.5" font-style="italic" textLength="124" lengthAdjust="spacingAndGlyphs">Alkbh5<tspan font-size="23" dy="-14">-/-</tspan></text>
<text x="1537" y="44.5" font-size="50" font-weight="bold">c</text>
<ellipse cx="1840" cy="198" rx="172" ry="52" fill="#fbe5e8" transform="rotate(38 1840 198)"/>
<ellipse cx="1773" cy="282" rx="176" ry="56" fill="#d5edf8" transform="rotate(50 1773 282)"/>
<rect x="1634" y="69" width="364.5" height="367" fill="none" stroke="#555" stroke-width="1.6"/>
<line x1="1628" y1="140" x2="1634" y2="140" stroke="#555" stroke-width="1.5" />
<text x="1628.2" y="154.7" font-size="36.4" text-anchor="end" textLength="46.5" lengthAdjust="spacingAndGlyphs">0.5</text>
<line x1="1628" y1="238.8" x2="1634" y2="238.8" stroke="#555" stroke-width="1.5" />
<text x="1628.2" y="253.5" font-size="36.4" text-anchor="end" textLength="46.5" lengthAdjust="spacingAndGlyphs">0.0</text>
<line x1="1628" y1="338.4" x2="1634" y2="338.4" stroke="#555" stroke-width="1.5" />
<text x="1628.2" y="353.1" font-size="36.4" text-anchor="end" textLength="62" lengthAdjust="spacingAndGlyphs">-0.5</text>
<line x1="1711" y1="436" x2="1711" y2="442" stroke="#555" stroke-width="1.5" />
<text x="1706" y="470.1" font-size="36.4" text-anchor="middle" textLength="60.3" lengthAdjust="spacingAndGlyphs">-0.5</text>
<line x1="1800.4" y1="436" x2="1800.4" y2="442" stroke="#555" stroke-width="1.5" />
<text x="1801.7" y="470.1" font-size="36.4" text-anchor="middle" textLength="47.5" lengthAdjust="spacingAndGlyphs">0.0</text>
<line x1="1890" y1="436" x2="1890" y2="442" stroke="#555" stroke-width="1.5" />
<text x="1885" y="470.1" font-size="36.4" text-anchor="middle" textLength="47.5" lengthAdjust="spacingAndGlyphs">0.5</text>
<line x1="1979.5" y1="436" x2="1979.5" y2="442" stroke="#555" stroke-width="1.5" />
<text x="1971.6" y="470.1" font-size="36.4" text-anchor="middle" textLength="47.5" lengthAdjust="spacingAndGlyphs">1.0</text>
<text x="1812.5" y="511.3" font-size="36.4" text-anchor="middle" textLength="247" lengthAdjust="spacingAndGlyphs">PCA1 (21.87%)</text>
<text x="1566" y="235.9" font-size="36.4" text-anchor="middle" textLength="246" lengthAdjust="spacingAndGlyphs" transform="rotate(-90 1566 235.9)">PCA2 (21.04%)</text>
<circle cx="1753.4" cy="148.6" r="5.3" fill="#d2303f" />
<circle cx="1793" cy="142" r="5.3" fill="#d2303f" />
<circle cx="1857" cy="211" r="5.3" fill="#f0b33d" />
<circle cx="1876" cy="208" r="5.3" fill="#f0b33d" />
<circle cx="1842.7" cy="234.7" r="5.3" fill="#ef8433" />
<circle cx="1873.5" cy="222.6" r="5.3" fill="#ef8433" />
<circle cx="1711.7" cy="225" r="5.3" fill="#52409a" />
<circle cx="1734.7" cy="213.4" r="5.3" fill="#52409a" />
<circle cx="1766.4" cy="316" r="5.3" fill="#1d59a3" />
<circle cx="1786" cy="313.3" r="5.3" fill="#1d59a3" />
<circle cx="1801.5" cy="291" r="5.3" fill="#39b3e4" />
<circle cx="1816" cy="308.7" r="5.3" fill="#39b3e4" />
<text x="1727.5" y="131" font-size="28.5" fill="#d2303f" textLength="111.5" lengthAdjust="spacingAndGlyphs">MII (WT)</text>
<text x="1873" y="183" font-size="28.5" fill="#f0b33d" textLength="112" lengthAdjust="spacingAndGlyphs">GV (WT)</text>
<text x="1644" y="263.5" font-size="28.5" fill="#52409a" textLength="108" lengthAdjust="spacingAndGlyphs">MII (KO)</text>
<text x="1840" y="270.7" font-size="28.5" fill="#ef8433" textLength="110.7" lengthAdjust="spacingAndGlyphs">BD (WT)</text>
<text x="1818" y="337" font-size="28.5" fill="#39b3e4" textLength="109.7" lengthAdjust="spacingAndGlyphs">GV (KO)</text>
<text x="1678.6" y="352.8" font-size="28.5" fill="#1d59a3" textLength="106.4" lengthAdjust="spacingAndGlyphs">BD (KO)</text>
<text x="1" y="631.6" font-size="50" font-weight="bold">d</text>
<rect x="191" y="694.3" width="30" height="14.9" fill="#fff" stroke="#000" stroke-width="2.6"/>
<rect x="239" y="694.3" width="31" height="208.2" fill="#808080" stroke="#000" stroke-width="2.6"/>
<rect x="319" y="694.3" width="30.5" height="20.4" fill="#fff" stroke="#000" stroke-width="2.6"/>
<rect x="367.6" y="694.3" width="31.4" height="234.2" fill="#808080" stroke="#000" stroke-width="2.6"/>
<rect x="448" y="694.3" width="30" height="11.2" fill="#fff" stroke="#000" stroke-width="2.6"/>
<rect x="496" y="694.3" width="31" height="217.4" fill="#808080" stroke="#000" stroke-width="2.6"/>
<line x1="253.7" y1="854.7" x2="253.7" y2="952.4" stroke="#000" stroke-width="2.6" />
<line x1="245.7" y1="854.7" x2="261.7" y2="854.7" stroke="#000" stroke-width="2.6" />
<line x1="245.7" y1="952.4" x2="261.7" y2="952.4" stroke="#000" stroke-width="2.6" />
<line x1="383.5" y1="877" x2="383.5" y2="980" stroke="#000" stroke-width="2.6" />
<line x1="375.5" y1="877" x2="391.5" y2="877" stroke="#000" stroke-width="2.6" />
<line x1="375.5" y1="980" x2="391.5" y2="980" stroke="#000" stroke-width="2.6" />
<line x1="334" y1="700" x2="334" y2="731" stroke="#000" stroke-width="2.4" />
<line x1="327" y1="731" x2="341" y2="731" stroke="#000" stroke-width="2.4" />
<line x1="327" y1="700" x2="341" y2="700" stroke="#000" stroke-width="2.4" />
<line x1="174" y1="693" x2="174" y2="1067.3" stroke="#000" stroke-width="2.6" />
<line x1="158.5" y1="694.3" x2="545.7" y2="694.3" stroke="#000" stroke-width="2.6" />
<line x1="158.5" y1="1066" x2="545.7" y2="1066" stroke="#000" stroke-width="2.6" />
<line x1="158.5" y1="694.3" x2="174" y2="694.3" stroke="#000" stroke-width="2.6" />
<text x="152.5" y="706.6" font-size="46" text-anchor="end" textLength="21.5" lengthAdjust="spacingAndGlyphs">0</text>
<line x1="158.5" y1="768.6" x2="174" y2="768.6" stroke="#000" stroke-width="2.6" />
<text x="152.5" y="780.9" font-size="46" text-anchor="end" textLength="36" lengthAdjust="spacingAndGlyphs">-2</text>
<line x1="158.5" y1="843" x2="174" y2="843" stroke="#000" stroke-width="2.6" />
<text x="152.5" y="855.3" font-size="46" text-anchor="end" textLength="36" lengthAdjust="spacingAndGlyphs">-4</text>
<line x1="158.5" y1="917.3" x2="174" y2="917.3" stroke="#000" stroke-width="2.6" />
<text x="152.5" y="929.6" font-size="46" text-anchor="end" textLength="36" lengthAdjust="spacingAndGlyphs">-6</text>
<line x1="158.5" y1="991.7" x2="174" y2="991.7" stroke="#000" stroke-width="2.6" />
<text x="152.5" y="1004" font-size="46" text-anchor="end" textLength="36" lengthAdjust="spacingAndGlyphs">-8</text>
<line x1="158.5" y1="1066" x2="174" y2="1066" stroke="#000" stroke-width="2.6" />
<text x="152.5" y="1078.3" font-size="46" text-anchor="end" textLength="59.5" lengthAdjust="spacingAndGlyphs">-10</text>
<line x1="229.7" y1="1066" x2="229.7" y2="1080.7" stroke="#000" stroke-width="2.6" />
<line x1="357.6" y1="1066" x2="357.6" y2="1080.7" stroke="#000" stroke-width="2.6" />
<line x1="486.7" y1="1066" x2="486.7" y2="1080.7" stroke="#000" stroke-width="2.6" />
<text x="232.8" y="1121" font-size="46" text-anchor="middle" textLength="61.6" lengthAdjust="spacingAndGlyphs">GV</text>
<text x="359.4" y="1121" font-size="46" text-anchor="middle" textLength="55.2" lengthAdjust="spacingAndGlyphs">BD</text>
<text x="487.5" y="1121" font-size="46" text-anchor="middle" textLength="57" lengthAdjust="spacingAndGlyphs">MII</text>
<circle cx="253.7" cy="868.7" r="7.3" fill="#d9506a" fill-opacity="0.85"/>
<circle cx="253.7" cy="938.4" r="7.3" fill="#d9506a" fill-opacity="0.85"/>
<circle cx="383.5" cy="892.7" r="7.3" fill="#d9506a" fill-opacity="0.85"/>
<circle cx="383.5" cy="965.3" r="7.3" fill="#d9506a" fill-opacity="0.85"/>
<circle cx="502" cy="911" r="7.3" fill="#d9506a" fill-opacity="0.85"/>
<circle cx="520" cy="911" r="7.3" fill="#d9506a" fill-opacity="0.85"/>
<circle cx="197.6" cy="709.8" r="6.6" fill="#000" />
<circle cx="210.5" cy="705.4" r="6.6" fill="#000" />
<circle cx="215" cy="702.8" r="6.6" fill="#000" />
<circle cx="334" cy="705.4" r="6.6" fill="#000" />
<circle cx="334" cy="726.7" r="6.6" fill="#000" />
<circle cx="454" cy="708.3" r="6.6" fill="#000" />
<circle cx="471" cy="707.2" r="6.6" fill="#000" />
<circle cx="223.8" cy="1030.5" r="6.6" fill="#000" />
<text x="249" y="1038.8" font-size="44.5" textLength="83" lengthAdjust="spacingAndGlyphs">Actb</text>
<circle cx="376.8" cy="1030.5" r="7.3" fill="#d9506a" fill-opacity="0.85"/>
<text x="402" y="1038.8" font-size="44.5" textLength="130.8" lengthAdjust="spacingAndGlyphs">Alkbh5</text>
<text x="57.1" y="1063.5" font-size="45.5" textLength="353" lengthAdjust="spacingAndGlyphs" transform="rotate(-90 57.1 1063.5)">Log<tspan font-size="28" dy="8">2</tspan><tspan dy="-8">(FoldChange)</tspan></text>
<text x="109.6" y="887" font-size="45.5" text-anchor="middle" textLength="173.5" lengthAdjust="spacingAndGlyphs" transform="rotate(-90 109.6 887)">(KO/WT)</text>
<text x="636" y="631" font-size="50" font-weight="bold">e</text>
<line x1="868.7" y1="702" x2="868.7" y2="1081.4" stroke="#000" stroke-width="2.4" />
<line x1="853.8" y1="1067.7" x2="1231.8" y2="1067.7" stroke="#000" stroke-width="2.4" />
<line x1="1231.8" y1="1067.7" x2="1231.8" y2="1081.4" stroke="#000" stroke-width="2.4" />
<line x1="853.8" y1="703.4" x2="868.7" y2="703.4" stroke="#000" stroke-width="2.4" />
<text x="851.3" y="712.5" font-size="44.3" text-anchor="end" textLength="57.5" lengthAdjust="spacingAndGlyphs">1.5</text>
<line x1="853.8" y1="825.2" x2="868.7" y2="825.2" stroke="#000" stroke-width="2.4" />
<text x="851.3" y="836.5" font-size="44.3" text-anchor="end" textLength="57.5" lengthAdjust="spacingAndGlyphs">1.0</text>
<line x1="853.8" y1="946.5" x2="868.7" y2="946.5" stroke="#000" stroke-width="2.4" />
<text x="851.3" y="959.7" font-size="44.3" text-anchor="end" textLength="57.5" lengthAdjust="spacingAndGlyphs">0.5</text>
<line x1="853.8" y1="1067.7" x2="868.7" y2="1067.7" stroke="#000" stroke-width="2.4" />
<text x="851.3" y="1080.8" font-size="44.3" text-anchor="end" textLength="57.5" lengthAdjust="spacingAndGlyphs">0.0</text>
<line x1="959.6" y1="1067.7" x2="959.6" y2="1081.4" stroke="#000" stroke-width="2.4" />
<line x1="1050" y1="1067.7" x2="1050" y2="1081.4" stroke="#000" stroke-width="2.4" />
<line x1="1141" y1="1067.7" x2="1141" y2="1081.4" stroke="#000" stroke-width="2.4" />
<text x="958.7" y="1117" font-size="42.5" text-anchor="middle" textLength="58.5" lengthAdjust="spacingAndGlyphs">GV</text>
<text x="1048.9" y="1117" font-size="42.5" text-anchor="middle" textLength="54.8" lengthAdjust="spacingAndGlyphs">BD</text>
<text x="1140.2" y="1117" font-size="42.5" text-anchor="middle" textLength="54.8" lengthAdjust="spacingAndGlyphs">MII</text>
<text x="783.6" y="879.1" font-size="46" text-anchor="middle" textLength="466" lengthAdjust="spacingAndGlyphs" transform="rotate(-90 783.6 879.1)">Total RNA (Normalized)</text>
<line x1="959.6" y1="808.4" x2="959.6" y2="842.4" stroke="#dc6371" stroke-width="2.4" />
<line x1="950.6" y1="808.4" x2="968.6" y2="808.4" stroke="#dc6371" stroke-width="2.4" />
<line x1="950.6" y1="842.4" x2="968.6" y2="842.4" stroke="#dc6371" stroke-width="2.4" />
<line x1="1050" y1="824" x2="1050" y2="887.5" stroke="#dc6371" stroke-width="2.4" />
<line x1="1041" y1="824" x2="1059" y2="824" stroke="#dc6371" stroke-width="2.4" />
<line x1="1041" y1="887.5" x2="1059" y2="887.5" stroke="#dc6371" stroke-width="2.4" />
<line x1="1141" y1="909" x2="1141" y2="974.8" stroke="#dc6371" stroke-width="2.4" />
<line x1="1132" y1="909" x2="1150" y2="909" stroke="#dc6371" stroke-width="2.4" />
<line x1="1132" y1="974.8" x2="1150" y2="974.8" stroke="#dc6371" stroke-width="2.4" />
<line x1="959.6" y1="818" x2="959.6" y2="832.6" stroke="#5a87c6" stroke-width="2.4" />
<line x1="950.6" y1="818" x2="968.6" y2="818" stroke="#5a87c6" stroke-width="2.4" />
<line x1="950.6" y1="832.6" x2="968.6" y2="832.6" stroke="#5a87c6" stroke-width="2.4" />
<line x1="1050" y1="806.4" x2="1050" y2="913" stroke="#5a87c6" stroke-width="2.4" />
<line x1="1041" y1="806.4" x2="1059" y2="806.4" stroke="#5a87c6" stroke-width="2.4" />
<line x1="1041" y1="913" x2="1059" y2="913" stroke="#5a87c6" stroke-width="2.4" />
<line x1="1141" y1="939" x2="1141" y2="993" stroke="#5a87c6" stroke-width="2.4" />
<line x1="1132" y1="939" x2="1150" y2="939" stroke="#5a87c6" stroke-width="2.4" />
<line x1="1132" y1="993" x2="1150" y2="993" stroke="#5a87c6" stroke-width="2.4" />
<polyline points="959.6,825.6 1050,854 1141,938.4" fill="none" stroke="#dc6371" stroke-width="5.3" stroke-linejoin="round"/>
<polyline points="959.6,825.6 1050,859 1141,966.6" fill="none" stroke="#5a87c6" stroke-width="5.3" stroke-linejoin="round"/>
<circle cx="959.6" cy="825.6" r="3" fill="#5a87c6" />
<circle cx="1141" cy="966.6" r="3" fill="#5a87c6" />
<line x1="1002" y1="713" x2="1043" y2="713" stroke="#5a87c6" stroke-width="5.5" stroke-linecap="round"/>
<text x="1058" y="723.5" font-size="42" textLength="64" lengthAdjust="spacingAndGlyphs">WT</text>
<line x1="1002" y1="763" x2="1043" y2="763" stroke="#dc6371" stroke-width="5.5" stroke-linecap="round"/>
<text x="1058" y="776" font-size="42" font-style="italic" textLength="160" lengthAdjust="spacingAndGlyphs">Alkbh5<tspan font-size="28" dy="-15">-/-</tspan></text>
<text x="6" y="1260" font-size="50" font-weight="bold">f</text>
<rect x="106.7" y="1305.7" width="429.5" height="427.5" fill="#fff" stroke="#9a9a9a" stroke-width="1.8"/>
<line x1="299.4" y1="1305.7" x2="299.4" y2="1733.2" stroke="#666" stroke-width="1.5" stroke-dasharray="5 4"/>
<line x1="342.9" y1="1305.7" x2="342.9" y2="1733.2" stroke="#666" stroke-width="1.5" stroke-dasharray="5 4"/>
<line x1="106.7" y1="1688.5" x2="536.2" y2="1688.5" stroke="#888" stroke-width="1.5" stroke-dasharray="5 4"/>
<path d="M445.1 1711.1h0M356.4 1701.7h0M241.1 1701h0M401.4 1710.8h0M377.2 1706.8h0M315.8 1709.9h0M224.9 1698.9h0M399.5 1701.7h0M368.3 1706.1h0M409 1704.4h0M275.3 1713.7h0M256.1 1709.3h0M418.1 1702.3h0M374.2 1692.5h0M296.4 1704.5h0M414.5 1702.9h0M402.7 1709.3h0M382.9 1714.1h0M457.3 1690.5h0M362.7 1713.4h0M340.7 1692.4h0M439.1 1710h0M310.6 1695.9h0M224.7 1703.1h0M362.6 1711.4h0M292.8 1704h0M250 1701.9h0M371.9 1692.8h0M303.1 1703.4h0M346.6 1712.3h0M319.5 1712.2h0M427.9 1701.1h0M300.8 1714h0M435 1694h0M266.5 1698.9h0M430.3 1714.4h0M319.7 1692.9h0M351.6 1695.6h0M372.1 1708h0M398 1712.4h0M265 1704.8h0M341.1 1708.5h0M315.3 1710h0M446.9 1709.2h0M371.4 1700.4h0M403.2 1709h0M345.1 1705h0M356.5 1714.1h0M267.2 1705.7h0M336.9 1713.8h0M267.8 1711.8h0M312.7 1692.2h0M307.4 1695.3h0M365.4 1712.6h0M271.2 1708.6h0M305.7 1694.6h0M434.2 1694.8h0M405.5 1713.9h0M420.6 1697.8h0M229.8 1689.4h0M263.7 1710.6h0M443.6 1705.8h0M272 1697.9h0M304.5 1703.8h0M322.5 1707.4h0M404 1707.4h0M372 1713.8h0M402.2 1711.9h0M329.6 1697.3h0M413.1 1706.5h0M189.3 1689.8h0M423.2 1692.5h0M379.5 1701.4h0M331.9 1702.2h0M397.4 1694.5h0M236.6 1704.3h0M312.2 1698.4h0M237.8 1713.8h0M316.9 1704.4h0M359.4 1711.9h0M372 1701h0M399.3 1699.3h0M192.9 1714.2h0M347.7 1702.6h0M368.2 1710.8h0M301.5 1706.2h0M337.7 1707.9h0M266 1702.7h0M249.3 1710h0M271.7 1708.6h0M285.3 1713.4h0M311.8 1713.3h0M397.6 1709.1h0M351.6 1698.4h0M310 1706.6h0M384.1 1712.3h0M277.1 1711.2h0M372.7 1714.5h0M230.5 1712h0M374.5 1706.1h0M399 1699.7h0M408.9 1696.7h0M287.1 1707h0M328.5 1708h0M306.5 1710.8h0M390.4 1704.9h0M206.3 1706.7h0M357.5 1710.2h0M394.7 1714.4h0M320 1709.5h0M344 1714h0M190.7 1709.5h0M239.8 1703.1h0M305.3 1694.4h0M223.5 1706.9h0M298.9 1709.4h0M271.6 1706h0M319.2 1691.9h0M386.8 1695.3h0M217.5 1698.5h0M271.8 1709.6h0M287.4 1697.4h0M343.2 1693h0M308.3 1709.5h0M221.3 1695.3h0M391.2 1708.9h0M332.6 1689.3h0M206.8 1704.4h0M400.2 1692.8h0M302.3 1694.6h0M387.3 1706.5h0M377.3 1696.8h0M236.9 1702.2h0M230.9 1706.7h0M357.3 1711.8h0M310.6 1706.3h0M344.4 1692.8h0M337.1 1707.9h0M369.7 1712.8h0M348.6 1702.4h0M271.8 1709.6h0M269.4 1708.4h0M480.3 1709.6h0M198.3 1692.7h0M304 1703.8h0M389.7 1695.5h0M296.2 1702.9h0M370.3 1706h0M305 1714.3h0M354.2 1705.6h0M303.9 1547.2h0M299.8 1598.6h0M301.2 1623h0M302.5 1610.8h0" stroke="#8f8f8f" stroke-width="5.4" stroke-linecap="round" fill="none" stroke-opacity="0.4"/>
<path d="M327.7 1710.7h0M269.1 1708.8h0M377.5 1695.5h0M376.7 1695.8h0M316.4 1707.6h0M334.2 1713.8h0M312.4 1699.7h0M342.8 1713.1h0M400.9 1708.1h0M318.8 1709.9h0M472.3 1704.5h0M362.7 1709h0M368 1706.3h0M387 1692.3h0M270.6 1712.9h0M333 1711.2h0M386.6 1713.7h0M325 1692.9h0M191.4 1704.1h0M373.8 1712.7h0M252.9 1714.3h0M297.2 1712.7h0M385.4 1714h0M351 1712.9h0M295.1 1708.4h0M251.1 1704.9h0M323.7 1709.5h0M431.5 1695.1h0M303 1708.6h0M252.1 1712.8h0M321.2 1695.4h0M281.1 1714h0M302.1 1696h0M222.1 1710h0M237.3 1700.8h0M196.7 1713.8h0M355.9 1689.6h0M374.3 1710.6h0M262.7 1706.5h0M416.1 1700.3h0M274.7 1710.3h0M315.8 1697.1h0M309.8 1696h0M315.7 1714h0M405.9 1709.1h0M265.6 1708.4h0M308.6 1705.6h0M331.5 1692.1h0M339.7 1705.7h0M346.9 1711.5h0M366.6 1700.3h0M277.8 1702.4h0M427.7 1691.8h0M390.4 1710.8h0M260.7 1694.8h0M248.1 1707.3h0M270 1711.6h0M414.6 1710.7h0M297.1 1707.3h0M317.3 1714.4h0M416.6 1698.1h0M340.1 1708.5h0M310 1695.1h0M430 1711h0M416.3 1711.3h0M330.4 1706.8h0M364.9 1708.3h0M312.9 1692.9h0M255.1 1707.2h0M201.4 1702.6h0M278.6 1707.3h0M235.3 1711.5h0M415.7 1709.7h0M295.3 1710.1h0M305.9 1695.9h0M323.3 1713.1h0M282.8 1694.8h0M330.3 1706.6h0M343.1 1701h0M407.4 1709.6h0M318.7 1710.5h0M324.5 1701.7h0M339 1713h0M311.3 1701.1h0M356 1708.7h0M374.7 1707.9h0M286.2 1701.2h0M458.9 1711.8h0M456.3 1707.8h0M318.6 1707.2h0M299.4 1708.6h0M249.5 1695.3h0M366.1 1711.4h0M296.9 1711.9h0M272.3 1688.9h0M316.5 1710.1h0M366.2 1713h0M334.4 1709.1h0M375.8 1710h0M435.6 1711.5h0M365.5 1704.7h0M273.9 1707.5h0M307.6 1696.3h0M223.1 1693.6h0M268.9 1712h0M378.3 1706.4h0M301.1 1699.7h0M365 1712.7h0M375.8 1712.7h0M310 1708.8h0M333.9 1703.1h0M277.1 1710h0M240.4 1711.3h0M310.8 1701.9h0M230.8 1700.5h0M280.4 1700h0M425.8 1708.6h0M402.7 1712.4h0M300.9 1707.9h0M372.5 1700.7h0M290.4 1693.3h0M279 1700.7h0M248.5 1699.7h0M376 1701.5h0M358.1 1707.9h0M369.3 1710.3h0M316.9 1704.2h0M284.3 1699.4h0M268.3 1710.9h0M362.3 1704.9h0M353.1 1696.1h0M296.1 1713h0M378.6 1709.2h0M281.5 1700.5h0M333.3 1704.1h0M341.5 1713.5h0M404.4 1713.3h0M212.2 1706.4h0M269.6 1697.3h0M456 1710.6h0M411 1708.4h0M389 1712.9h0M217.3 1713.1h0M367 1711.8h0M192.3 1702.4h0M426.1 1703.7h0M360.1 1709.9h0M337.6 1696h0M264.6 1713.2h0M438.6 1706.4h0M305.8 1557.5h0M303.9 1604.1h0M305.2 1628.4h0M298.5 1609.5h0" stroke="#8f8f8f" stroke-width="5.4" stroke-linecap="round" fill="none" stroke-opacity="0.4"/>
<path d="M292.4 1710.7h0M374.3 1707.8h0M326.2 1706.3h0M370.3 1713.6h0M314.6 1708.7h0M348 1697.6h0M316.7 1713.4h0M215.8 1700.2h0M354.6 1713h0M222.9 1698.7h0M292.9 1695.7h0M367.9 1710.1h0M280.6 1691.5h0M257.4 1706.3h0M293.3 1711.5h0M385.6 1699.3h0M218.8 1706.7h0M475.3 1714.1h0M310.8 1707.5h0M225.9 1711.9h0M299.9 1712.9h0M379.4 1702.5h0M296.4 1712.7h0M241.6 1705.9h0M390.9 1706.4h0M362.3 1710.4h0M336.3 1706.1h0M333 1703.4h0M285.2 1706.1h0M232 1696.7h0M236.6 1714.2h0M215.6 1694h0M317.3 1710.2h0M405.9 1697.9h0M340.1 1699.2h0M305.6 1710.3h0M282.2 1710.8h0M370.9 1701.2h0M315.6 1706.6h0M332.3 1712.2h0M269.2 1713.6h0M435.9 1705.1h0M374.1 1699.3h0M396.8 1713.4h0M275.6 1695.8h0M298.3 1694.3h0M321.9 1708h0M316.9 1694.9h0M251.1 1702.9h0M228.1 1704.1h0M313.7 1710.8h0M251.5 1712.5h0M336.4 1702.4h0M379.1 1710.9h0M317 1698.9h0M239.4 1709.2h0M315.8 1698h0M251.2 1708.7h0M396 1704.5h0M328.1 1711.7h0M350.8 1705.7h0M410.5 1702.1h0M402.3 1709.8h0M300.7 1707.1h0M362.5 1708.8h0M347.9 1701.9h0M274.7 1703.5h0M419.2 1711.6h0M314.3 1709.3h0M252.4 1703.5h0M362.7 1710.6h0M309.9 1702.6h0M327.6 1711.8h0M437.6 1714.2h0M349.4 1708.2h0M352.2 1710.9h0M345.3 1710h0M387.7 1707.4h0M312.9 1709.3h0M326.4 1709.1h0M408.4 1708.7h0M310.8 1700.6h0M227.5 1706.5h0M293.8 1708.9h0M423.3 1690.6h0M311.2 1713.5h0M303.9 1697.6h0M441.3 1714.3h0M362.6 1703h0M416 1700.8h0M472.6 1708.2h0M343.4 1707.2h0M377.4 1708.2h0M410 1708.9h0M366.5 1690.6h0M332.4 1702.3h0M319.8 1706.6h0M372.3 1714.3h0M275.3 1704.6h0M373.7 1712.4h0M278.6 1706.2h0M243.9 1713.3h0M279.1 1698.8h0M399.4 1699.9h0M234.8 1700.3h0M429.9 1709h0M351.5 1708.7h0M402.3 1710.5h0M371.2 1711.8h0M306.2 1705.6h0M484.6 1710h0M365.6 1710.6h0M416.7 1698.6h0M289.4 1704.4h0M414.2 1713.5h0M404.9 1703.9h0M361.7 1699.5h0M416.8 1705.1h0M352 1713.8h0M403.8 1709.9h0M339.8 1701.8h0M338.1 1704.4h0M269 1693.9h0M310.2 1710.7h0M274.1 1695.5h0M376.9 1704h0M247.2 1707.3h0M427.8 1710.9h0M390.2 1709.7h0M316.8 1713h0M253.5 1711.1h0M341.7 1703.8h0M318.9 1705.8h0M286 1694.5h0M377 1698.2h0M190.3 1700.6h0M358.5 1714.5h0M337.8 1714.5h0M302.6 1697h0M285.8 1705.6h0M320 1710.1h0M241 1692h0M371.6 1713.5h0M373 1711.5h0M354.4 1705.3h0M302.1 1706h0M410.4 1688.5h0M270.7 1710h0M376.4 1712.6h0M332.2 1706.8h0M307.4 1585.1h0M306.6 1613.5h0M307.9 1618.9h0" stroke="#8f8f8f" stroke-width="5.4" stroke-linecap="round" fill="none" stroke-opacity="0.4"/>
<path d="M252.4 1714.5 L263.3 1704.2 L274.1 1693.4 L284.9 1685.3 L293.1 1669 L298.5 1647.4 L303.9 1637.9 L308.8 1635.2 L312.5 1644.7 L316.1 1666.3 L320.7 1688 L324.5 1706.9 L327.7 1712.4 L331 1706.9 L334.2 1690.7 L337.7 1674.5 L341.8 1669 L347.2 1679.9 L358 1688 L374.3 1690.7 L390.5 1694.8 L401.4 1701.5 L413.5 1714.5Z" fill="#8f8f8f" stroke="#8f8f8f" stroke-width="3" stroke-linejoin="round"/>
<path d="M290.9 1688 L299 1688 L299 1644.7 L294.7 1651.4 L290.9 1674.5Z" fill="#2b62ad" fill-opacity="0.8" stroke="#2b62ad" stroke-opacity="0.8" stroke-width="4" stroke-linejoin="round"/>
<path d="M298.7 1660.6h0M296.8 1681.8h0M289.3 1688.1h0M292.6 1671.2h0M288.2 1675.1h0M290.7 1658.7h0M297 1653.2h0M291.5 1674.8h0M293.2 1673.8h0M293.7 1654.1h0M294.6 1666.6h0M288.9 1672.3h0M294.3 1678.1h0M298.3 1670.2h0M292.1 1680h0M295 1687.5h0M296.6 1677h0M298.4 1671.1h0M291.8 1654.2h0M293.3 1677.1h0M288 1662.9h0M292.5 1670.5h0M298.1 1658.4h0M280.5 1662.3h0M286.3 1607.7h0M292.8 1644.8h0M296.2 1621h0M277.8 1677.9h0M283.9 1675.9h0M279.8 1685.8h0M299.3 1673.3h0M291.4 1681.2h0M286.2 1685.2h0M297.3 1641.1h0M282.7 1678.4h0M292.3 1630.4h0M294 1589h0M262.6 1641.7h0M292.7 1669.9h0M293.4 1648.8h0M287.6 1644.8h0M287.8 1676.1h0M272 1637.4h0M297.5 1663.4h0M289.8 1369.9h0M257 1465.2h0M289 1491.4h0M255.7 1512.3h0M294.4 1531.8h0M284.9 1559.7h0M244.9 1597.3h0M267.9 1603.5h0M251.1 1672.6h0M220.8 1306.7h0M256.5 1306.7h0M268.7 1306.7h0M107.7 1611.6h0M107.7 1666.3h0M107.7 1686.6h0" stroke="#2b62ad" stroke-width="5.4" stroke-linecap="round" fill="none" stroke-opacity="0.5"/>
<path d="M296.3 1665.8h0M296.3 1647.4h0M294.7 1660.7h0M296.5 1660.2h0M298.2 1655.7h0M292.3 1669.2h0M296.7 1657.2h0M294.1 1670.4h0M299.7 1650.5h0M299.4 1673.8h0M292.7 1661.1h0M292.3 1672.7h0M298.7 1683.7h0M291.6 1668.4h0M294.5 1646.2h0M291.3 1679.3h0M299.1 1655.7h0M290.4 1657h0M290.7 1668.3h0M290.7 1664.1h0M283 1674.8h0M283.5 1688.2h0M284.1 1673.9h0M298.4 1637.6h0M295.6 1634.9h0M288.2 1679.4h0M298.4 1671.5h0M298.3 1685.9h0M286.8 1655.2h0M292.3 1665.6h0M292.4 1672.2h0M264.4 1640.4h0M273.4 1620.6h0M288.2 1651.3h0M295.3 1687h0M276.9 1675.1h0M294.8 1670.7h0M293.4 1644.7h0M296.7 1578.4h0M291 1635.7h0M273.7 1665.9h0M279.3 1677.9h0M285.2 1647.9h0M279.5 1325.2h0M297.9 1419.4h0M211 1475.2h0M230 1497.7h0M288.7 1512.5h0M280.3 1533.9h0M291.4 1557.2h0M250.3 1593.8h0M264.6 1610.8h0M257.3 1685.8h0M247 1306.7h0M260.6 1306.7h0M274.9 1306.7h0M107.7 1632.8h0M107.7 1671.7h0" stroke="#2b62ad" stroke-width="5.4" stroke-linecap="round" fill="none" stroke-opacity="0.5"/>
<path d="M298.1 1647h0M295.3 1680.7h0M299.2 1653.9h0M293 1653.8h0M292.6 1687.2h0M292 1685.7h0M295.6 1648.2h0M294.1 1660.5h0M299 1654.9h0M291.2 1680.5h0M297 1649.9h0M297.5 1655.2h0M291.8 1682.5h0M298.7 1667.9h0M296 1661.2h0M296.6 1670.7h0M297.8 1661.9h0M295.2 1679.7h0M284.9 1639.8h0M298.8 1681.5h0M272.4 1679.4h0M299.4 1654.1h0M295.5 1632.9h0M284.8 1668h0M290.4 1674.9h0M294.3 1641.3h0M284.9 1682.4h0M284.5 1669.2h0M297.1 1659.6h0M289.4 1682.5h0M280.9 1617.2h0M299.4 1669.8h0M291.4 1676.4h0M296.8 1657.1h0M296.4 1656.7h0M296.4 1672.2h0M292.2 1659.2h0M273.7 1685.6h0M292.4 1688.8h0M296.9 1685.3h0M294.7 1684.6h0M296.8 1681.2h0M278.9 1652.3h0M255.7 1330.6h0M279.5 1450.5h0M257 1480.9h0M248.9 1499.3h0M284.4 1519h0M279.5 1558h0M298.5 1560.7h0M266.3 1587.3h0M251.1 1656.9h0M202.4 1306.7h0M252.4 1306.7h0M264.6 1306.7h0M107.7 1578.3h0M107.7 1660.9h0M107.7 1679.9h0" stroke="#2b62ad" stroke-width="5.4" stroke-linecap="round" fill="none" stroke-opacity="0.5"/>
<path d="M342.9 1688 L355.9 1688 L352.1 1667.7 L346.1 1650.1 L342.9 1654.1Z" fill="#d8384f" fill-opacity="0.8" stroke="#d8384f" stroke-opacity="0.8" stroke-width="4" stroke-linejoin="round"/>
<path d="M351.2 1659.3h0M346.7 1645.7h0M344.9 1668.6h0M345.8 1687.1h0M342.5 1655.6h0M355.2 1677.3h0M350.2 1681.6h0M349.1 1680.9h0M349.1 1666.1h0M344.8 1683h0M352.6 1680.7h0M355.5 1689.2h0M341.8 1685h0M352.5 1665.1h0M347.1 1679.1h0M350 1680.3h0M348.3 1664h0M342.3 1653.5h0M352.3 1671.2h0M346.5 1682.5h0M345.7 1649.4h0M349.7 1658h0M355.2 1687h0M348.7 1671.7h0M381.1 1671.3h0M379.1 1682.6h0M361.3 1688.1h0M376.9 1663.9h0M346.5 1646.3h0M355.5 1647.6h0M350.3 1673.8h0M361.3 1660.5h0M366.6 1649.2h0M372 1682.7h0M366.1 1686.8h0M383.5 1635.8h0M344.7 1678.6h0M362.5 1681.9h0M370.1 1679.9h0M380.6 1665.8h0M364.3 1684.5h0M360.5 1672.7h0M352.1 1689.1h0M369.7 1662.8h0M361 1667.8h0M371.9 1675.3h0M384.1 1669h0M378.3 1685.4h0M367.7 1670.9h0M363.8 1677.9h0M350.3 1667.2h0M350.1 1661.6h0M375.1 1439.2h0M353.2 1480.6h0M477.2 1517.4h0M362.1 1537.7h0M394.6 1547.2h0M352.6 1567.5h0M470.4 1573.7h0M383.8 1583.8h0M417.6 1618.4h0M500.2 1652.8h0M446.8 1673.6h0M434.4 1682.6h0M372.4 1613h0M381 1306.7h0M451.4 1306.7h0M535.2 1476.8h0M535.2 1520.1h0M535.2 1560.7h0M535.2 1601.4h0M535.2 1642h0M535.2 1679.9h0" stroke="#d8384f" stroke-width="5.4" stroke-linecap="round" fill="none" stroke-opacity="0.5"/>
<path d="M344.4 1647.3h0M356.6 1683.5h0M351.5 1677.8h0M347.2 1676.2h0M348.7 1657h0M346.3 1677.1h0M352 1667.8h0M346.5 1646.3h0M346.8 1655.9h0M355.2 1688.5h0M346.1 1648.7h0M356.7 1673.8h0M355.1 1688.7h0M346.6 1649.8h0M345.3 1654.5h0M357.7 1679.2h0M353.6 1663.9h0M354.3 1666.6h0M358.2 1683.9h0M358.5 1687.3h0M351.3 1684.5h0M346.5 1652.8h0M350.9 1658.4h0M382.2 1637.6h0M357.4 1642.6h0M374.5 1637.1h0M372.9 1644.3h0M362.8 1683.5h0M348.4 1623.8h0M360.1 1664.2h0M378.3 1661.9h0M382.9 1665.8h0M352 1663.3h0M352.3 1669.6h0M351.1 1647.4h0M364.9 1673.2h0M352.7 1620h0M355.1 1680.9h0M369.5 1667.7h0M349.9 1649.4h0M348.4 1657.9h0M344 1626.3h0M353.6 1658.5h0M344 1679.1h0M348.1 1675.5h0M357.1 1649h0M356.1 1676.6h0M351.5 1680.5h0M359.8 1654h0M350.4 1669.6h0M384.7 1666.8h0M375.5 1675.6h0M394 1437.8h0M376.2 1482.2h0M354 1531.8h0M366.2 1540.4h0M352.6 1548.6h0M366.7 1568.9h0M439.3 1575.1h0M359.1 1587.3h0M470.4 1629h0M413.5 1649.3h0M417.1 1677.7h0M475 1684.5h0M378.9 1635.2h0M382.4 1306.7h0M474.5 1306.7h0M535.2 1495.8h0M535.2 1533.7h0M535.2 1574.3h0M535.2 1614.9h0M535.2 1655.5h0M535.2 1688h0" stroke="#d8384f" stroke-width="5.4" stroke-linecap="round" fill="none" stroke-opacity="0.5"/>
<path d="M354.7 1663.8h0M349.5 1658.2h0M354.8 1689.3h0M350.5 1664.5h0M342.8 1688.1h0M344.4 1687.2h0M348.6 1673.3h0M345 1689.3h0M345.8 1652.3h0M350.6 1684.9h0M347.4 1675.3h0M355.6 1679.7h0M346.7 1679.3h0M347.6 1659.5h0M350.8 1663h0M347.9 1672.3h0M352.9 1668.8h0M342.7 1673.7h0M357.7 1678.9h0M357.5 1678.5h0M351 1666.8h0M356.1 1688h0M343.3 1669.4h0M363.5 1677.4h0M348.6 1675.7h0M346.9 1633.3h0M353.6 1673h0M343.4 1668.6h0M378.6 1649.4h0M393.7 1657.8h0M380.3 1668.1h0M364.9 1639.9h0M358.4 1668.5h0M344.4 1635.3h0M373.3 1678.1h0M388 1667.5h0M356.9 1681.7h0M346.8 1668.1h0M355.8 1687.3h0M355.4 1684.3h0M351 1685.2h0M353.6 1643.6h0M354.9 1688.6h0M357.6 1657.1h0M367.6 1678.8h0M358.7 1634.2h0M358.5 1653.5h0M351.2 1678.7h0M346.5 1681.2h0M352.9 1682.9h0M359.8 1686.5h0M363.4 1434.3h0M406.8 1434h0M414.1 1505h0M356.7 1529.6h0M389.2 1539.1h0M471.7 1552.6h0M469 1568.3h0M375.1 1583.8h0M372.1 1589.2h0M482.6 1643.9h0M409.5 1659.6h0M481.2 1676.6h0M385.1 1612.2h0M370.2 1306.7h0M423.8 1306.7h0M481.2 1306.7h0M535.2 1506.6h0M535.2 1547.2h0M535.2 1587.8h0M535.2 1628.4h0M535.2 1669h0" stroke="#d8384f" stroke-width="5.4" stroke-linecap="round" fill="none" stroke-opacity="0.5"/>
<rect x="552.5" y="1307.8" width="427.9" height="424.8" fill="#fff" stroke="#9a9a9a" stroke-width="1.8"/>
<line x1="748.8" y1="1307.8" x2="748.8" y2="1732.6" stroke="#666" stroke-width="1.5" stroke-dasharray="5 4"/>
<line x1="784.3" y1="1307.8" x2="784.3" y2="1732.6" stroke="#666" stroke-width="1.5" stroke-dasharray="5 4"/>
<line x1="552.5" y1="1688.3" x2="980.4" y2="1688.3" stroke="#888" stroke-width="1.5" stroke-dasharray="5 4"/>
<path d="M750.7 1707.1h0M786.1 1702.7h0M680.9 1707.5h0M815.4 1705.7h0M781.7 1711.1h0M730.8 1701.3h0M822.6 1713.3h0M893.6 1706.6h0M816.7 1694.4h0M784.4 1705.6h0M697.8 1704h0M733.9 1696.9h0M676.3 1711.3h0M748.4 1699.6h0M774.1 1699.6h0M744 1708.6h0M756.3 1712h0M661.2 1695h0M673 1714h0M865 1712.4h0M810.4 1699.5h0M780.5 1708.6h0M733.9 1712.1h0M846.7 1693.4h0M754.4 1700.7h0M782.8 1711.9h0M787.9 1711.3h0M832.8 1710h0M902.9 1701.2h0M841.7 1712h0M713.1 1701.8h0M830.9 1699.8h0M763.4 1708.2h0M745.5 1710.6h0M883.2 1696h0M799.4 1694.8h0M697.2 1706.7h0M780.4 1712h0M730.5 1711.2h0M738.7 1708.3h0M790.7 1713h0M685.9 1711.5h0M804.5 1708.5h0M760.4 1698.1h0M781.3 1701.5h0M669.5 1710h0M717.7 1699.6h0M770.2 1713.3h0M798.3 1700.4h0M677.7 1696.8h0M684.6 1712.5h0M817.8 1705.3h0M703.9 1712.7h0M743.6 1712.3h0M675.4 1702.3h0M742.1 1707.1h0M857.7 1698.9h0M696.2 1701.9h0M823.2 1697.3h0M797.1 1708.9h0M764.6 1689.3h0M701.2 1699.1h0M781.3 1701.8h0M710.5 1701.2h0M665.3 1710h0M786.3 1706.1h0M824.7 1706.4h0M755.2 1704.7h0M663.4 1705h0M776 1702.3h0M788.6 1706.5h0M830.1 1701.8h0M703.6 1710.5h0M711.1 1702.2h0M835 1708h0M818 1707.3h0M747.1 1713.8h0M720.3 1698.8h0M798.6 1711.2h0M834.5 1712.5h0M733.5 1710.8h0M823.4 1701.9h0M653.1 1691.1h0M862.5 1694.1h0M798 1700.7h0M781.1 1710.5h0M774.4 1697.4h0M725.5 1706.3h0M733.9 1713.1h0M826.3 1710.7h0M797.1 1712.3h0M815.6 1709.6h0M685.3 1713.5h0M746.1 1713.5h0M660.3 1703.1h0M765.3 1707.1h0M825.4 1708.8h0M825.5 1709.2h0M728.9 1710.1h0M780.7 1712.5h0M675 1704.3h0M856.4 1693.9h0M817.5 1700.5h0M752.9 1698.7h0M819.3 1707.6h0M672.3 1704.1h0M791.4 1704.6h0M749.8 1711.3h0M762 1705.1h0M778.8 1711.7h0M771 1710.4h0M772.3 1705.9h0M831.7 1703.2h0M662.9 1713.5h0M797.4 1711.3h0M683.2 1707.3h0M704.9 1709.6h0M743.1 1697.5h0M760.1 1707.8h0M693.4 1709.2h0M812 1712.9h0M799.9 1695.9h0M891.6 1692.3h0M832.4 1700.1h0M817.3 1708.5h0M783.5 1705.9h0M905.3 1712.3h0M770.5 1710.9h0M786 1694.4h0M775.7 1704.7h0M783.6 1709.7h0M725.7 1707.5h0M709.7 1709.5h0M827.8 1698.7h0M658 1711h0M663.3 1711.2h0M670 1712.2h0M807 1701.4h0M780.8 1709.1h0M721.6 1710.9h0M823.6 1713.1h0M724 1700.4h0M699.3 1692.9h0M731.7 1713.1h0M741 1702.6h0M672.7 1705.8h0M775.2 1712.3h0M677.8 1711.9h0M772.9 1696.3h0M751.4 1704.1h0M754 1705.7h0M775.8 1709.7h0M695.4 1701.8h0M819 1691.6h0M849.9 1694.5h0M767 1698.2h0M753.7 1702h0M878.9 1690.2h0M779.6 1704.6h0M846.8 1697.1h0M752 1658.3h0M749.4 1679.5h0" stroke="#8f8f8f" stroke-width="5.4" stroke-linecap="round" fill="none" stroke-opacity="0.4"/>
<path d="M749.6 1696.9h0M737.6 1701.6h0M774.7 1691.2h0M778.6 1698.5h0M687.5 1692.4h0M806.9 1712.6h0M752 1690.9h0M735.4 1703.7h0M762.3 1704h0M789.4 1712.1h0M806.1 1691.8h0M809 1706.9h0M754 1709.1h0M781.2 1706.4h0M752.3 1698.1h0M665.8 1709.4h0M713.2 1710.3h0M773.4 1713.7h0M779.4 1701.5h0M805.1 1702.3h0M773.2 1709.5h0M822 1706.4h0M766.1 1713.7h0M845.2 1706.2h0M844.3 1699.3h0M851.5 1706.4h0M803.5 1709.5h0M789.5 1703.3h0M813.5 1704.5h0M887.9 1694.4h0M813.6 1704.1h0M770.3 1711.9h0M659.3 1692.9h0M709.8 1709h0M769.5 1709.6h0M812.6 1710.5h0M723.1 1712.7h0M799.7 1701.5h0M688.5 1705.6h0M772.6 1707.8h0M890.7 1713.4h0M866.5 1709h0M769.5 1701.2h0M861.8 1706.7h0M688.6 1707.2h0M739.9 1710.6h0M786.3 1707h0M668.8 1689.6h0M762.5 1710.8h0M785.3 1703.5h0M696.2 1710.7h0M752.8 1706.7h0M828.4 1705.7h0M776.2 1698.7h0M761 1695.5h0M873.7 1706h0M767.9 1706.6h0M758.4 1687.7h0M856.1 1700.7h0M688.7 1702.4h0M757.7 1698.7h0M750.3 1702.2h0M830.1 1710.2h0M752.7 1712.8h0M788.2 1698.9h0M733.8 1703.2h0M730.1 1702.1h0M725.2 1707.8h0M717.2 1708.7h0M737.6 1713.1h0M798.2 1712.8h0M821 1708h0M692.5 1709.2h0M758.3 1712.5h0M830 1696.9h0M719.3 1698.7h0M692.5 1707.4h0M832.3 1704.9h0M759.4 1713h0M736.6 1700.1h0M819.9 1696h0M807.1 1692.1h0M744.5 1704.3h0M696.4 1710.6h0M848.7 1710.5h0M738.1 1706.8h0M687.2 1692.9h0M786.1 1705.8h0M800.1 1706.9h0M710.7 1710.1h0M716.1 1710.4h0M805.3 1696.7h0M804.2 1709.5h0M695.2 1701.9h0M841.2 1701.5h0M794 1700.8h0M822.6 1694.2h0M718.1 1708.3h0M823.5 1702.8h0M719.6 1696.4h0M719.8 1690.5h0M705.4 1708.6h0M896 1699.2h0M667.4 1694.6h0M764.5 1701.5h0M709 1710.3h0M852.7 1708.3h0M770.8 1708.5h0M839.7 1698.5h0M774.1 1707.5h0M799.6 1711.2h0M809.2 1708.5h0M817.8 1695.5h0M667.7 1697.8h0M721.7 1713.8h0M750.4 1695.2h0M818.4 1702.6h0M799.6 1705.3h0M835.6 1709.3h0M724.4 1711.7h0M805.6 1712.2h0M805.8 1706.5h0M765.3 1706.9h0M826 1712h0M756.8 1711h0M742.4 1708.2h0M876.5 1706.1h0M720.1 1704.3h0M704.4 1701.2h0M780.7 1709.6h0M725.2 1694.9h0M845.9 1711.4h0M788.3 1697.2h0M733.7 1712.7h0M825.7 1699h0M679.2 1697.1h0M854.3 1699.2h0M875.3 1692.7h0M747.8 1713.3h0M729.3 1710.1h0M739.1 1713.2h0M732.7 1703h0M805.9 1706.7h0M837.6 1705.1h0M651.8 1708.3h0M742.4 1709.2h0M727.3 1712.3h0M803.2 1688h0M755 1689.4h0M831.3 1695.7h0M695.6 1706.9h0M680.4 1697.7h0M798.1 1703.7h0M801.5 1704.1h0M767.6 1713.5h0M686.3 1710.4h0M661.2 1709.6h0M774.1 1708.6h0M694.1 1695h0M694.7 1710.2h0M750.7 1666.3h0" stroke="#8f8f8f" stroke-width="5.4" stroke-linecap="round" fill="none" stroke-opacity="0.4"/>
<path d="M665 1695.2h0M748.5 1711h0M761.5 1710.1h0M716.3 1691.4h0M823.2 1708.3h0M681.4 1690.3h0M742.8 1709.7h0M838.9 1699h0M772.4 1696.8h0M732.4 1711.3h0M784.7 1713.7h0M780.4 1702.8h0M892 1706.2h0M679.7 1708.1h0M689.1 1708.7h0M850.2 1706.5h0M803 1711.6h0M758.1 1707.4h0M866.4 1705.8h0M791.1 1703.2h0M791.8 1710.3h0M725.6 1704.2h0M818.6 1693h0M685.4 1708.6h0M796 1692.4h0M821.5 1699.1h0M745.1 1697.7h0M835.9 1704.2h0M894.7 1704.4h0M769.7 1688.1h0M733.2 1710.9h0M742.3 1696.7h0M704.2 1689.6h0M763 1692.5h0M789.9 1704.8h0M789.9 1701.6h0M777.3 1705.2h0M824.8 1688.5h0M804.3 1698.7h0M780.9 1708.2h0M821.9 1699.7h0M749.4 1709h0M701.1 1707.8h0M737.1 1704.7h0M723.2 1704.6h0M735.6 1696.1h0M798.1 1713.3h0M885.8 1699.8h0M852.7 1711.5h0M885.4 1688.3h0M814.7 1691.8h0M864.9 1712.2h0M653.1 1697.5h0M821.3 1708.4h0M769.3 1712h0M795.6 1708.5h0M813.7 1713.3h0M831.9 1697.2h0M803.8 1706.4h0M737.8 1710.7h0M823.7 1707.6h0M761.4 1711.6h0M862.6 1707.3h0M848 1700.7h0M704.5 1693.1h0M840.8 1703.7h0M842.6 1709.5h0M858.5 1698h0M777.5 1706.7h0M801 1709.1h0M845 1704.8h0M825.3 1708h0M850.7 1702.6h0M812.6 1710.4h0M737.5 1713.2h0M768.5 1713.4h0M827.8 1703.7h0M730.3 1693.4h0M784.9 1712.2h0M779.6 1707.1h0M758.6 1689.3h0M847.5 1708.7h0M739.2 1711.2h0M841.6 1709.1h0M776.8 1712.1h0M812.9 1698h0M807.7 1704.4h0M748.8 1696.2h0M869.6 1713.2h0M788.6 1705.8h0M785 1706.1h0M780.1 1707.6h0M854.2 1703.5h0M723.5 1699.6h0M683.2 1708.2h0M886.4 1710h0M724.6 1712.6h0M801.5 1710.1h0M742.4 1711.1h0M730.1 1698.4h0M774.2 1690.5h0M743.6 1710.6h0M830.2 1705.4h0M800 1710.1h0M704 1698.2h0M741.2 1706.3h0M790.4 1709.1h0M794.9 1711.2h0M767.8 1698.9h0M739.9 1712.3h0M726 1703.7h0M790.8 1710.5h0M714.8 1711.1h0M779.6 1700.9h0M689.2 1705.3h0M757.1 1708h0M746.2 1696.6h0M732.2 1698.8h0M726.6 1708.7h0M764.3 1691.1h0M787.7 1705.9h0M788.7 1701.4h0M717.7 1709.7h0M750.6 1689.2h0M761.8 1691.1h0M707.3 1705.7h0M789.8 1701.6h0M845.5 1707.1h0M733.9 1703.1h0M757.5 1700.7h0M776.2 1693.1h0M791.4 1697.6h0M701.4 1699.9h0M827.3 1711.9h0M846.3 1710.4h0M797.6 1692.1h0M806.5 1709.2h0M708.9 1707.1h0M814 1699.2h0M771.3 1708.9h0M783.7 1706.2h0M757.2 1703.4h0M740.2 1700.1h0M663.7 1712.4h0M844.8 1700.2h0M765.3 1691.5h0M678.1 1707.8h0M759.9 1707.1h0M765.1 1697.5h0M861.7 1705.9h0M688.3 1709.7h0M693.2 1704.7h0M874.5 1713h0M822.4 1707.7h0M747.3 1710.2h0M735.7 1702.6h0M703 1691.8h0M807.8 1703.1h0M773.1 1710.3h0M791.1 1711.3h0M753.3 1674.2h0" stroke="#8f8f8f" stroke-width="5.4" stroke-linecap="round" fill="none" stroke-opacity="0.4"/>
<path d="M709.6 1712.7 L712.2 1698.1 L725.5 1690.2 L746.7 1684.8 L749.9 1661 L751.5 1654.4 L755.2 1669 L760 1687.5 L765.8 1706 L770.5 1711.3 L775.3 1707.4 L779.3 1698.1 L782.7 1687.5 L789.1 1688.8 L805 1690.2 L818.2 1695.5 L826.2 1712.7Z" fill="#8f8f8f" stroke="#8f8f8f" stroke-width="3" stroke-linejoin="round"/>
<path d="M730.3 1686.2 L749.4 1686.2 L749.4 1646.4 L743 1643.8 L732.9 1666.3Z" fill="#2b62ad" fill-opacity="0.8" stroke="#2b62ad" stroke-opacity="0.8" stroke-width="4" stroke-linejoin="round"/>
<path d="M732.9 1655.6h0M739.2 1664.6h0M748.5 1658.4h0M747.5 1657.4h0M746.7 1677.5h0M727.5 1676.4h0M743.5 1662.8h0M739.3 1647h0M736.3 1667.3h0M733.7 1680.2h0M750.1 1684.3h0M743.1 1659.5h0M738.6 1663.3h0M739.4 1668.4h0M737.1 1682.7h0M730.6 1686h0M738 1682h0M746.8 1659.5h0M746.3 1666.7h0M748.9 1654.1h0M745.6 1641.4h0M738.8 1684.4h0M744 1641.6h0M747.4 1666.2h0M739.5 1683.3h0M743.4 1656.5h0M739.3 1645.7h0M728.3 1686.5h0M746.5 1666h0M734.1 1664.9h0M731.6 1674.5h0M739.8 1680.6h0M742.9 1649.6h0M733 1672h0M733.5 1686.3h0M746.9 1678.4h0M739.9 1668h0M737.3 1670.5h0M735 1678.6h0M742.1 1665.5h0M748.2 1637.2h0M725.9 1673.8h0M748.8 1630.6h0M705 1638.1h0M734 1648.4h0M707.1 1636.8h0M708.3 1607h0M707.1 1646.8h0M735.5 1646.6h0M748.5 1578.3h0M731.5 1571.5h0M690.5 1667.1h0M739.3 1662.9h0M725.9 1630.3h0M737.4 1652.2h0M725.7 1673.3h0M725.9 1681.1h0M706.3 1667.3h0M732.3 1669.2h0M737.2 1666.7h0M735.3 1604.4h0M722.1 1681.4h0M733.8 1666.6h0M733.9 1636.6h0M707.1 1583.8h0M701.1 1687.3h0M714 1681.8h0M749.8 1631.4h0M730.6 1655.4h0M692.2 1677.9h0M699.9 1627.4h0M745.2 1626.6h0M734.1 1625.9h0M719.1 1609.6h0M731.7 1685.6h0M729.6 1639.4h0M732.6 1657.4h0M745.8 1585.7h0M723.5 1654.7h0M739.7 1655h0M702.7 1678.3h0M730.8 1685.2h0M742.7 1614.9h0M714.3 1631.7h0M730 1603.2h0M720.1 1621.8h0M686.4 1620.2h0M704.3 1652.4h0M675.4 1646.7h0M740 1663.8h0M724.5 1666.2h0M706.8 1617.8h0M749.4 1679.6h0M732.7 1632.7h0M691.9 1667.5h0M716.4 1661.6h0M734.3 1685.9h0M715.9 1637.8h0M688.7 1632.3h0M732 1663.6h0M737.7 1619.7h0M715.7 1666.8h0M721.6 1680.7h0M735.3 1658h0M737.2 1649.3h0M715.7 1644.8h0M730.6 1581h0M746.1 1681.9h0M693.7 1670.5h0M728.4 1645.8h0M746.4 1630.8h0M697.9 1618.2h0M691.4 1618.6h0M745.2 1621.4h0M687.1 1599.8h0M733.6 1655.6h0M736.9 1643.3h0M723.4 1615.3h0M729.8 1652.3h0M737 1629h0M726.4 1631.2h0M749.9 1678.9h0M733.5 1683.7h0M732.8 1656.8h0M716.5 1544.2h0M735.4 1490.3h0M692.5 1543.6h0M710.2 1514.9h0M705.8 1551.6h0M725.5 1543.3h0M711.4 1490h0M716.2 1335h0M655.5 1372.2h0M669.1 1429.4h0M632.5 1452.7h0M675.7 1605.9h0M611.5 1687.5h0M666.7 1631.8h0M607.6 1308.8h0M627.5 1308.8h0M709.6 1308.8h0M553.5 1487.4h0M553.5 1547h0M553.5 1581.5h0M553.5 1626.5h0M553.5 1671.6h0" stroke="#2b62ad" stroke-width="5.4" stroke-linecap="round" fill="none" stroke-opacity="0.5"/>
<path d="M730.5 1668.2h0M749.4 1683.9h0M747.5 1645.6h0M741.3 1664.3h0M738.6 1662.6h0M733.1 1666.1h0M744.2 1650.4h0M739.9 1678.1h0M740.8 1681.2h0M737 1678.8h0M749.4 1665.2h0M735.6 1661.6h0M741.9 1676h0M737.5 1665.6h0M744 1684.9h0M744.3 1670.7h0M727.5 1684.9h0M734.4 1673.8h0M749.5 1678.8h0M732.8 1680.8h0M748.4 1673.3h0M728.4 1686.1h0M743 1645.5h0M741.9 1649.4h0M743.9 1649.9h0M744.9 1645.2h0M730.4 1668.9h0M735.4 1677.9h0M744 1678.6h0M739.5 1676.2h0M743.1 1679.5h0M749.3 1672h0M749.9 1684h0M743.7 1662.7h0M749.6 1686.2h0M739 1648.8h0M738.6 1674.9h0M730.1 1684.3h0M730.5 1666h0M730.6 1671.6h0M744.3 1628.4h0M676.6 1613.5h0M748.7 1620.5h0M739.6 1673.1h0M719.4 1681.8h0M738.5 1676.3h0M698 1658.5h0M750.1 1683.5h0M722.8 1679.4h0M696.6 1636.5h0M714.3 1659.2h0M744.4 1673.3h0M708 1680.1h0M727 1663h0M742.2 1686.3h0M716.6 1668.9h0M742.6 1655.9h0M740.1 1663.1h0M706.6 1635.6h0M707.5 1672.8h0M730.5 1660.4h0M728.7 1617.2h0M730.3 1644.3h0M709.3 1669.6h0M732.2 1657.9h0M730.4 1598.7h0M739.8 1634.2h0M749.6 1676.2h0M729 1642.5h0M726 1680.6h0M707 1678.5h0M749 1636.8h0M735.8 1642.1h0M743.2 1683.3h0M750.5 1596.5h0M741.4 1653.7h0M690.4 1606.9h0M740.7 1657.5h0M742.3 1645.9h0M744.6 1597.1h0M747.3 1661.7h0M744 1665.2h0M746 1685.7h0M729.3 1683h0M748.7 1662.5h0M730.2 1658.5h0M741.4 1663.3h0M739.2 1684.9h0M742.4 1636.9h0M721.5 1659.5h0M744.3 1649.3h0M715.6 1599.8h0M697.5 1634.1h0M728.7 1644.7h0M740.1 1657.1h0M748.2 1673.5h0M706 1603.6h0M736.2 1659.5h0M722.2 1619.6h0M708.6 1662.6h0M748.3 1676.7h0M728 1686.9h0M728.6 1671.6h0M743.1 1655.5h0M740.9 1598.4h0M745.3 1607.2h0M745.1 1683.4h0M742.4 1659.7h0M733.1 1590.1h0M717.3 1666.8h0M739.7 1609.7h0M748.8 1565h0M722.7 1675.6h0M740.7 1655.6h0M710.1 1617.2h0M725.5 1681.4h0M676.6 1662.4h0M739.6 1672.5h0M742.6 1583.4h0M734.9 1556h0M723.9 1653.9h0M686.4 1637.1h0M696.8 1584.7h0M696.7 1552.5h0M722.9 1507.3h0M723.6 1548.4h0M720.8 1526.1h0M724.5 1520.4h0M724 1500.2h0M740.7 1540.5h0M723.9 1548.7h0M690.5 1360.5h0M673.3 1380.9h0M679.7 1443.2h0M688.4 1463h0M633.3 1659.1h0M656.9 1687.5h0M593 1308.8h0M616.9 1308.8h0M651.3 1308.8h0M553.5 1455.6h0M553.5 1510h0M553.5 1560.3h0M553.5 1594.8h0M553.5 1661h0M553.5 1676.9h0" stroke="#2b62ad" stroke-width="5.4" stroke-linecap="round" fill="none" stroke-opacity="0.5"/>
<path d="M730.7 1683.5h0M749.5 1651.1h0M743.2 1662.5h0M727.7 1682h0M750.1 1665.5h0M738.6 1678.9h0M749.2 1674h0M747.3 1658.3h0M745.5 1662.4h0M729.9 1663.1h0M737.3 1678.8h0M733.8 1654.2h0M743 1653.6h0M733.1 1686h0M744.9 1655.2h0M742.5 1651.4h0M746.1 1677.4h0M741.7 1685.7h0M741.3 1652.6h0M730.8 1660.1h0M740.1 1668.9h0M749.7 1669h0M740.2 1662.2h0M747.5 1658.8h0M749.3 1670.8h0M746.5 1645.2h0M733.3 1674.2h0M746.9 1647.9h0M739.3 1657.2h0M741.3 1668h0M742.1 1651h0M746.2 1672.3h0M727.3 1685.3h0M736.2 1675.1h0M743.1 1655.9h0M737.2 1648.7h0M731.9 1682.2h0M748.1 1645.3h0M731 1656.6h0M733.7 1656.9h0M699.6 1672.8h0M731.5 1609.5h0M747.5 1586.6h0M727.3 1661.9h0M712.7 1650.9h0M709.4 1639.5h0M745.2 1682.5h0M707.8 1666.6h0M740.8 1661.2h0M732.8 1633.1h0M747 1582.9h0M728.4 1687.2h0M737.6 1622.5h0M717.3 1586.2h0M703.2 1672.5h0M717.2 1604.5h0M699.3 1636h0M733.3 1621.1h0M711 1656.1h0M742.9 1641.8h0M731.9 1651.3h0M743.6 1667.8h0M699.2 1637.5h0M730.8 1584.1h0M731.2 1680.5h0M735.5 1625.9h0M732 1598.4h0M736.8 1639.9h0M741.5 1676.3h0M703.9 1682.8h0M729.8 1681.4h0M748.6 1586.7h0M702.8 1674h0M704.3 1654.3h0M715.4 1657.5h0M743.3 1630.7h0M729.3 1583.1h0M690.2 1655.9h0M746.5 1599.6h0M695.6 1628.5h0M742.1 1639.5h0M727.5 1665.9h0M747.9 1665.3h0M734.8 1617.9h0M749.5 1631.2h0M706.4 1582.7h0M711.5 1665.5h0M717.5 1671.6h0M743.3 1647.1h0M731.3 1683.4h0M737.6 1635.2h0M710.1 1632.1h0M749.8 1660.4h0M748 1602.2h0M693 1621.9h0M703.5 1660.7h0M742.7 1680.8h0M746.9 1628.5h0M734.4 1591.7h0M693.4 1662h0M719.5 1671.5h0M737.8 1684.4h0M745.8 1639.6h0M717.7 1656.3h0M720.5 1683.9h0M721.6 1676.5h0M682.3 1677.2h0M741.3 1666.1h0M724.7 1683h0M748.1 1680.7h0M688.2 1671.5h0M719.5 1649h0M728.5 1663.2h0M729.1 1631.1h0M732.1 1672.7h0M712.1 1635.6h0M712.8 1649.4h0M739.1 1631.5h0M725.4 1591.1h0M740.3 1672h0M723.5 1630.3h0M709.3 1595.4h0M711.1 1654.5h0M741 1534.4h0M731.3 1531.1h0M717.8 1534h0M726.5 1535.4h0M721.4 1551.7h0M718 1505.7h0M715.3 1506.1h0M708.3 1326.6h0M690.3 1372.2h0M716.8 1409.8h0M697.4 1446.1h0M656.9 1569.8h0M646 1677.7h0M667.7 1628.1h0M601 1308.8h0M619.5 1308.8h0M669.1 1308.8h0M553.5 1474.2h0M553.5 1531.2h0M553.5 1568.2h0M553.5 1608h0M553.5 1666.3h0M553.5 1682.2h0" stroke="#2b62ad" stroke-width="5.4" stroke-linecap="round" fill="none" stroke-opacity="0.5"/>
<path d="M786.5 1686.2 L802.9 1686.2 L801.8 1657 L794.9 1649.1 L788.6 1667.6Z" fill="#d8384f" fill-opacity="0.8" stroke="#d8384f" stroke-opacity="0.8" stroke-width="4" stroke-linejoin="round"/>
<path d="M795.4 1656.8h0M802.2 1687.3h0M803 1679.7h0M801 1651h0M804.5 1666.7h0M797.8 1677.8h0M799.6 1668.3h0M790.5 1661.5h0M791.8 1670.3h0M794.6 1658.8h0M803.6 1681.9h0M792.7 1683.5h0M798.3 1685.1h0M791 1679.4h0M796.3 1666.1h0M801 1687.5h0M797.6 1653.2h0M796.2 1676.4h0M797.9 1652.5h0M795.7 1672.7h0M799.1 1652.7h0M801.7 1660.3h0M797.1 1663.6h0M804.3 1681.3h0M795.5 1649.5h0M798.9 1668.7h0M794.9 1646.4h0M799.6 1656.8h0M795.6 1680.1h0M801.9 1657.9h0M801.1 1684.4h0M802.3 1681.7h0M802.1 1657.9h0M799.9 1645.9h0M789 1685.3h0M797.8 1651.1h0M797.9 1677.8h0M787.1 1675.5h0M799.5 1656.7h0M790.5 1668.4h0M797.9 1674.1h0M801.4 1650.5h0M801.3 1659.3h0M804 1682.6h0M797.1 1679.7h0M798.8 1686.5h0M788.2 1642.2h0M811.7 1613h0M812.9 1630.8h0M809.3 1679h0M805 1643.1h0M812.5 1659h0M799.1 1679.7h0M804 1687.2h0M796.6 1610.7h0M804.5 1644h0M804.6 1663.1h0M794.4 1641.4h0M793 1673.9h0M799.1 1613.1h0M788.7 1685.2h0M788 1661.4h0M805.1 1683.4h0M800.9 1657.1h0M821.6 1640.7h0M791 1655.8h0M812 1656.7h0M787.4 1666.3h0M800.9 1685.1h0M789.8 1633.9h0M788.3 1681.8h0M794.6 1600.8h0M811.3 1659.8h0M799.6 1666.2h0M817.6 1683.9h0M789 1598.6h0M821.3 1661.4h0M799.2 1666.3h0M799.6 1662.3h0M796.8 1650.5h0M797.9 1632.1h0M813.1 1608.7h0M786.9 1669.5h0M809.8 1686.9h0M801.3 1586.1h0M802 1593.2h0M805.2 1564.1h0M812 1559.7h0M808.3 1570.5h0M806.8 1576.4h0M833.6 1371.4h0M827.8 1484h0M804.5 1560.3h0M815.6 1570.9h0M846.1 1629.7h0M897.8 1610.7h0M863.8 1654.1h0M844 1679.5h0M826.2 1308.8h0M979.4 1634.5h0M979.4 1678.2h0" stroke="#d8384f" stroke-width="5.4" stroke-linecap="round" fill="none" stroke-opacity="0.5"/>
<path d="M797.2 1662.2h0M804.1 1652.9h0M794 1678.9h0M796.2 1677.6h0M786.2 1682.8h0M800.1 1651.2h0M803.7 1662.6h0M795.7 1645.9h0M787.7 1668.1h0M787.6 1670.3h0M801.6 1686h0M800.9 1646.9h0M800.3 1657h0M796.2 1664.1h0M797.5 1677h0M803.1 1685.8h0M793.7 1650.5h0M799.4 1657.9h0M792.8 1682.3h0M804.7 1686.2h0M802.1 1661.5h0M799.4 1675h0M789.9 1680.3h0M796.1 1684.3h0M792.2 1676.8h0M795 1646.9h0M789.2 1682h0M804.7 1678.5h0M797.5 1654h0M800.6 1659.4h0M799.2 1656.8h0M789.5 1661.1h0M796.3 1657.7h0M803 1652h0M799.1 1663.2h0M795.2 1644.3h0M798.5 1681.6h0M793.4 1662.3h0M800.1 1653h0M793 1670.9h0M801.3 1646.6h0M795.8 1662.3h0M795 1662.3h0M808.5 1642.8h0M803.6 1613.5h0M801 1664.1h0M808.2 1674.7h0M795.3 1672.1h0M790.1 1685.5h0M796.2 1645.5h0M792.7 1683.6h0M804.1 1682.7h0M797.7 1655.4h0M791.3 1669.6h0M800.6 1641.4h0M789.3 1649h0M799.9 1603.5h0M790.1 1657.3h0M798.9 1673.5h0M787.2 1625.1h0M802.5 1676.3h0M801.2 1663.9h0M803 1655.2h0M804.5 1619.9h0M797.7 1639h0M797.3 1671.5h0M805 1675.2h0M788.6 1677.8h0M798.4 1632.4h0M793.8 1642.6h0M796 1666.8h0M800.8 1637.9h0M788.5 1670.8h0M799.9 1665.2h0M797.7 1686.4h0M792.7 1680.8h0M793.2 1670h0M789.6 1670.2h0M798.9 1682.1h0M808.3 1682.4h0M800.3 1683.1h0M807.8 1648.9h0M798.6 1667.3h0M804.4 1583.6h0M804.6 1565.2h0M808.9 1565.5h0M799.8 1572.2h0M811.1 1556.3h0M812.3 1559.7h0M800.3 1584.6h0M813 1447.1h0M813 1498.8h0M826.2 1560.8h0M803.4 1576.2h0M852.7 1634.5h0M894.6 1617.3h0M895.1 1670.3h0M859.3 1685.6h0M979.4 1622.6h0M979.4 1642.5h0" stroke="#d8384f" stroke-width="5.4" stroke-linecap="round" fill="none" stroke-opacity="0.5"/>
<path d="M798.6 1645.7h0M796.4 1657.8h0M800.6 1660.3h0M799.4 1675.8h0M791.9 1666.1h0M793.8 1661.3h0M800.2 1666.3h0M788.7 1676.7h0M798.4 1670.1h0M800 1687.2h0M789.7 1676.3h0M795.6 1668.3h0M791.8 1652.9h0M795.9 1650.7h0M801.9 1665.4h0M803.9 1664.8h0M793.2 1658.7h0M795 1656.6h0M797 1681.1h0M787.5 1669h0M790 1679.8h0M797.8 1647.1h0M803.6 1671.1h0M793.2 1662.8h0M787.9 1666.2h0M794.3 1672.2h0M802.4 1664.1h0M801.1 1656h0M795 1654.3h0M798.5 1664.3h0M801.9 1657.8h0M798 1672.6h0M800.8 1647.7h0M796.9 1683.1h0M796 1650.1h0M801.2 1654.8h0M794.8 1663.4h0M799.2 1660.5h0M788.2 1672h0M799.1 1684.9h0M797 1660.9h0M802.9 1678.7h0M793.4 1648.1h0M791 1630.2h0M823.8 1602.8h0M788.7 1625h0M792.8 1661.4h0M790.1 1674.1h0M791.1 1656h0M788.5 1678.5h0M797.3 1644.3h0M803.4 1641.6h0M802 1655.5h0M815.4 1685.9h0M790.6 1685.2h0M808.7 1682.1h0M788.6 1657.9h0M824 1661.7h0M797.8 1654.1h0M790.7 1638.5h0M795.3 1674.9h0M786.5 1651h0M805.3 1669.4h0M790.5 1612.2h0M798.8 1667.9h0M816.8 1656h0M803.6 1682.5h0M787 1651.3h0M788.4 1645h0M792.3 1655.2h0M787.4 1604.7h0M798.8 1617.6h0M792.2 1670.7h0M791.7 1616.5h0M790.4 1670.6h0M789.3 1680.4h0M788.2 1672h0M809 1667.8h0M806.9 1639.3h0M812.8 1686.7h0M825.2 1681h0M823.5 1648.6h0M798.3 1651.6h0M813.3 1571.2h0M812.2 1594.5h0M804.4 1588.3h0M800.4 1588.8h0M803.8 1590.6h0M804 1593.1h0M802.1 1583.8h0M831.8 1472.1h0M811.4 1551.6h0M813.5 1563.5h0M832.6 1626.5h0M837.3 1636.4h0M911.5 1628.7h0M901.7 1673.5h0M863.3 1688.3h0M979.4 1629.2h0M979.4 1671.6h0" stroke="#d8384f" stroke-width="5.4" stroke-linecap="round" fill="none" stroke-opacity="0.5"/>
<rect x="994.6" y="1307.2" width="430.6" height="426.7" fill="#fff" stroke="#9a9a9a" stroke-width="1.8"/>
<line x1="1188" y1="1307.2" x2="1188" y2="1733.9" stroke="#666" stroke-width="1.5" stroke-dasharray="5 4"/>
<line x1="1231.8" y1="1307.2" x2="1231.8" y2="1733.9" stroke="#666" stroke-width="1.5" stroke-dasharray="5 4"/>
<line x1="994.6" y1="1688.8" x2="1425.2" y2="1688.8" stroke="#888" stroke-width="1.5" stroke-dasharray="5 4"/>
<path d="M1256.9 1712.9h0M1221.7 1713.2h0M1144.4 1702.8h0M1259.5 1700h0M1139.4 1707.2h0M1236.8 1706.3h0M1192.1 1710.3h0M1143.8 1692.6h0M1243.7 1713.1h0M1279.8 1695.3h0M1195.5 1708.9h0M1097.7 1690.7h0M1233.1 1714.9h0M1258.5 1706h0M1215 1711.4h0M1276.1 1710.6h0M1197 1711.3h0M1187.4 1703.9h0M1153 1697.2h0M1213.4 1703.3h0M1302.8 1712.4h0M1185.7 1706h0M1222.4 1703.6h0M1192.4 1713.5h0M1213.7 1711.7h0M1268.4 1691.4h0M1146.5 1697.1h0M1159.4 1706.5h0M1265.3 1710.4h0M1168.6 1707.6h0M1258.9 1691h0M1253.7 1702h0M1302.1 1711.9h0M1320.8 1690.3h0M1279.6 1702.3h0M1306 1712.1h0M1233.2 1693.1h0M1244.2 1705.7h0M1137.7 1708.5h0M1203.4 1713.1h0M1237.5 1713.6h0M1264.7 1713.4h0M1234 1707h0M1252 1707h0M1244.1 1712.5h0M1236.5 1711.5h0M1209.9 1711.1h0M1175.3 1702.1h0M1228.8 1715h0M1188.4 1714.9h0M1130.7 1714h0M1186.6 1699.9h0M1168.3 1704.3h0M1205.2 1707.3h0M1257.1 1715.2h0M1280.4 1698.8h0M1322.3 1712.4h0M1230.3 1707.6h0M1311.2 1711.3h0M1286 1695h0M1102.3 1707.4h0M1209.9 1709.8h0M1161.3 1707.6h0M1187.5 1707.2h0M1157.9 1715.1h0M1173.5 1714.3h0M1188.5 1711.8h0M1172.7 1713.3h0M1202.7 1706h0M1177.3 1696h0M1292.6 1711.5h0M1264.1 1700.2h0M1167.1 1708.1h0M1234.8 1697.2h0M1302.8 1707.3h0M1287.7 1700.9h0M1232.6 1703.4h0M1233.3 1709.7h0M1238.4 1714.9h0M1202.9 1712.7h0M1145.1 1714.7h0M1195.5 1692.1h0M1213.8 1710.3h0M1317.7 1693h0M1137.3 1712.2h0M1241.8 1714.8h0M1256.1 1707.8h0M1232.8 1704.2h0M1167.1 1710.2h0M1134.1 1701.2h0M1190.2 1699.5h0M1270.2 1709.2h0M1288.3 1709.2h0M1209.3 1711.6h0M1270.6 1711.5h0M1149.8 1711h0M1193.1 1703.4h0M1144.4 1706.7h0M1200.9 1713.6h0M1219 1702.5h0M1203.6 1696.1h0M1205.8 1706.3h0M1254 1704.9h0M1209.6 1690.4h0M1145.4 1713.5h0M1214.6 1711.8h0M1179.3 1699.1h0M1191.8 1701.7h0M1190.5 1701.1h0M1180.9 1705.7h0M1232.2 1714.8h0M1162.8 1700.9h0M1244.1 1699h0M1214.7 1711.4h0M1220 1714.1h0M1177.9 1698.3h0M1296.7 1713.8h0M1171.3 1709.1h0M1257.7 1702.1h0M1232.2 1713h0M1121.6 1705.3h0M1208 1705.1h0M1201.8 1714.7h0M1108.9 1704h0M1300.9 1700.4h0M1196.1 1714.5h0M1250.6 1706.4h0M1156 1697.6h0M1237.9 1708.2h0M1264.9 1713.9h0M1196.4 1711.6h0M1206.7 1715.2h0M1203 1710.7h0M1166.4 1706.6h0M1199.4 1707.8h0M1250.7 1714.2h0M1171.4 1711h0M1189 1712.2h0M1181.4 1696.9h0M1158.3 1700.3h0M1214.5 1711.2h0M1289.6 1704.8h0M1289.9 1710.8h0M1194.6 1708.6h0M1249.4 1711h0M1224.1 1696.1h0M1320.8 1703.2h0M1187.5 1709.5h0M1202.5 1701h0M1190.4 1709.4h0M1292.5 1702.7h0M1205.4 1712.4h0M1214.3 1707.4h0M1206.5 1714.4h0M1256.2 1714.4h0M1152.9 1707.1h0M1315.8 1714.5h0M1273.5 1708.6h0M1131.9 1706.3h0M1187.9 1711.2h0M1189.3 1637.2h0" stroke="#8f8f8f" stroke-width="5.4" stroke-linecap="round" fill="none" stroke-opacity="0.4"/>
<path d="M1223.6 1711.8h0M1183 1699.8h0M1162 1714.1h0M1150.2 1703.7h0M1212.1 1701.2h0M1209 1711.5h0M1110.2 1695.6h0M1156.6 1711.9h0M1161.2 1706.2h0M1258.4 1715.3h0M1262.9 1705.2h0M1221.4 1712.1h0M1191.1 1697.2h0M1173.6 1714.9h0M1198.8 1714.3h0M1207.7 1696.9h0M1237 1711.3h0M1219.3 1711h0M1178.5 1702.5h0M1191 1712.1h0M1216.6 1696.2h0M1295.7 1710.3h0M1258.4 1709.2h0M1202.5 1700.2h0M1231.7 1708.6h0M1227.6 1709.7h0M1169.5 1696.8h0M1181.8 1702h0M1137.9 1710.1h0M1257.1 1710.1h0M1256.8 1710.8h0M1213.5 1698.1h0M1237.6 1705.9h0M1271.6 1710.7h0M1153.1 1695.5h0M1250.6 1708.2h0M1149.2 1710.7h0M1133.7 1715h0M1240 1696.2h0M1110.3 1700.6h0M1310 1700.3h0M1319.1 1700h0M1116.3 1712.4h0M1228.7 1710.3h0M1207.4 1713.5h0M1300.3 1697h0M1203.6 1707.1h0M1258.3 1709.7h0M1243.5 1701.1h0M1197.4 1714.1h0M1182.5 1698.8h0M1134.1 1714.6h0M1230.6 1696.6h0M1299.2 1698h0M1155.5 1709.7h0M1291.6 1712.8h0M1172.3 1710.2h0M1316.5 1703.5h0M1109.7 1700.2h0M1260 1710.5h0M1240.9 1714.6h0M1249.4 1696.4h0M1273.9 1706.6h0M1242.1 1699.3h0M1187.9 1697.7h0M1225.1 1689.4h0M1239.5 1710.9h0M1247.9 1699.7h0M1252.1 1709.3h0M1271.1 1707.6h0M1167.1 1711.8h0M1230.3 1710.4h0M1314 1705.6h0M1193.2 1712.5h0M1238 1704.9h0M1154.8 1703.3h0M1190.8 1713.4h0M1272.3 1706.4h0M1249.3 1710.5h0M1211.7 1713.2h0M1214.7 1705h0M1253 1709.6h0M1174.8 1712.9h0M1243.3 1714h0M1185.9 1712.2h0M1109 1703.4h0M1273 1711.7h0M1199 1708.5h0M1169.6 1711h0M1153.9 1710.1h0M1135 1707.9h0M1216.4 1702h0M1232.8 1708.8h0M1168 1694.4h0M1281.2 1697.9h0M1318 1701h0M1180.3 1714.8h0M1137.9 1714.3h0M1235.5 1708h0M1231 1713.4h0M1190.7 1697.4h0M1109.5 1699h0M1171.9 1701.9h0M1289.5 1697.1h0M1185.6 1708.1h0M1169.3 1704.6h0M1301 1707.4h0M1178.7 1708.7h0M1262.2 1703.5h0M1262.6 1709.7h0M1256.7 1704h0M1158.3 1715h0M1212 1699h0M1198.3 1695.4h0M1261.2 1693.9h0M1107.1 1696.5h0M1100 1715.1h0M1271 1714.6h0M1297.8 1697.4h0M1169.9 1710.2h0M1119.2 1701.8h0M1237 1694.6h0M1280 1696.6h0M1221.7 1709.4h0M1103.5 1713.2h0M1235.5 1707.9h0M1197.1 1706.8h0M1240 1706.7h0M1203.2 1706.5h0M1264.3 1712.2h0M1225.2 1703.2h0M1229 1701.2h0M1220.4 1705.1h0M1214.6 1709.5h0M1284.2 1714.1h0M1300.7 1707.9h0M1133.3 1714.8h0M1245 1698.6h0M1270.1 1705h0M1173.5 1694.4h0M1176.1 1698.7h0M1187.4 1713.5h0M1100.2 1697.7h0M1195.1 1712.6h0M1228.4 1704.9h0M1212.7 1711.8h0M1180.1 1703.9h0M1252 1714.5h0M1204.7 1707.3h0M1124.8 1705.9h0M1223.6 1691.1h0M1155.7 1704.5h0M1219 1713h0M1208 1708.4h0M1145.2 1714.6h0M1255.9 1707.3h0M1295.8 1713.9h0M1225.6 1705.1h0M1320 1707.5h0M1182.8 1707.7h0M1190.7 1642.5h0" stroke="#8f8f8f" stroke-width="5.4" stroke-linecap="round" fill="none" stroke-opacity="0.4"/>
<path d="M1236.1 1700.4h0M1176.8 1712.4h0M1178.6 1713.4h0M1181.5 1698.7h0M1220.6 1703.1h0M1220.2 1714.8h0M1166.7 1708h0M1262.3 1704.5h0M1279.9 1702.5h0M1318 1704.7h0M1178.8 1715.1h0M1228.4 1701.4h0M1217.1 1708.9h0M1125.2 1705h0M1211.6 1705.6h0M1120 1711.1h0M1260.6 1707.1h0M1163.8 1715.3h0M1135.2 1707.2h0M1282.5 1713.6h0M1203.8 1714.3h0M1161.8 1709.8h0M1156.8 1690.5h0M1234.1 1707.4h0M1264.6 1706h0M1274.4 1708.8h0M1211.6 1703.3h0M1279.6 1702.4h0M1190.1 1697.7h0M1109.5 1713.8h0M1148.7 1697.2h0M1226.5 1710.5h0M1212.9 1704.6h0M1298.4 1715h0M1256.1 1709h0M1299.6 1711h0M1224 1709.3h0M1168.7 1715.1h0M1118.7 1701h0M1183.4 1709.4h0M1252.6 1712.8h0M1205.5 1713.8h0M1303.7 1709.1h0M1213.1 1697h0M1294.9 1700.1h0M1254.1 1706.9h0M1277.6 1713.9h0M1243.5 1711.6h0M1247.3 1710.3h0M1185.2 1689.7h0M1232.1 1699.3h0M1159 1698.3h0M1260 1696.8h0M1171.6 1713.8h0M1245.8 1702.1h0M1146.8 1705.2h0M1124.8 1709.5h0M1283.9 1709.7h0M1227.6 1704.4h0M1243.5 1705h0M1138.3 1708.4h0M1247.9 1699.4h0M1287.6 1714.3h0M1165.8 1713.3h0M1160.3 1709.1h0M1231.9 1704.1h0M1267.9 1707.6h0M1166 1713h0M1276 1714.7h0M1179.9 1702.5h0M1223.2 1705.3h0M1251.6 1709.5h0M1265.7 1703.7h0M1223.4 1689.3h0M1283.9 1705.8h0M1175.5 1714.6h0M1248.6 1704.6h0M1289 1697.9h0M1216 1703.9h0M1277.4 1703.3h0M1282.6 1711.4h0M1217.7 1700.2h0M1128.7 1705.8h0M1187.6 1706h0M1117.5 1712h0M1234.6 1712.5h0M1196.3 1713.8h0M1244.1 1714.8h0M1204.4 1706.1h0M1292.3 1712.1h0M1205.3 1705.4h0M1148.5 1703.4h0M1297.6 1712.4h0M1301.3 1700.3h0M1220.2 1709.1h0M1281 1707.1h0M1203.8 1705.8h0M1210.1 1704.1h0M1286.4 1711.5h0M1277.1 1707h0M1283.8 1713.4h0M1295.1 1707.9h0M1142.1 1714.8h0M1150.2 1705.9h0M1160.5 1709.2h0M1211.2 1708h0M1214.4 1709.3h0M1198.5 1711.2h0M1252.2 1704.7h0M1185 1712.7h0M1304.5 1708.4h0M1161.3 1698.5h0M1321.3 1697.4h0M1187.4 1699h0M1264.1 1711.8h0M1094.8 1714h0M1207.6 1711h0M1169.5 1711.1h0M1228.9 1697.6h0M1248 1705.7h0M1221.2 1703.3h0M1264.5 1707.3h0M1238.1 1710.1h0M1146.8 1714.5h0M1171.2 1705.1h0M1131.4 1693.9h0M1227.7 1702.5h0M1216.2 1709.2h0M1304 1704.4h0M1306.6 1709.7h0M1255.7 1696.4h0M1299.9 1697.5h0M1260.1 1702.5h0M1124 1707.1h0M1283.5 1696.4h0M1209.7 1708h0M1343.1 1705.8h0M1163.7 1709.3h0M1310 1711.8h0M1178.9 1709.3h0M1223.5 1706.8h0M1192.9 1707.8h0M1241.8 1705.7h0M1288.6 1714.2h0M1286.7 1706.7h0M1171 1707.1h0M1221.6 1704.6h0M1191.6 1692.3h0M1239.7 1695h0M1213.5 1710.3h0M1234.3 1713.8h0M1224.7 1699.1h0M1273.5 1714.5h0M1193.6 1707.2h0M1260.2 1704.6h0M1178.8 1704.7h0M1227.4 1710.7h0M1205.5 1697.2h0M1243.5 1702.7h0M1259.7 1701.6h0M1192 1650.4h0" stroke="#8f8f8f" stroke-width="5.4" stroke-linecap="round" fill="none" stroke-opacity="0.4"/>
<path d="M1139 1715.3 L1149.6 1703.4 L1165.5 1692.8 L1182.7 1684.8 L1187.2 1642.5 L1189.9 1635.8 L1193.3 1650.4 L1197.8 1669 L1205.2 1692.8 L1213.2 1708.7 L1218.5 1711.3 L1223.8 1708.7 L1227.8 1698.1 L1231.8 1688.8 L1245 1690.2 L1271.5 1687.5 L1292.7 1692.8 L1311.2 1703.4 L1332.5 1715.3Z" fill="#8f8f8f" stroke="#8f8f8f" stroke-width="3" stroke-linejoin="round"/>
<path d="M1174.5 1687.5 L1188.3 1687.5 L1188.3 1645.1 L1181.9 1651.7 L1176.6 1669Z" fill="#2b62ad" fill-opacity="0.8" stroke="#2b62ad" stroke-opacity="0.8" stroke-width="4" stroke-linejoin="round"/>
<path d="M1185.3 1671h0M1184.2 1679.5h0M1182.4 1662.2h0M1188.6 1659.7h0M1187.1 1668.5h0M1180 1670.3h0M1187.9 1655.2h0M1180.2 1678h0M1185.1 1651.6h0M1186 1672.4h0M1187.1 1678.3h0M1186.6 1647.7h0M1173.5 1675.8h0M1187.8 1685.5h0M1177.9 1683.1h0M1180.5 1687.8h0M1180.7 1687.5h0M1183.5 1647.9h0M1180.2 1675.8h0M1187.2 1658.1h0M1186 1651.6h0M1184.2 1663.9h0M1186.4 1685h0M1187.2 1654.3h0M1186.5 1678.2h0M1185.9 1663.5h0M1185.8 1639.3h0M1187.2 1636.4h0M1180.6 1634.1h0M1171.6 1630.5h0M1184.5 1678.4h0M1178.5 1645.9h0M1172.7 1672.1h0M1171.8 1655.1h0M1187.9 1667.7h0M1179.6 1644.6h0M1175.3 1669.8h0M1179.1 1623.4h0M1186.9 1663.3h0M1184.3 1680.9h0M1174.1 1684.8h0M1171.1 1645.5h0M1185.4 1596.9h0M1183.3 1629.7h0M1188 1685h0M1184.2 1680.7h0M1178.4 1644.7h0M1174.3 1679.8h0M1181 1666.4h0M1155.8 1679.5h0M1129.5 1361h0M1136.6 1398.7h0M1149.1 1472.8h0M1152.2 1482.1h0M1167.6 1511.3h0M1151.2 1528.5h0M1159.1 1550.2h0M1161 1565.1h0M1151.7 1571.4h0M1177.7 1576.2h0M1112 1610.1h0M1095 1648.8h0M1122.6 1674.2h0M1134.5 1681.7h0M1052.9 1308.2h0M1135 1308.2h0M995.6 1532.5h0M995.6 1555h0M995.6 1581.5h0M995.6 1634.5h0" stroke="#2b62ad" stroke-width="5.4" stroke-linecap="round" fill="none" stroke-opacity="0.5"/>
<path d="M1189.1 1679.1h0M1185.4 1673.6h0M1179.5 1652.5h0M1180 1672.9h0M1185.1 1639.9h0M1178.3 1677.9h0M1175.3 1680.3h0M1179.8 1667h0M1189 1667.8h0M1181.3 1665.6h0M1188.5 1639.3h0M1182.4 1648.5h0M1185.5 1672.1h0M1189.2 1644.7h0M1188.9 1652.9h0M1188.3 1676.1h0M1180 1668.5h0M1176.8 1666.1h0M1175 1670.4h0M1185.6 1670.1h0M1184.1 1662.6h0M1185.8 1653h0M1186.6 1669h0M1179.1 1629.8h0M1187.1 1663.5h0M1174.1 1653.9h0M1177.1 1687.1h0M1185.2 1628.3h0M1186.1 1634h0M1179.1 1639.2h0M1181.6 1677.8h0M1182.5 1637.3h0M1184.8 1673.9h0M1184.2 1654.5h0M1157.2 1635.1h0M1189 1616.2h0M1186 1651.5h0M1186 1688.5h0M1178.8 1630.4h0M1185.7 1674.9h0M1188.5 1679.2h0M1168.6 1651.5h0M1165 1648h0M1188.5 1679.3h0M1180.3 1656.3h0M1183.5 1615.6h0M1179.6 1620.4h0M1167.6 1630.6h0M1189.3 1635.1h0M1178.3 1677.3h0M1152.2 1365.5h0M1157.3 1406.6h0M1159.7 1474.7h0M1155.4 1504.1h0M1118.1 1514.5h0M1150.9 1533.8h0M1160.2 1556.3h0M1166.8 1565.1h0M1121.5 1581h0M1145.1 1582.8h0M1123.9 1621.2h0M1137.1 1644h0M1128.4 1675.6h0M1137.7 1684.3h0M1079.4 1308.2h0M995.6 1496.7h0M995.6 1540.4h0M995.6 1563h0M995.6 1592.1h0M995.6 1682.2h0" stroke="#2b62ad" stroke-width="5.4" stroke-linecap="round" fill="none" stroke-opacity="0.5"/>
<path d="M1184.3 1652.2h0M1180.9 1667.5h0M1180.6 1680.6h0M1179.5 1669.3h0M1188.4 1648.1h0M1183.1 1662.1h0M1182.4 1658.7h0M1187.6 1672.9h0M1182.4 1670.9h0M1183.4 1667h0M1180.3 1675h0M1186.6 1683.3h0M1188.8 1676.8h0M1188.5 1668h0M1188.4 1665.2h0M1179.7 1675.7h0M1174.6 1676.1h0M1186.1 1676.6h0M1178.2 1687.1h0M1181.1 1649.9h0M1180.3 1660.6h0M1183.7 1653.4h0M1179 1685.4h0M1181.1 1688.6h0M1180.2 1676.2h0M1181.5 1658.2h0M1177.8 1614.5h0M1181.7 1684.9h0M1170.9 1605h0M1175.8 1641.2h0M1180.8 1682h0M1169.5 1637.4h0M1187 1616.9h0M1185.1 1637.8h0M1182.4 1627.5h0M1186.5 1649.8h0M1180.7 1652.3h0M1181.7 1645.7h0M1181.5 1686.4h0M1175.2 1687.4h0M1184.4 1686.7h0M1182.5 1674.1h0M1172.8 1673.3h0M1172.5 1685.4h0M1175.2 1685.7h0M1178.6 1652.9h0M1178.2 1617.8h0M1179.1 1657.9h0M1184.9 1684.5h0M1172.3 1645.9h0M1112 1373.7h0M1135.3 1468.9h0M1115.7 1483.2h0M1161.8 1504.1h0M1150.1 1522.7h0M1140.1 1548.9h0M1163.9 1557.1h0M1143 1570.9h0M1123.1 1581h0M1150.4 1588.1h0M1131 1626.5h0M1122.8 1666.8h0M1120.7 1684.3h0M1043.6 1308.2h0M1083.3 1308.2h0M995.6 1521.9h0M995.6 1547h0M995.6 1573.5h0M995.6 1631.8h0" stroke="#2b62ad" stroke-width="5.4" stroke-linecap="round" fill="none" stroke-opacity="0.5"/>
<path d="M1236.5 1687.5 L1274.7 1687.5 L1270.2 1658.3 L1264.9 1631.8 L1260.9 1608 L1256.1 1634.5 L1245.5 1661Z" fill="#d8384f" fill-opacity="0.8" stroke="#d8384f" stroke-opacity="0.8" stroke-width="4" stroke-linejoin="round"/>
<path d="M1260.6 1587.6h0M1246.6 1673.2h0M1250.5 1654.7h0M1259.1 1618h0M1267.1 1612h0M1277.4 1661.6h0M1267.2 1671.1h0M1252.7 1679.8h0M1240.7 1676.5h0M1272.1 1621.8h0M1254.9 1634.8h0M1253.2 1617.9h0M1264.4 1585.8h0M1256.6 1643.1h0M1271.6 1682.4h0M1261.9 1621.7h0M1245.2 1646.1h0M1279.5 1665.2h0M1250.2 1634.9h0M1246.4 1682.8h0M1259 1634.2h0M1259.8 1634.2h0M1266.7 1595.2h0M1257 1678.5h0M1267.7 1676.3h0M1262.8 1659h0M1259.3 1623.9h0M1261.5 1672h0M1274.8 1670.2h0M1256 1585.2h0M1256.5 1618h0M1267.3 1597.8h0M1279.4 1680.4h0M1243 1687.7h0M1268 1602.3h0M1267.3 1603.7h0M1259.5 1643.1h0M1266.4 1596.2h0M1262.5 1651.1h0M1268.8 1685.6h0M1266 1627.4h0M1257.2 1640.8h0M1239.1 1669.5h0M1265.1 1586.3h0M1278.6 1658.9h0M1252.7 1617.5h0M1270.5 1684.4h0M1255.3 1620.7h0M1253.9 1682.4h0M1274.4 1665.4h0M1267.6 1621.3h0M1256.2 1615.8h0M1255.9 1681.4h0M1243.4 1675.2h0M1276 1686.8h0M1258 1640.9h0M1267.9 1616.8h0M1273 1618.4h0M1248.8 1649h0M1256.2 1605.7h0M1273.3 1641.9h0M1256.7 1672.4h0M1244.3 1641.8h0M1277.2 1644.8h0M1266.8 1625.4h0M1262.2 1688.5h0M1270.7 1649.2h0M1268.7 1660.9h0M1267.3 1619.4h0M1255.2 1678.4h0M1253.7 1675.7h0M1262 1682.7h0M1259.2 1637.2h0M1254.8 1594.2h0M1274.5 1626.2h0M1244.3 1670.3h0M1249.8 1668.2h0M1263.5 1654.3h0M1274.7 1643.5h0M1251.5 1621.4h0M1254.8 1666.2h0M1238 1671.6h0M1270.3 1645h0M1249.3 1653.5h0M1240.7 1661.9h0M1258.9 1643.1h0M1248.7 1678.2h0M1268.9 1632h0M1257.2 1663.7h0M1259.7 1679.5h0M1271 1656.2h0M1262.4 1596.1h0M1272.4 1622.8h0M1254.6 1683.9h0M1266 1683.6h0M1271.3 1665.9h0M1262.2 1665.3h0M1259.2 1616.7h0M1259.8 1629.7h0M1262.2 1622h0M1272 1644.3h0M1243.3 1661.6h0M1257.6 1668.6h0M1244.6 1671.9h0M1278.3 1670.6h0M1259.9 1686.4h0M1289.1 1677.7h0M1259.5 1653.7h0M1248.8 1602.6h0M1246 1659.7h0M1280.9 1661.9h0M1289 1579.1h0M1255.1 1669.2h0M1255.2 1669h0M1284.9 1659h0M1254.2 1546.1h0M1261 1659.2h0M1259.6 1660.4h0M1268.2 1683.3h0M1298.7 1676.2h0M1258.6 1597.5h0M1255.1 1624.7h0M1294.8 1652.6h0M1250.1 1661.7h0M1259.4 1668.7h0M1247.3 1631.6h0M1257 1684.2h0M1305.3 1674.1h0M1244.1 1599.8h0M1262.2 1645.8h0M1242.2 1634.6h0M1290.9 1656.9h0M1255.1 1581.8h0M1245.8 1679.4h0M1248 1668.3h0M1242.5 1637.2h0M1246.8 1655.6h0M1255.1 1591.2h0M1265.5 1538.8h0M1268.4 1647.8h0M1238.4 1658.3h0M1240.8 1638h0M1250.1 1633.4h0M1245.1 1542.3h0M1286.7 1631.2h0M1255.9 1622.5h0M1245.5 1650.5h0M1269.2 1585.8h0M1244.5 1631.1h0M1255.8 1653.1h0M1257 1585.8h0M1256.1 1627.7h0M1256 1644.1h0M1246.5 1607.5h0M1289.7 1678.6h0M1244.7 1679.5h0M1275.6 1682.7h0M1252.7 1644.3h0M1276.1 1651.4h0M1272.7 1663h0M1277.1 1676h0M1243.7 1532h0M1269.7 1667.6h0M1245.8 1683.8h0M1256.6 1612.4h0M1249.6 1622.9h0M1240 1658.7h0M1271.5 1406.2h0M1292.3 1426.9h0M1281 1390.1h0M1279.7 1521.2h0M1274.6 1414.9h0M1288 1494.6h0M1299.3 1334.5h0M1296.9 1367.4h0M1292.2 1401.3h0M1274.2 1434.4h0M1280.2 1460.7h0M1298.8 1492.2h0M1324.5 1578.8h0M1337.8 1628.4h0M1332.5 1676.9h0M1295.3 1308.2h0M1313.9 1308.2h0M1424.2 1557.7h0M1424.2 1634.5h0M1424.2 1650.4h0" stroke="#d8384f" stroke-width="5.4" stroke-linecap="round" fill="none" stroke-opacity="0.5"/>
<path d="M1249 1666.5h0M1261.6 1620.4h0M1267.7 1682.9h0M1264.1 1621.1h0M1261.5 1631.4h0M1255.9 1595.1h0M1280.6 1684.5h0M1238.6 1687h0M1272.1 1621.5h0M1255.9 1688.4h0M1242.7 1648.3h0M1272 1637.3h0M1262.4 1597.3h0M1245.3 1654h0M1250.1 1659.5h0M1264.2 1627.8h0M1256.2 1657.3h0M1261.1 1582.8h0M1260.8 1600.6h0M1254.9 1595.7h0M1263.5 1587.7h0M1253.1 1653.3h0M1264.9 1605.1h0M1249.2 1638h0M1254.3 1608.4h0M1259.5 1666.1h0M1259.8 1627.6h0M1252.3 1659.9h0M1243.3 1665.1h0M1247.8 1645.1h0M1246.4 1653.9h0M1250.7 1650.1h0M1253.1 1682.9h0M1280.7 1678h0M1272.7 1648.1h0M1255.4 1673.3h0M1265.3 1677.9h0M1269.8 1622.6h0M1250.8 1620.2h0M1258.2 1616.9h0M1240.6 1678.7h0M1251.4 1681h0M1262.1 1642.4h0M1263.4 1653.6h0M1261 1581.2h0M1254.2 1611.2h0M1267.9 1602.7h0M1240.3 1660.7h0M1252.2 1669.5h0M1253.9 1604.9h0M1245.1 1660.5h0M1254.4 1603.7h0M1263.5 1620h0M1266.5 1607.6h0M1272.2 1634.5h0M1248 1637.4h0M1253.3 1653.9h0M1270.3 1650.4h0M1260.5 1629.5h0M1247 1643.3h0M1261.2 1675.1h0M1241.6 1686.7h0M1249 1678.6h0M1257.9 1581.9h0M1262.6 1622.6h0M1267.1 1669.7h0M1267.5 1657.8h0M1252.7 1674.7h0M1251.4 1659.4h0M1255.7 1614.5h0M1248.8 1630.8h0M1267.6 1606.1h0M1253.8 1614.8h0M1248.7 1658.6h0M1267.9 1599.1h0M1247.1 1655.4h0M1251.9 1683.6h0M1266.6 1646.7h0M1254.8 1623.2h0M1255.7 1602.5h0M1268.2 1664.3h0M1249.9 1659h0M1238.2 1682h0M1243.8 1668.4h0M1263.8 1656.4h0M1271.3 1684h0M1264.6 1683.9h0M1263 1573.8h0M1264.6 1620.2h0M1268.7 1628.3h0M1274.5 1670.1h0M1255.9 1619.5h0M1276.8 1646.8h0M1257 1675.9h0M1261.1 1633.3h0M1278.5 1684.8h0M1276.4 1665.4h0M1268.6 1649.2h0M1263.8 1607.8h0M1262.5 1633.9h0M1254.7 1653.9h0M1260.4 1659.9h0M1255.9 1688.3h0M1243.7 1615h0M1283.8 1647.6h0M1246 1631.9h0M1264 1672.3h0M1275.6 1639.6h0M1288.8 1650.1h0M1248.4 1651h0M1251.9 1685.3h0M1264.1 1618.8h0M1268.3 1672.7h0M1265.9 1654.6h0M1274.6 1669.5h0M1265.6 1647h0M1243.7 1639.4h0M1283.1 1593h0M1277 1627.5h0M1254.9 1581.5h0M1249.6 1653.4h0M1241.1 1615.6h0M1260.1 1668h0M1286.2 1610.5h0M1270.1 1539.5h0M1278.6 1597.4h0M1256 1681.4h0M1269.3 1615.1h0M1252.3 1607.3h0M1262.5 1665.4h0M1272.1 1646.7h0M1259.5 1612.1h0M1267.4 1632.7h0M1246.3 1569.4h0M1270.5 1632.1h0M1286.1 1652h0M1242.7 1688.5h0M1285.7 1607.7h0M1285.5 1612.2h0M1253.1 1642.4h0M1251.9 1586.4h0M1247.8 1627.3h0M1279.3 1639.2h0M1282.3 1636.8h0M1239.7 1659h0M1253.6 1598.2h0M1245.8 1544h0M1273.5 1657.5h0M1246.8 1600.2h0M1249.9 1681.1h0M1297 1649.6h0M1279.1 1638.9h0M1248.5 1659.9h0M1271.4 1632.8h0M1246.3 1663.2h0M1258.8 1660.1h0M1260.9 1601.5h0M1283.3 1655.6h0M1262.1 1555.8h0M1265.6 1659.4h0M1252.9 1671h0M1263.2 1655.3h0M1247.4 1634.7h0M1270.9 1603h0M1241.7 1653.1h0M1258.5 1656.9h0M1285.1 1622.2h0M1279.2 1510.9h0M1279 1516.2h0M1282.7 1423.8h0M1273.2 1379.3h0M1286.7 1495h0M1290.2 1484.2h0M1280.8 1344.3h0M1272.8 1398.1h0M1274.7 1412.7h0M1278.4 1440h0M1283.4 1473.4h0M1321.1 1555.3h0M1313.4 1597.9h0M1355 1633.7h0M1339.3 1681.7h0M1298 1308.2h0M1424.2 1529.8h0M1424.2 1597.4h0M1424.2 1639.8h0M1424.2 1679.5h0" stroke="#d8384f" stroke-width="5.4" stroke-linecap="round" fill="none" stroke-opacity="0.5"/>
<path d="M1257.5 1658.3h0M1253.3 1644.6h0M1264.8 1636.4h0M1263.5 1638.2h0M1255.1 1666.8h0M1263.2 1662h0M1265.7 1593.6h0M1262.4 1675.2h0M1275.3 1630.3h0M1251.4 1662h0M1277.8 1677h0M1267.9 1633.2h0M1256.7 1602.6h0M1245.4 1666.5h0M1262.7 1583.7h0M1258.8 1599.4h0M1264.9 1620.4h0M1246.6 1634.4h0M1256.5 1633.4h0M1275.9 1652.9h0M1262 1583.1h0M1251.8 1634.5h0M1240.5 1674.3h0M1258.1 1609.6h0M1259.6 1610.7h0M1256.4 1680.5h0M1276.8 1686.2h0M1253.7 1636.3h0M1267.6 1614.7h0M1261.4 1585.7h0M1248.2 1665.6h0M1259.7 1558.1h0M1270.2 1612h0M1268.2 1647.5h0M1244.1 1652.2h0M1267.5 1648.5h0M1237.7 1681.6h0M1271.1 1650.2h0M1248.1 1676.5h0M1250.9 1659.6h0M1247.3 1662.3h0M1250 1658.9h0M1266.9 1593.2h0M1237.2 1682h0M1264.8 1603.8h0M1274.4 1636.2h0M1268.8 1670.5h0M1239.3 1680.4h0M1265.4 1624.6h0M1236.9 1676.4h0M1260 1596.4h0M1264.4 1635.6h0M1280 1676.9h0M1256.1 1608h0M1268.3 1670.9h0M1264.3 1593.7h0M1262.1 1667.9h0M1256.8 1684.7h0M1252 1671.4h0M1264.9 1588.9h0M1259.4 1603h0M1248.6 1641.5h0M1253.3 1663.3h0M1255.3 1631.2h0M1239.1 1669.1h0M1260.8 1584.5h0M1253.2 1642.1h0M1276.8 1658.5h0M1251.2 1658h0M1263.8 1628.4h0M1253.9 1673.2h0M1246.6 1681.3h0M1262.4 1587.9h0M1239.8 1670.8h0M1252.8 1631.1h0M1249.9 1688.6h0M1279.2 1667h0M1256.6 1604.7h0M1261.6 1575.3h0M1248.3 1629.4h0M1266.1 1614.3h0M1272.5 1682.9h0M1259.8 1678h0M1256.6 1618.7h0M1250.7 1625.5h0M1268.4 1688.8h0M1264.5 1665.4h0M1263.7 1587.8h0M1242.6 1679.7h0M1269.4 1673.1h0M1253.7 1634.3h0M1256.2 1647.3h0M1265.6 1585.3h0M1273.7 1640.4h0M1253.9 1609.4h0M1261.9 1622.5h0M1266.5 1598.1h0M1248.9 1629.3h0M1270 1634.1h0M1261.5 1614.5h0M1239.2 1661h0M1257.9 1618.8h0M1277.9 1648.7h0M1252.8 1685.1h0M1252.9 1620.9h0M1245.9 1632.2h0M1274.5 1599.7h0M1256.2 1617h0M1239 1684.8h0M1266.5 1655.8h0M1248 1588.9h0M1282.2 1678.5h0M1247.2 1679.2h0M1246.5 1678.5h0M1295.1 1641.1h0M1258.5 1599.2h0M1255.5 1623.9h0M1290 1638.1h0M1285.5 1623.4h0M1271.5 1646h0M1275.5 1628h0M1238.4 1623.1h0M1263.7 1661h0M1264.4 1662.1h0M1254.5 1634.8h0M1249.3 1658.9h0M1252.7 1654h0M1251.5 1662.9h0M1243.5 1677.4h0M1246.9 1589.7h0M1266.5 1592.9h0M1257.1 1642.3h0M1272.2 1649.3h0M1263.6 1683.7h0M1288.9 1660.7h0M1276.4 1668.8h0M1277 1630.4h0M1270.7 1677.6h0M1252 1612.5h0M1246.9 1591.6h0M1270.4 1553.6h0M1238.6 1677.8h0M1246.8 1584.8h0M1262.2 1651.5h0M1242.2 1686.1h0M1283.8 1634.3h0M1273.3 1680.4h0M1251.7 1664.8h0M1278.7 1636.2h0M1250.5 1567.2h0M1249.7 1653.6h0M1250.9 1636.6h0M1254.5 1599.6h0M1278.3 1623.6h0M1287.4 1596.6h0M1239.3 1658.6h0M1244.5 1577h0M1242.7 1633.9h0M1292.1 1608.9h0M1262.9 1611.3h0M1242.1 1574.2h0M1245.1 1681.3h0M1246.8 1686.9h0M1238.7 1650.7h0M1266.8 1658h0M1286.5 1631.6h0M1291.8 1476.1h0M1284.2 1462.3h0M1279.4 1470.7h0M1289.5 1449h0M1276.1 1486.7h0M1280.9 1406.2h0M1284.2 1326h0M1279.5 1365.5h0M1280 1396h0M1287.4 1430.2h0M1302.2 1439.7h0M1268.8 1478.9h0M1321.8 1581.5h0M1303.8 1572.5h0M1370.9 1666.8h0M1306 1686.2h0M1308.6 1308.2h0M1424.2 1551h0M1424.2 1631.8h0M1424.2 1645.1h0" stroke="#d8384f" stroke-width="5.4" stroke-linecap="round" fill="none" stroke-opacity="0.5"/>
<text x="98.5" y="1339.7" font-size="44" text-anchor="end" textLength="45.5" lengthAdjust="spacingAndGlyphs">20</text>
<text x="98.5" y="1436.6" font-size="44" text-anchor="end" textLength="45.5" lengthAdjust="spacingAndGlyphs">15</text>
<text x="98.5" y="1534.3" font-size="44" text-anchor="end" textLength="45.5" lengthAdjust="spacingAndGlyphs">10</text>
<text x="98.5" y="1632.1" font-size="44" text-anchor="end" textLength="21" lengthAdjust="spacingAndGlyphs">5</text>
<text x="98.5" y="1729" font-size="44" text-anchor="end" textLength="21" lengthAdjust="spacingAndGlyphs">0</text>
<text x="38" y="1512" font-size="43" text-anchor="middle" textLength="212.7" lengthAdjust="spacingAndGlyphs" transform="rotate(-90 38 1512)">-log<tspan font-size="26" dy="9">10</tspan><tspan dy="-9">(pVal)</tspan></text>
<text x="311" y="1297" font-size="43.7" text-anchor="middle" textLength="60.5" lengthAdjust="spacingAndGlyphs">GV</text>
<text x="757.6" y="1297" font-size="43.7" text-anchor="middle" textLength="58" lengthAdjust="spacingAndGlyphs">BD</text>
<text x="1207" y="1297" font-size="43.7" text-anchor="middle" textLength="57" lengthAdjust="spacingAndGlyphs">MII</text>
<text x="197" y="1769.6" font-size="43" text-anchor="middle" textLength="35.7" lengthAdjust="spacingAndGlyphs">-5</text>
<text x="311" y="1769.6" font-size="43" text-anchor="middle" textLength="21" lengthAdjust="spacingAndGlyphs">0</text>
<text x="419.3" y="1769.6" font-size="43" text-anchor="middle" textLength="21" lengthAdjust="spacingAndGlyphs">5</text>
<text x="646.5" y="1769.6" font-size="43" text-anchor="middle" textLength="35.7" lengthAdjust="spacingAndGlyphs">-5</text>
<text x="762.5" y="1769.6" font-size="43" text-anchor="middle" textLength="21" lengthAdjust="spacingAndGlyphs">0</text>
<text x="871.5" y="1769.6" font-size="43" text-anchor="middle" textLength="21" lengthAdjust="spacingAndGlyphs">5</text>
<text x="1095.5" y="1769.6" font-size="43" text-anchor="middle" textLength="35.7" lengthAdjust="spacingAndGlyphs">-5</text>
<text x="1209.5" y="1769.6" font-size="43" text-anchor="middle" textLength="21" lengthAdjust="spacingAndGlyphs">0</text>
<text x="1318.1" y="1769.6" font-size="43" text-anchor="middle" textLength="21" lengthAdjust="spacingAndGlyphs">5</text>
<line x1="100" y1="1776.5" x2="1425" y2="1776.5" stroke="#8a8a8a" stroke-width="2.4" />
<text x="765" y="1834.5" font-size="42" text-anchor="middle" textLength="240.4" lengthAdjust="spacingAndGlyphs">log<tspan font-size="27" dy="9">2</tspan><tspan dy="-9">(KO/WT)</tspan></text>
<text x="182.4" y="1404.3" font-size="31.5" text-anchor="middle" fill="#1f5aa6" textLength="80.5" lengthAdjust="spacingAndGlyphs">Down</text>
<text x="182.7" y="1443" font-size="31.5" text-anchor="middle" fill="#1f5aa6" textLength="51.5" lengthAdjust="spacingAndGlyphs">179</text>
<text x="472.2" y="1404.3" font-size="31.5" text-anchor="middle" fill="#cf2a3f" textLength="39.5" lengthAdjust="spacingAndGlyphs">Up</text>
<text x="466.9" y="1443" font-size="31.5" text-anchor="middle" fill="#cf2a3f" textLength="51.5" lengthAdjust="spacingAndGlyphs">244</text>
<text x="609.1" y="1404.3" font-size="31.5" text-anchor="middle" fill="#1f5aa6" textLength="80.5" lengthAdjust="spacingAndGlyphs">Down</text>
<text x="608.9" y="1443" font-size="31.5" text-anchor="middle" fill="#1f5aa6" textLength="51.5" lengthAdjust="spacingAndGlyphs">462</text>
<text x="935.3" y="1404.3" font-size="31.5" text-anchor="middle" fill="#cf2a3f" textLength="39.5" lengthAdjust="spacingAndGlyphs">Up</text>
<text x="930.1" y="1443" font-size="31.5" text-anchor="middle" fill="#cf2a3f" textLength="51.5" lengthAdjust="spacingAndGlyphs">447</text>
<text x="1048.3" y="1404.3" font-size="31.5" text-anchor="middle" fill="#1f5aa6" textLength="80.5" lengthAdjust="spacingAndGlyphs">Down</text>
<text x="1048" y="1443" font-size="31.5" text-anchor="middle" fill="#1f5aa6" textLength="51.5" lengthAdjust="spacingAndGlyphs">238</text>
<text x="1377.9" y="1404.3" font-size="31.5" text-anchor="middle" fill="#cf2a3f" textLength="39.5" lengthAdjust="spacingAndGlyphs">Up</text>
<text x="1372.9" y="1443" font-size="31.5" text-anchor="middle" fill="#cf2a3f" textLength="51.5" lengthAdjust="spacingAndGlyphs">706</text>
<text x="1489" y="1261" font-size="50" font-weight="bold">g</text>
<rect x="1581.8" y="1300" width="30" height="13.3" fill="#ef8a8c" />
<text x="1619" y="1313.3" font-size="33" textLength="81" lengthAdjust="spacingAndGlyphs">Down</text>
<rect x="1723" y="1300" width="30" height="13.3" fill="#9bbfde" />
<text x="1758.5" y="1313.3" font-size="33" textLength="88.5" lengthAdjust="spacingAndGlyphs">NoDiff</text>
<rect x="1864" y="1300" width="30" height="13.3" fill="#a6d8a2" />
<text x="1897" y="1313.3" font-size="33" textLength="39" lengthAdjust="spacingAndGlyphs">Up</text>
<path d="M1626.2 1363.7C1676.8 1363.7 1676.8 1454.1 1727.4 1454.1L1727.4 1499C1676.8 1499 1676.8 1379.4 1626.2 1379.4Z" fill="#9bbfde" fill-opacity="0.85"/>
<path d="M1626.2 1381.1C1676.8 1381.1 1676.8 1366.5 1727.4 1366.5L1727.4 1454.1C1676.8 1454.1 1676.8 1473.3 1626.2 1473.3Z" fill="#9bbfde" fill-opacity="0.85"/>
<path d="M1626.2 1346.4C1676.8 1346.4 1676.8 1346.4 1727.4 1346.4L1727.4 1351.9C1676.8 1351.9 1676.8 1351.9 1626.2 1351.9Z" fill="#ef8a8c" fill-opacity="0.85"/>
<path d="M1626.2 1351.9C1676.8 1351.9 1676.8 1358.3 1727.4 1358.3L1727.4 1366.5C1676.8 1366.5 1676.8 1359.2 1626.2 1359.2Z" fill="#9bbfde" fill-opacity="0.85"/>
<path d="M1626.2 1473.3C1676.8 1473.3 1676.8 1456.8 1727.4 1456.8L1727.4 1498.8C1676.8 1498.8 1676.8 1514.4 1626.2 1514.4Z" fill="#ef8a8c" fill-opacity="0.85"/>
<path d="M1626.2 1515.3C1676.8 1515.3 1676.8 1549 1727.4 1549L1727.4 1644C1676.8 1644 1676.8 1610.2 1626.2 1610.2Z" fill="#a6d8a2" fill-opacity="0.85"/>
<path d="M1626.2 1610.2C1676.8 1610.2 1676.8 1644 1727.4 1644L1727.4 1650.4C1676.8 1650.4 1676.8 1630.3 1626.2 1630.3Z" fill="#9bbfde" fill-opacity="0.85"/>
<path d="M1626.2 1639.4C1676.8 1639.4 1676.8 1658.6 1727.4 1658.6L1727.4 1706.1C1676.8 1706.1 1676.8 1675 1626.2 1675Z" fill="#9bbfde" fill-opacity="0.85"/>
<path d="M1626.2 1630.3C1676.8 1630.3 1676.8 1707 1727.4 1707L1727.4 1716.1C1676.8 1716.1 1676.8 1639.4 1626.2 1639.4Z" fill="#a6d8a2" fill-opacity="0.85"/>
<path d="M1626.2 1717C1676.8 1717 1676.8 1717 1727.4 1717L1727.4 1720.7C1676.8 1720.7 1676.8 1720.7 1626.2 1720.7Z" fill="#a6d8a2" fill-opacity="0.85"/>
<path d="M1626.2 1379.3C1676.8 1379.3 1676.8 1351.9 1727.4 1351.9L1727.4 1358.3C1676.8 1358.3 1676.8 1385.6 1626.2 1385.6Z" fill="#ef8a8c" fill-opacity="0.85"/>
<path d="M1626.2 1370.1C1676.8 1370.1 1676.8 1480 1727.4 1480L1727.4 1499C1676.8 1499 1676.8 1379.4 1626.2 1379.4Z" fill="#6f9fcc" fill-opacity="0.85"/>
<path d="M1626.2 1675C1676.8 1675 1676.8 1515.3 1727.4 1515.3L1727.4 1549C1676.8 1549 1676.8 1707 1626.2 1707Z" fill="#77a6d2" fill-opacity="0.85"/>
<path d="M1626.2 1708.8C1676.8 1708.8 1676.8 1650.4 1727.4 1650.4L1727.4 1658.6C1676.8 1658.6 1676.8 1716.1 1626.2 1716.1Z" fill="#7fc47c" fill-opacity="0.85"/>
<path d="M1777.6 1346.3C1827.7 1346.3 1827.7 1346.3 1877.7 1346.3L1877.7 1358.3C1827.7 1358.3 1827.7 1358.3 1777.6 1358.3Z" fill="#ef8a8c" fill-opacity="0.92" style="mix-blend-mode:multiply"/>
<path d="M1777.6 1358.3C1827.7 1358.3 1827.7 1404.7 1877.7 1404.7L1877.7 1497.5C1827.7 1497.5 1827.7 1454.1 1777.6 1454.1Z" fill="#9bbfde" fill-opacity="0.92" style="mix-blend-mode:multiply"/>
<path d="M1777.6 1454.1C1827.7 1454.1 1827.7 1358.3 1877.7 1358.3L1877.7 1404.1C1827.7 1404.1 1827.7 1499 1777.6 1499Z" fill="#ef8a8c" fill-opacity="0.92" style="mix-blend-mode:multiply"/>
<path d="M1777.6 1499C1827.7 1499 1827.7 1499 1877.7 1499L1877.7 1548.4C1827.7 1548.4 1827.7 1548.4 1777.6 1548.4Z" fill="#9bbfde" fill-opacity="0.92" style="mix-blend-mode:multiply"/>
<path d="M1777.6 1548.4C1827.7 1548.4 1827.7 1605.3 1877.7 1605.3L1877.7 1705.7C1827.7 1705.7 1827.7 1647.3 1777.6 1647.3Z" fill="#a6d8a2" fill-opacity="0.92" style="mix-blend-mode:multiply"/>
<path d="M1777.6 1650.3C1827.7 1650.3 1827.7 1549.9 1877.7 1549.9L1877.7 1605.3C1827.7 1605.3 1827.7 1707.2 1777.6 1707.2Z" fill="#9bbfde" fill-opacity="0.92" style="mix-blend-mode:multiply"/>
<path d="M1777.6 1707.2C1827.7 1707.2 1827.7 1707.2 1877.7 1707.2L1877.7 1720.6C1827.7 1720.6 1827.7 1720.6 1777.6 1720.6Z" fill="#a6d8a2" fill-opacity="0.92" style="mix-blend-mode:multiply"/>
<rect x="1575.8" y="1346.4" width="50.4" height="32.9" fill="#ef8a8c" stroke="#111" stroke-width="2"/>
<rect x="1575.8" y="1379.3" width="50.4" height="295.7" fill="#9bbfde" stroke="#111" stroke-width="2"/>
<rect x="1575.8" y="1675" width="50.4" height="45.6" fill="#a6d8a2" stroke="#111" stroke-width="2"/>
<rect x="1727.4" y="1346.4" width="50.2" height="108.3" fill="#ef8a8c" stroke="#111" stroke-width="2"/>
<rect x="1727.4" y="1454.7" width="50.2" height="194.8" fill="#9bbfde" stroke="#111" stroke-width="2"/>
<rect x="1727.4" y="1649.5" width="50.2" height="71.1" fill="#a6d8a2" stroke="#111" stroke-width="2"/>
<rect x="1877.7" y="1346.4" width="51" height="57.7" fill="#ef8a8c" stroke="#111" stroke-width="2"/>
<rect x="1877.7" y="1404.1" width="51" height="201.2" fill="#9bbfde" stroke="#111" stroke-width="2"/>
<rect x="1877.7" y="1605.3" width="51" height="115.3" fill="#a6d8a2" stroke="#111" stroke-width="2"/>
<text x="1602.4" y="1766.1" font-size="44.4" text-anchor="middle" textLength="60.7" lengthAdjust="spacingAndGlyphs">GV</text>
<text x="1752" y="1766.1" font-size="44.4" text-anchor="middle" textLength="56" lengthAdjust="spacingAndGlyphs">BD</text>
<text x="1904.5" y="1766.1" font-size="44.4" text-anchor="middle" textLength="55" lengthAdjust="spacingAndGlyphs">MII</text>
<text x="1347" y="631" font-size="50" font-weight="bold">h</text>
<path d="M1803.7 965.9h0M1726.2 935h0M1734.4 904.8h0M1749.9 932.2h0M1730.3 938.5h0M1717.2 825.9h0M1778 894.6h0M1757.9 899.8h0M1737.8 899.9h0M1656.6 812.1h0M1737.5 857.2h0M1716.8 948.8h0M1694.2 855.6h0M1665.3 927.5h0M1758.4 924.9h0M1677.9 828.8h0M1728.3 925.2h0M1762.9 901.7h0M1743 891.3h0M1757.8 921.2h0M1716.2 893.4h0M1764.8 990.7h0M1720.2 840h0M1640.8 890.2h0M1736.6 910.1h0M1745.3 885h0M1723.7 899.6h0M1753.2 948.3h0M1746.7 885.1h0M1753.5 972.9h0M1763.4 920.6h0M1738.1 897.8h0M1825.3 987.6h0M1700.8 896.6h0M1741.8 924.4h0M1705.8 887.5h0M1776.6 984.5h0M1761.4 906.5h0M1669.8 868.9h0M1720.4 887.1h0M1759.1 865.4h0M1732.6 914h0M1720.7 943.5h0M1747.8 914h0M1692.9 898.5h0M1679.4 826.1h0M1657.8 832.1h0M1787.2 902.6h0M1708.2 844.4h0M1702.2 874.1h0M1748.2 897.1h0M1727.3 952.2h0M1723 816h0M1756.1 951.7h0M1808.9 973.2h0M1774.5 948.5h0M1716.1 850.2h0M1721.5 924.7h0M1684.6 877.8h0M1708.3 955.6h0M1746.5 867.8h0M1738.5 977.5h0M1717.8 830.7h0M1781.3 945.9h0M1767.9 950.7h0M1781.4 1002.8h0M1765.4 943.4h0M1753.2 955.7h0M1754.1 870.3h0M1784.7 923.5h0M1703.8 853.8h0M1744.7 879.9h0M1732.1 869.7h0M1746.3 934h0M1688.2 920h0M1710.4 921.1h0M1728.3 905.6h0M1746.6 865.2h0M1726 934.5h0M1723.4 890.2h0M1730.6 899h0M1705.7 923.9h0M1755.1 971.3h0M1729 821.8h0M1757.5 879h0M1739.8 961.6h0M1730.8 905.9h0M1778.4 927.7h0M1766.3 975h0M1744.3 917.7h0M1735.2 903.6h0M1719.9 869.2h0M1735.9 868.8h0M1711 975h0M1722.8 803h0M1704.9 917.6h0M1683.2 854h0M1739.9 899.5h0M1720.9 887.3h0M1713.2 918.5h0M1730.1 927.8h0M1751 910.4h0M1732.9 901.4h0M1679.2 846.8h0M1792.2 951.9h0M1698.2 889.4h0M1723.2 864.8h0M1753.9 906.4h0M1775 916.4h0M1799.9 936.3h0M1715.5 900.5h0M1746.7 814.1h0M1736.3 927.7h0M1765.7 877h0M1653.9 867.6h0M1691.9 894.9h0M1780.3 978.6h0M1746.3 1019.6h0M1757.1 885.6h0M1726.3 914.4h0M1759.4 927.9h0M1722.9 926.1h0M1747.6 901.5h0M1644.7 824.1h0M1733.6 912.9h0M1735.8 830.6h0M1724.2 910.1h0M1717.8 828.7h0M1694.7 796.1h0M1683.9 811.9h0M1713.7 809.7h0M1712.8 803.6h0M1718.6 823.6h0M1704.6 809.9h0M1717.3 834.5h0M1637.7 929.8h0M1681.2 873.2h0M1654.1 893.5h0M1663 857.7h0M1630.5 885.2h0M1680.7 897.5h0M1639.4 855.9h0M1674 892.4h0M1658.8 852.5h0M1666.1 884.3h0M1653.9 914h0M1695.3 944.8h0M1641.7 938.1h0M1654.2 934h0M1799.8 957.6h0M1805.5 993.1h0M1864.5 1049.6h0M1822 968.5h0M1799.5 983.6h0M1798.9 970.9h0M1805.5 985.1h0M1858.6 1004.4h0M1854 1020.1h0M1869.2 1010.8h0M1801.3 976.8h0M1806 960.3h0M1809.4 989.1h0M1877.4 1038.2h0M1795.1 977.8h0M1554.6 923.4h0M1563.9 982.5h0M1571.6 932.5h0M1568.6 938.7h0M1563.7 961.9h0M1569 1019.2h0M1562.9 1018.4h0M1557.8 988.2h0M1565.5 999h0M1571.8 931.9h0M1821.7 692.8h0M1757.4 719.9h0M1710.7 760.6h0M1588 851.6h0M1613.3 1010.3h0M1743.8 1010.3h0M1699 793.5h0M1743.8 793.5h0M1681.5 812.8h0M1693.2 814.8h0M1789.2 911.9h0M1750.1 969.3h0M1705.2 901.4h0M1778.6 974.6h0M1728 843h0M1763.6 968.2h0M1697.1 838.5h0M1800.7 949.2h0M1769.7 852.8h0M1763.1 974.3h0M1791.7 948.6h0M1694.3 874.9h0M1719.8 845.7h0M1770 863.3h0M1703 849.1h0M1715.9 932.7h0M1780.7 884.5h0M1686.9 854.6h0M1781.7 890.6h0M1782.6 960.7h0M1747.9 837.3h0M1744.8 841.4h0M1779.6 968.6h0M1801 935.9h0M1791.2 967.3h0M1714.3 947.1h0M1797.6 966.1h0M1750.4 845.6h0M1787.7 903.7h0M1727.9 841.6h0M1738.2 839.1h0M1708.8 916.2h0M1789.6 926.2h0M1705.2 890.7h0M1791.5 973.5h0M1762.2 845.4h0M1780.3 868.8h0M1787.6 915.9h0M1771.3 854.1h0M1701.6 836.1h0M1710.4 930.5h0M1699.4 912h0M1704.7 890.6h0M1750.2 838.7h0M1785.1 914h0M1777.4 962.9h0M1802.5 918h0M1700.3 912.1h0M1700.2 899.7h0M1758.5 843.8h0M1779.2 886.3h0M1712.4 918.5h0M1774.3 849.7h0M1787.1 926.8h0M1799.4 912.8h0M1709.5 928.2h0M1685.5 877.5h0M1689.6 879.1h0M1764.6 976.8h0M1698.5 893.4h0M1745.5 971.1h0M1774.3 979.3h0M1795.2 920.4h0M1764.9 850.5h0M1763.8 851.5h0M1691.2 864.2h0M1799.1 945.1h0M1707.5 911.1h0M1744 969.3h0M1783 968.3h0M1762.6 844.1h0M1720.7 844.9h0M1747.3 973.3h0M1730.9 963.5h0M1699.6 838.8h0M1709.4 918.2h0M1746.5 843.6h0M1771.8 853.1h0M1699.1 908.4h0M1731.6 977.4h0M1695.8 886.5h0M1735.6 971h0M1773.8 866.1h0M1691.7 893.3h0M1782.8 960.4h0M1778.7 964.8h0M1744.5 839.4h0M1733.7 961.5h0M1778.1 883h0M1735.9 972.4h0M1788.4 967.3h0M1766.7 851.3h0M1705.6 835.3h0M1789.1 950.3h0M1717.6 939.8h0M1792.9 938.8h0M1724.9 950.9h0M1735 970.1h0M1689 867.9h0M1765.4 968.7h0M1724 956.6h0M1753 971.4h0M1791.1 945.3h0M1702.4 899.5h0M1740 844.5h0M1719.9 836.9h0M1739.2 974.9h0M1758.5 829h0M1777.8 889.4h0M1691.1 880.6h0M1785.2 888.7h0M1694.1 855.7h0M1765.5 980.1h0M1720.4 947.2h0M1732.4 841h0M1768.8 872.9h0M1722.4 955.5h0M1760.1 976.5h0M1696.5 873.2h0M1794.6 926.2h0M1692 855.4h0M1696.8 879.5h0M1796.5 961.1h0M1747.3 977.3h0M1791.3 914.6h0M1747.8 832.4h0M1725.1 836.6h0M1797.8 932.1h0M1787.4 900.6h0M1693 837.6h0M1795.2 961.8h0M1702.4 852.1h0M1803.2 935.9h0M1687.7 874.8h0M1799.8 942.7h0M1717.1 957.4h0M1741 845.6h0M1745.7 965.9h0M1770.8 880.3h0M1778.2 858.4h0M1781.6 971.8h0M1773.1 862.8h0M1722.9 964.4h0M1738.3 837.9h0M1715.4 925.4h0M1793.3 916.9h0M1688.2 852.3h0M1706 834.6h0M1706.7 901h0M1788.2 962.9h0M1737.1 973.3h0M1777.8 875.2h0M1786.5 898.9h0M1792.2 911.7h0M1797.6 907.6h0M1779.5 963.7h0M1785.4 917.2h0M1755.9 837.3h0M1712.3 949.5h0M1734 830h0M1778.7 896h0M1781.8 960h0M1764.3 842.3h0M1756.2 980.8h0M1689.8 897h0M1790 912.5h0M1785.2 967.4h0M1769.2 969h0M1786 925.5h0M1691.2 864.5h0M1751.4 979h0M1716.3 951.9h0M1732 835.3h0" stroke="#8c8c8c" stroke-width="7" stroke-linecap="round" fill="none" stroke-opacity="0.42"/>
<path d="M1721.9 883.9h0M1645.3 911.5h0M1683.2 828.5h0M1722.1 873.9h0M1722.3 896.2h0M1752.3 927.9h0M1717.5 821.2h0M1693.3 906.5h0M1659.5 861.9h0M1780.5 940.9h0M1795.1 933.2h0M1675.6 814.1h0M1763.1 977.1h0M1744.6 950.3h0M1698.6 880.7h0M1713.9 941.1h0M1713 885.8h0M1736.4 909.8h0M1709.4 901.3h0M1740.4 895.3h0M1700.4 808.4h0M1737.2 879.4h0M1716.5 851.2h0M1764.3 978.5h0M1759.9 977.6h0M1787.6 892.2h0M1693.4 820.7h0M1717.4 941h0M1743.5 862.7h0M1780.7 970.3h0M1757.5 932.2h0M1690.9 890.3h0M1733.9 958.7h0M1735.8 850.7h0M1718 826.1h0M1763.1 975h0M1726.7 881.4h0M1788.2 936.5h0M1757.2 901.9h0M1689.3 892.9h0M1670.6 892.3h0M1714.8 912.3h0M1752.7 915.8h0M1699.3 888.6h0M1700.8 938.6h0M1715.2 922.2h0M1738.9 925h0M1704.6 890.6h0M1754 860.9h0M1733.9 887.8h0M1691.7 820.8h0M1770.3 949.8h0M1758 936.9h0M1698.8 869.7h0M1662.1 857.5h0M1712.6 875.4h0M1709.3 870.3h0M1734.9 898.9h0M1746.1 889.5h0M1674.1 860.6h0M1731.9 930.1h0M1795.2 874.2h0M1771 927.1h0M1736.1 920.6h0M1742.4 850.1h0M1697.5 810h0M1724.2 920.2h0M1738.1 813.7h0M1764.7 934.6h0M1760.5 861.3h0M1751.3 874.8h0M1733.4 934.8h0M1744.6 900.9h0M1741.5 911.4h0M1690 918.4h0M1780.1 918.5h0M1793 912.7h0M1758.1 950.1h0M1782.5 947.1h0M1735.4 871.8h0M1699.3 809.5h0M1769 928.7h0M1728.2 872.4h0M1726.1 899.7h0M1745 925.2h0M1710.3 891h0M1776.5 917.4h0M1663.9 839.8h0M1750.5 898.7h0M1735.9 872.9h0M1803.9 947.5h0M1788.8 908.3h0M1710.6 893.4h0M1694.3 893.5h0M1737.6 889.1h0M1757.3 919.7h0M1727.4 963.7h0M1778.6 956.4h0M1725.2 973.8h0M1783.7 977.7h0M1708.4 910.3h0M1747.8 954h0M1788.8 956.9h0M1703.4 883.7h0M1718.4 933.8h0M1821.7 1026.9h0M1733.4 924.2h0M1736.2 847.7h0M1746.9 893.7h0M1761.8 935.6h0M1723.1 926.1h0M1759.1 909.3h0M1666.3 858.3h0M1744.2 1008.6h0M1720.4 873.7h0M1738.6 928.2h0M1687.9 888.3h0M1747.6 884.1h0M1757.3 895h0M1747.8 884.2h0M1727.3 971.2h0M1667.2 906.2h0M1797.3 898h0M1799.7 900.4h0M1761.6 997.6h0M1689.3 842.8h0M1786 906h0M1695.6 815.7h0M1716.3 827.6h0M1717.2 833.8h0M1735.3 822.6h0M1702.5 822.2h0M1706.2 820.4h0M1714.5 821.6h0M1704.2 810.2h0M1681.4 934.1h0M1658.4 857.7h0M1642.1 932.2h0M1649.5 910.9h0M1654.2 938.7h0M1644 865.2h0M1681.6 897.9h0M1676.3 937.9h0M1665.3 916.3h0M1687.2 926.1h0M1695.8 854.7h0M1632.2 899.3h0M1645.9 928.7h0M1841.5 1021h0M1871 1007.6h0M1833.2 1030.1h0M1800.1 961.9h0M1829.8 1036.9h0M1849.8 1007.8h0M1866 1022.7h0M1856.8 1026.5h0M1817.7 984.7h0M1853.5 997.7h0M1828.6 997.4h0M1851.9 1032.4h0M1828.8 1010.1h0M1825.7 966.6h0M1793.9 989.4h0M1550.1 996.2h0M1565.7 979.2h0M1581.3 950.5h0M1559.6 980.7h0M1570.1 964.5h0M1574.4 1005.1h0M1560 982.3h0M1561.1 984.4h0M1569.3 997.8h0M1557.3 994.7h0M1804.1 685.1h0M1697.1 704.4h0M1673.7 752.8h0M1675.6 766.4h0M1595.8 847.7h0M1734.1 1010.3h0M1796.4 1029.7h0M1710.7 770.2h0M1751.6 789.6h0M1677.6 807h0M1737.2 958.9h0M1728.9 831.8h0M1702.5 849.1h0M1733.7 956.4h0M1760.2 847.7h0M1722.9 965.6h0M1744.8 838.7h0M1719 949.9h0M1695.7 863h0M1715.2 925.6h0M1785.7 967.1h0M1696.5 881.4h0M1779 891.6h0M1779.2 961.7h0M1768.7 863.7h0M1793.9 912.1h0M1715.4 945.9h0M1786 969.5h0M1732.6 965.6h0M1799.2 946.1h0M1796.4 904.1h0M1741.1 835.1h0M1805.4 962.5h0M1699.8 849h0M1773.7 965.4h0M1778.4 873.1h0M1771 858.9h0M1723.5 954.8h0M1705.8 918h0M1721.8 957.4h0M1692.6 840.6h0M1708.5 918.6h0M1770 965.4h0M1763.9 844.9h0M1685.2 868.2h0M1708.3 928.3h0M1696.5 859.9h0M1697.7 878h0M1796.5 923.4h0M1704.1 899.7h0M1776 875.4h0M1762.5 840.1h0M1789.8 950.2h0M1785.4 867.6h0M1802.6 946.8h0M1702.3 916h0M1718.9 964.8h0M1739.8 971.3h0M1744.9 838.9h0M1783.2 973.7h0M1769.4 850.5h0M1710.3 917.4h0M1709 933.5h0M1696.1 848.8h0M1715.8 947.4h0M1765.4 969.9h0M1773.5 846.5h0M1703.2 898.7h0M1703.5 830.5h0M1741.3 977.8h0M1716.5 837.9h0M1682.6 867.1h0M1781.1 874.1h0M1749.5 968.5h0M1720.3 844.3h0M1790.8 946.5h0M1734.5 962.8h0M1709.7 841.7h0M1703.6 912.3h0M1696.6 847.9h0M1722.5 840.9h0M1788.5 957.6h0M1725.7 949.6h0M1778.9 861.7h0M1771.8 867.8h0M1787.4 905.2h0M1745.7 972h0M1713.6 947.9h0M1786.9 924.1h0M1779.8 864h0M1778.9 875.9h0M1775.3 866.2h0M1796.9 958.8h0M1761.9 845.8h0M1787.2 917.7h0M1699.5 902.9h0M1697 880.5h0M1720.1 843.3h0M1713.3 910.3h0M1693.8 901.5h0M1786.5 898.3h0M1710.4 919.5h0M1784.3 969.7h0M1797.5 952h0M1716.4 954.7h0M1706 894.7h0M1703.9 926.1h0M1764.2 969.8h0M1772.6 854.1h0M1745 838.8h0M1737.2 978.9h0M1781.6 865.3h0M1794.3 909.5h0M1735.2 837.8h0M1785.7 969.8h0M1727.7 963.6h0M1702.5 893.3h0M1758.5 843h0M1797.1 943.5h0M1716.4 944.6h0M1713.5 930.8h0M1789.5 933.7h0M1702.9 894.9h0M1692.5 879.6h0M1751.9 979.5h0M1784.8 868.2h0M1798.5 944.9h0M1777.5 879h0M1706.5 940.2h0M1780.3 960.5h0M1796.9 941.3h0M1784.2 958.9h0M1719.8 939h0M1710.8 901.6h0M1702.6 841.6h0M1769.8 868.4h0M1692.9 865.8h0M1690.1 888.9h0M1687.7 883.6h0M1774.2 852.6h0M1786 921.2h0M1792.5 958.5h0M1775.7 849.8h0M1760.2 849.5h0M1788.3 886.5h0M1781.5 963.9h0M1759 836.7h0M1694.1 848.9h0M1758.7 836.8h0M1712.3 938.4h0M1796.9 968h0M1700.2 830.1h0M1720.7 841.4h0M1719.1 836.8h0M1774.3 964h0M1712.2 934h0M1687.4 887.7h0M1697.4 881.3h0M1732.6 964.1h0M1789.3 940.5h0M1762.8 977.5h0M1725.8 956.6h0M1710.5 836.2h0M1709.1 941.7h0M1703.3 919.2h0M1785.7 905.3h0M1733.5 962h0M1745.3 974.3h0M1793.3 964.2h0M1749.2 846.6h0M1786.4 932.9h0M1737.9 968.4h0M1782.4 884.7h0M1787.3 924.1h0M1724.9 832.5h0M1779.7 886.8h0M1795.9 939.8h0M1757 973.6h0M1757.4 848.4h0M1720.9 959.2h0M1761.7 838.1h0M1721.7 954.4h0M1699.6 850.5h0M1787.8 932.1h0" stroke="#8c8c8c" stroke-width="7" stroke-linecap="round" fill="none" stroke-opacity="0.42"/>
<path d="M1730 909.6h0M1702.2 924.9h0M1773.3 943.4h0M1748.8 885.3h0M1693.4 915.3h0M1750.4 902.5h0M1780.6 977.8h0M1802.2 987.8h0M1754.5 867.3h0M1715 891.2h0M1671.5 842.1h0M1736.5 862.7h0M1796.1 975.4h0M1700.1 915h0M1663.6 843.5h0M1798.3 1003.6h0M1773.3 998.5h0M1754.7 907.8h0M1708.7 832.3h0M1760.3 962.2h0M1781.9 869.2h0M1703 869.5h0M1751.3 875.8h0M1706.1 905h0M1763.6 979.3h0M1693.5 975.5h0M1754.3 932.8h0M1689.3 875.9h0M1729.8 889.2h0M1749.3 936.8h0M1721.8 911.9h0M1752.7 890h0M1735.9 882.8h0M1766.6 907.9h0M1739.9 931.4h0M1737.2 912.7h0M1714.3 899.6h0M1740.7 935.8h0M1762 889h0M1790.6 977.6h0M1764.4 925.5h0M1768.9 931.6h0M1792.1 928.4h0M1686.2 912.4h0M1741.6 833.9h0M1669.8 862.6h0M1687.6 890.1h0M1687.3 864.9h0M1757.9 873.4h0M1696.5 833.7h0M1709.6 908.3h0M1757.4 996.2h0M1746.7 971.5h0M1744.5 923.9h0M1707.6 950.8h0M1755.9 927.4h0M1731.1 856.5h0M1744.1 957.6h0M1775.5 938.6h0M1761 929.3h0M1740.3 919.7h0M1694.9 815.1h0M1749.6 879.5h0M1731.7 860.3h0M1662.4 823h0M1782.3 914.3h0M1686.5 830.9h0M1718.6 831.8h0M1732 924.8h0M1744.2 888.1h0M1744.3 935.3h0M1698.4 891.9h0M1773 868.8h0M1759.1 996.8h0M1717.3 851.3h0M1747.1 851.3h0M1737.5 895.1h0M1760.1 894.8h0M1757.7 961h0M1747.8 914h0M1789.4 949.2h0M1718.3 842.5h0M1703.5 917.4h0M1727.8 894.7h0M1751 898.2h0M1677.2 879h0M1775.7 955.9h0M1726.8 932.8h0M1729.6 876h0M1750.4 934.3h0M1736.8 934.1h0M1764.3 943.9h0M1715.4 774.5h0M1653.4 824.3h0M1751.3 941.2h0M1707.9 853.4h0M1725.1 940.9h0M1711.1 860.6h0M1788.3 984.6h0M1729.6 870.7h0M1713.9 819.7h0M1665 938.8h0M1726.2 832.9h0M1692.8 856.9h0M1709.4 867.1h0M1684.3 898.3h0M1748.8 935.2h0M1665.9 875.9h0M1683.7 835.1h0M1758.1 875.2h0M1744.2 856.4h0M1715.8 827.7h0M1728.2 902.6h0M1695.3 863.5h0M1724.2 841.9h0M1787.1 919.7h0M1780.2 1039h0M1655.5 812.6h0M1657.2 811h0M1717.4 866.9h0M1742.5 869.8h0M1700.3 877.5h0M1712 884h0M1695.1 830.8h0M1713.2 917h0M1756.6 963.2h0M1701.2 816.6h0M1744 834.5h0M1710.6 835.7h0M1717.2 807.4h0M1698.5 787.7h0M1713.3 804.6h0M1725.2 835.4h0M1683.2 822.5h0M1708.2 828.9h0M1635.1 885.7h0M1639.2 903.7h0M1695.9 917.2h0M1667.3 939.8h0M1648.4 879.3h0M1643.1 873.2h0M1658.5 891h0M1657.3 873.5h0M1689.7 905.5h0M1688.5 890.9h0M1666.1 912.9h0M1668.9 945.8h0M1637.4 933.9h0M1834.9 996h0M1817.6 974h0M1831 982.9h0M1811.6 975.3h0M1772.3 971h0M1806.3 998.8h0M1878.5 1010.6h0M1855.1 998.3h0M1829.2 990.2h0M1813.8 976.2h0M1850.5 1002.9h0M1856.5 1007.4h0M1847.4 983.1h0M1829.1 1005.6h0M1862.2 1014.5h0M1567.2 948.9h0M1573.2 996.5h0M1571.2 989.9h0M1580.3 1016h0M1579.9 1006.1h0M1549.9 946.7h0M1559.1 936h0M1554.5 974.6h0M1548.6 926h0M1540.3 1006h0M1815.8 673.4h0M1734.1 712.2h0M1681.5 748.9h0M1685.4 772.2h0M1607.5 1002.6h0M1765.2 1008.4h0M1858.7 880.6h0M1716.5 789.6h0M1761.3 805.1h0M1652.3 812.8h0M1745.8 840.3h0M1734.8 967.9h0M1757 833.6h0M1790.2 951.4h0M1793.8 950.4h0M1714.5 925.3h0M1786 929.2h0M1703.6 896h0M1753.4 977.4h0M1752.6 973.4h0M1795.6 922.1h0M1754 975.6h0M1723.3 945.6h0M1770 875.7h0M1705.6 839.2h0M1710.3 940.5h0M1796.9 935.8h0M1758.4 842.3h0M1744.7 969.3h0M1793.3 928.4h0M1769.9 863.5h0M1757.7 841.3h0M1695 872.5h0M1805 955.5h0M1759.6 841.5h0M1775.9 888.2h0M1771.1 883.1h0M1756.2 836.9h0M1771.1 839.5h0M1754.2 845.6h0M1771.9 850.8h0M1708.8 939.3h0M1691.5 868h0M1780.2 961.8h0M1714.8 916.1h0M1789.3 939.2h0M1756 970.1h0M1784.8 895.8h0M1740.5 967.6h0M1770.9 862.7h0M1778.8 874.1h0M1782.1 877.3h0M1776.2 975.4h0M1773.5 977.2h0M1744.8 967.9h0M1695.1 896.4h0M1722.2 959.8h0M1707.8 903.7h0M1770.6 855.7h0M1741.2 962.6h0M1792.9 938.1h0M1749.4 832.4h0M1764.1 849.5h0M1687.7 894.1h0M1740.7 969.6h0M1743 836.5h0M1762.5 842.8h0M1789.3 968.4h0M1723.7 965.6h0M1703 918.6h0M1776 857.4h0M1724.8 946.8h0M1783.2 905.3h0M1789.7 933.9h0M1707.2 838.1h0M1724.4 952.3h0M1722.1 945.8h0M1734.8 967.3h0M1760 831.9h0M1797.2 954.6h0M1774.7 861.7h0M1734.6 968.1h0M1754.6 976.4h0M1768.7 867.8h0M1730.2 952.9h0M1748.9 975.3h0M1754.1 845.5h0M1759.7 971.3h0M1752.8 843.1h0M1756.6 833.2h0M1795.1 904h0M1702.3 838.3h0M1789.1 936.1h0M1762.2 837.1h0M1731.6 958.8h0M1688.4 885.3h0M1701.3 841.2h0M1698.3 864.4h0M1717.8 944.6h0M1737.7 845.3h0M1784.7 906.4h0M1773.8 856.7h0M1797.9 907.7h0M1707.8 834.2h0M1710.6 833h0M1733.4 978h0M1741.1 970.6h0M1763.4 969.2h0M1694 867.1h0M1707.9 896.6h0M1792.8 918.5h0M1770.4 873.1h0M1787 924.6h0M1694 863.2h0M1724.5 954.4h0M1776.6 966h0M1761.3 849.5h0M1694.6 849.7h0M1708.1 926.4h0M1690.5 858.7h0M1787.7 920.1h0M1705.3 841.9h0M1718.8 955.4h0M1694.6 877h0M1768.9 851.4h0M1695.2 849h0M1792.5 963.3h0M1801.2 924.7h0M1777.2 872.8h0M1755.8 841.4h0M1702.2 898h0M1704.1 897.1h0M1783.7 895.1h0M1789.1 941.7h0M1767.1 856.1h0M1770.1 863.3h0M1735.2 969.4h0M1686.7 856.4h0M1706.3 834.3h0M1694.5 891.4h0M1694 869.2h0M1712.8 942h0M1708.1 903h0M1778.6 892.3h0M1793.9 968h0M1706.9 840h0M1772.5 963.5h0M1791.4 898.1h0M1730.4 833.4h0M1770.3 975.6h0M1768.4 880h0M1784.5 896h0M1701.2 891.3h0M1795.3 916.3h0M1726.5 844.9h0M1752.3 839.8h0M1778.4 887.5h0M1687.8 871.9h0M1739.5 833h0M1692 873h0M1786.5 967.4h0M1782.3 970.4h0M1765.6 854.3h0M1699.7 840.1h0M1777.3 888.6h0M1696.2 877h0M1733.3 968.1h0M1699.9 890.9h0M1746 968.2h0M1780 887.3h0M1709.3 925.8h0M1765.4 971.9h0M1705 897.3h0M1705.4 918.5h0M1767.4 965.7h0M1689.4 874.2h0M1778.2 880.8h0M1758.2 969.4h0M1721.5 955.9h0M1771.1 864h0M1777.6 856.2h0M1696.4 872h0M1747 966.6h0" stroke="#8c8c8c" stroke-width="7" stroke-linecap="round" fill="none" stroke-opacity="0.42"/>
<path d="M1699.9 840.7 L1755.2 840.7 L1766.7 846.5 L1772.5 854.6 L1774.8 866.1 L1773.6 877.6 L1790 910 L1795 960 L1770.2 970.9 L1761 973.2 L1749.4 972.1 L1737.9 967.5 L1727.6 958.2 L1718.3 946.7 L1713.7 935.2 L1709.1 917.9 L1704.5 900.6 L1690.7 877.6 L1691.8 871.8 L1695.3 854.6 z" fill="#8e8e8e" stroke="#8e8e8e" stroke-width="4" stroke-linejoin="round"/>
<path d="M1758.7 877.6 L1784 877.6 L1793.2 889.1 L1801.3 906.4 L1804.7 917.9 L1805.9 935.2 L1804.7 946.7 L1803.6 969.8 L1793.2 975.5 L1784 980.1 L1778.2 973.2 L1770.2 958.2 L1761 946.7 L1758.7 941 z" fill="#1414f6" stroke="#1414f6" stroke-width="4" stroke-linejoin="round"/>
<path d="M1758.8 901.5h0M1807.7 970.5h0M1780 979.4h0M1796.6 902.2h0M1804 925.8h0M1786.7 976.3h0M1800.8 907.5h0M1807.9 918.2h0M1795.6 904h0M1758.9 900.7h0M1796.4 898.8h0M1757.6 941h0M1779.8 974.2h0M1810.8 935h0M1801.8 895.1h0M1807.3 956.1h0M1780.6 982.7h0M1806.8 957.4h0M1757.6 921.1h0M1802.7 914.5h0M1813.6 944.4h0M1796.9 886.2h0M1761 907.2h0M1807.7 963.5h0M1800.7 921.3h0M1804.4 909.7h0M1788.7 884.7h0M1802.4 913h0M1796.8 895.1h0M1789.1 887.4h0M1799.8 954.1h0M1800.2 942.1h0M1799.9 950h0M1773.9 966h0M1776.5 972.8h0M1787.6 888h0M1794.6 898.1h0M1775.2 976.2h0M1768.2 960.7h0M1778.6 969.4h0M1761.3 951.9h0M1758.6 904.6h0M1787.1 975.5h0M1796.3 895.1h0M1788.2 980.7h0M1795.9 970.2h0M1771.6 954.7h0M1777.2 972.7h0M1800.1 904.5h0M1803.7 925.1h0M1761.6 915h0M1808.3 942.2h0M1804.8 945h0M1823.8 995.2h0M1822.4 964.1h0M1791.2 902h0M1796.9 920h0M1822.1 927.4h0M1821.9 948.5h0M1791.3 905.1h0M1821.6 944.8h0M1825.9 971.3h0M1822.4 939.9h0M1813.8 959.5h0M1819.2 964.1h0M1829.9 952.4h0M1798.3 909.2h0M1802.4 919.3h0M1821.7 909.6h0M1850.9 956.1h0M1878.1 994.8h0M1806.1 996.8h0M1848.9 971.6h0" stroke="#0000ff" stroke-width="7" stroke-linecap="round" fill="none" stroke-opacity="0.45"/>
<path d="M1804.3 947.9h0M1760.8 882.1h0M1809.6 962h0M1767.7 947.3h0M1805.1 900.4h0M1804.8 945h0M1786.5 979.1h0M1758.1 950.5h0M1799.8 969h0M1807 922.4h0M1804.7 932.2h0M1757.7 932.7h0M1798.5 910.3h0M1812.1 946.8h0M1775.9 972.9h0M1759.3 929.6h0M1769 964.2h0M1800.8 943.2h0M1805.9 913.1h0M1759.4 914.1h0M1801.7 957.3h0M1806 910.6h0M1780.5 967.6h0M1782 983.2h0M1792.6 887.5h0M1770.9 964.5h0M1760.9 935.6h0M1802.3 901h0M1790.3 884.8h0M1781.9 973.7h0M1758.4 952.8h0M1758.4 882.7h0M1807.1 900.9h0M1805.7 935.4h0M1780.9 983.1h0M1759.3 887.7h0M1765.2 954.3h0M1760.5 886.3h0M1808.8 951.9h0M1758.5 919.4h0M1809 907.9h0M1782.3 982.2h0M1762.5 911.9h0M1808.2 951.8h0M1804.4 957.1h0M1769.7 953.5h0M1792.2 971.3h0M1810.6 947.9h0M1767.4 965.7h0M1793.2 889.1h0M1787.8 980.2h0M1791.2 975.9h0M1762.8 920.8h0M1808.8 945.9h0M1807.4 878.9h0M1828.3 937.1h0M1797.3 902.2h0M1853 972.9h0M1826 925.8h0M1809.8 946.5h0M1807.5 904.9h0M1789.9 894.5h0M1824.5 974.5h0M1797.5 901h0M1805.1 908.4h0M1813 936h0M1829 996.4h0M1819.5 941.5h0M1835.3 927.1h0M1856.7 903.8h0M1903.4 1029.7h0M1825.6 1010.3h0M1825.6 903.8h0" stroke="#0000ff" stroke-width="7" stroke-linecap="round" fill="none" stroke-opacity="0.45"/>
<path d="M1790.3 882.2h0M1810.6 909h0M1757.9 951.2h0M1789 887.5h0M1798 909.1h0M1806 913.4h0M1760.9 908.2h0M1768.8 955.2h0M1806.2 896.4h0M1781.3 982.1h0M1761.7 885.3h0M1793.6 884.8h0M1773.7 956.9h0M1808.6 928.7h0M1802.2 960.8h0M1768.1 956.1h0M1800.8 890h0M1792.9 896.5h0M1800 949.7h0M1784.4 884.4h0M1782.7 983.3h0M1799.9 962.4h0M1761 895.8h0M1776 964.2h0M1758.7 899.3h0M1802.9 959.6h0M1774.1 958.7h0M1803.5 917.3h0M1798.7 979h0M1804.7 958.5h0M1786 983.6h0M1762.8 934.1h0M1808 955h0M1798.3 895.9h0M1797.3 969.2h0M1761.6 894.4h0M1807.9 928.9h0M1800.8 890.9h0M1772.5 967.8h0M1803 960.6h0M1766.9 946.3h0M1772.7 964h0M1797 968.8h0M1767.7 969.7h0M1763.6 919.4h0M1804.6 935.5h0M1810.7 934h0M1800.9 978.6h0M1762.2 916.8h0M1801.8 896.8h0M1767.1 949.6h0M1789.7 978.5h0M1801.3 895.1h0M1800.8 889.7h0M1802 910.4h0M1800.4 914.2h0M1794 922.7h0M1809.4 943h0M1812.3 943.8h0M1795.1 890.9h0M1822.5 961h0M1834.6 952.4h0M1807.3 950.3h0M1807 925h0M1855.6 996.7h0M1803.7 922.5h0M1825.9 973.2h0M1815.8 896.1h0M1829.5 940.6h0M1862.6 1000.6h0M1848.9 983.2h0M1839.2 1016.1h0M1850.9 969.7h0" stroke="#0000ff" stroke-width="7" stroke-linecap="round" fill="none" stroke-opacity="0.45"/>
<path d="M1685.5 878.5 L1717.5 878.5 L1717.5 907 L1713.7 909 L1709.1 900.6 L1695.3 889.1 z" fill="#1c8a1c" stroke="#1c8a1c" stroke-width="3" stroke-linejoin="round"/>
<path d="M1688.5 885.7h0M1682 881.7h0M1692.1 883.9h0M1705.5 897h0M1708.4 908.3h0M1711.2 907.3h0M1711 904.8h0M1704.7 896.4h0M1623.1 878.7h0M1650.3 913.5h0M1667.9 921.3h0M1706.8 944.5h0M1704.8 919.3h0M1679.5 896.1h0M1685.4 903.8h0M1712.6 927.1h0M1656.2 896.1h0M1699 903.8h0" stroke="#228b22" stroke-width="7" stroke-linecap="round" fill="none" stroke-opacity="0.5"/>
<path d="M1700.1 895.1h0M1696 893h0M1698.4 892.8h0M1704.2 893.5h0M1703 901.1h0M1710.7 909.2h0M1698.3 893.3h0M1712.9 909.4h0M1644.5 909.6h0M1660.1 898h0M1673.7 909.6h0M1708.7 929h0M1660.1 917.4h0M1671.7 888.3h0M1695.1 915.4h0M1710.7 938.7h0M1681.5 917.4h0" stroke="#228b22" stroke-width="7" stroke-linecap="round" fill="none" stroke-opacity="0.5"/>
<path d="M1584.1 710.2h0M1619.2 760.6h0M1652.3 836.1h0M1704.8 839.9h0M1713.6 839.9h0" stroke="#ffa500" stroke-width="7" stroke-linecap="round" fill="none" stroke-opacity="0.55"/>
<path d="M1767.2 834.1h0" stroke="#e8242c" stroke-width="7" stroke-linecap="round" fill="none" stroke-opacity="0.6"/>
<line x1="1716.4" y1="627.8" x2="1716.4" y2="1091" stroke="#c4c4c4" stroke-width="1.6" stroke-dasharray="6 4"/>
<line x1="1755.6" y1="627.8" x2="1755.6" y2="1091" stroke="#c4c4c4" stroke-width="1.6" stroke-dasharray="6 4"/>
<line x1="1483.3" y1="839.7" x2="1989" y2="839.7" stroke="#c4c4c4" stroke-width="1.6" stroke-dasharray="6 4"/>
<line x1="1483.3" y1="878.9" x2="1989" y2="878.9" stroke="#c4c4c4" stroke-width="1.6" stroke-dasharray="6 4"/>
<rect x="1483.3" y="627.8" width="505.7" height="463.2" fill="none" stroke="#555" stroke-width="1.6"/>
<line x1="1476.3" y1="665.7" x2="1483.3" y2="665.7" stroke="#555" stroke-width="1.5" />
<text x="1470.8" y="683.7" font-size="45" text-anchor="end" textLength="42" lengthAdjust="spacingAndGlyphs">10</text>
<line x1="1476.3" y1="762.5" x2="1483.3" y2="762.5" stroke="#555" stroke-width="1.5" />
<text x="1470.8" y="780.5" font-size="45" text-anchor="end" textLength="21" lengthAdjust="spacingAndGlyphs">5</text>
<line x1="1476.3" y1="859.3" x2="1483.3" y2="859.3" stroke="#555" stroke-width="1.5" />
<text x="1470.8" y="877.3" font-size="45" text-anchor="end" textLength="21" lengthAdjust="spacingAndGlyphs">0</text>
<line x1="1476.3" y1="956.1" x2="1483.3" y2="956.1" stroke="#555" stroke-width="1.5" />
<text x="1470.8" y="974.1" font-size="45" text-anchor="end" textLength="36" lengthAdjust="spacingAndGlyphs">-5</text>
<line x1="1476.3" y1="1052.9" x2="1483.3" y2="1052.9" stroke="#555" stroke-width="1.5" />
<text x="1470.8" y="1070.9" font-size="45" text-anchor="end" textLength="58.5" lengthAdjust="spacingAndGlyphs">-10</text>
<line x1="1541.3" y1="1091" x2="1541.3" y2="1098" stroke="#555" stroke-width="1.5" />
<text x="1541.4" y="1134.9" font-size="45" text-anchor="middle" textLength="60" lengthAdjust="spacingAndGlyphs">-10</text>
<line x1="1638.7" y1="1091" x2="1638.7" y2="1098" stroke="#555" stroke-width="1.5" />
<text x="1641.4" y="1134.9" font-size="45" text-anchor="middle" textLength="36.5" lengthAdjust="spacingAndGlyphs">-5</text>
<line x1="1736" y1="1091" x2="1736" y2="1098" stroke="#555" stroke-width="1.5" />
<text x="1745" y="1134.9" font-size="45" text-anchor="middle" textLength="21" lengthAdjust="spacingAndGlyphs">0</text>
<line x1="1833.3" y1="1091" x2="1833.3" y2="1098" stroke="#555" stroke-width="1.5" />
<text x="1842.4" y="1134.9" font-size="45" text-anchor="middle" textLength="21" lengthAdjust="spacingAndGlyphs">5</text>
<line x1="1930.7" y1="1091" x2="1930.7" y2="1098" stroke="#555" stroke-width="1.5" />
<text x="1940" y="1134.9" font-size="45" text-anchor="middle" textLength="44" lengthAdjust="spacingAndGlyphs">10</text>
<text x="1586" y="1176.9" font-size="43" textLength="316" lengthAdjust="spacingAndGlyphs">log<tspan font-size="28" dy="9">2</tspan><tspan dy="-9">MII (KO/WT)</tspan></text>
<text x="1413.7" y="1036" font-size="42" textLength="326" lengthAdjust="spacingAndGlyphs" transform="rotate(-90 1413.7 1036)">log<tspan font-size="28" dy="9">2</tspan><tspan dy="-9">WT (MII/GV)</tspan></text>
<text x="1511" y="679" font-size="34.5" fill="#f5a733" textLength="18.5" lengthAdjust="spacingAndGlyphs">8</text>
<text x="1924" y="679" font-size="34.5" fill="#d3505f" textLength="15" lengthAdjust="spacingAndGlyphs">1</text>
<text x="1503" y="1043" font-size="34.5" fill="#2a8a2a" textLength="36" lengthAdjust="spacingAndGlyphs">75</text>
<text x="1974" y="1019" font-size="34.5" text-anchor="end" fill="#2a5ea8" textLength="75" lengthAdjust="spacingAndGlyphs">(649)</text>
<text x="1974" y="1049" font-size="23" text-anchor="end" fill="#2a5ea8" textLength="132.3" lengthAdjust="spacingAndGlyphs">upregulated</text>
<text x="1974" y="1079.4" font-size="23" text-anchor="end" fill="#2a5ea8" textLength="127.2" lengthAdjust="spacingAndGlyphs">destablized</text>
<text x="8.8" y="1912.7" font-size="50" font-weight="bold">i</text>
<path d="M184 2050Q186 2032.5 187 2015M238.4 1996.1Q235.8 2033.8 204.5 2054.9M208.8 1985.2Q228.6 2010.6 225.3 2042.7M223.9 1960.1Q208.9 1968.2 208.8 1985.2M208.8 1985.2Q205.9 2006.3 206.2 2027.6M191.2 1979.5Q186.1 1952.6 161.4 1941M238.4 1996.1Q239 2035.6 204.5 2054.9M184 2050Q193.3 2056.3 204.5 2054.9M206.2 2027.6Q184.1 2013.1 173.5 1988.9M238.4 1996.1Q216.7 2022.7 204.5 2054.9M206.2 2027.6Q199.4 2000.2 173.5 1988.9M173.5 1988.9Q186.6 1998.7 187 2015M173.5 1988.9Q154.5 1968.2 161.4 1941M184 2050Q222.2 2049.8 248.2 2077.7M184 2050Q208.8 2080.8 248.2 2077.7M238.8 2023Q248.6 2049.5 248.2 2077.7M208.8 1985.2Q193.6 1996.9 187 2015M219.3 2010.8Q204.7 2033.1 184 2050M206.2 2027.6Q180.2 2030.7 163.2 2010.8M184 2050Q202.7 2035.3 225.3 2042.7M208.8 1985.2Q203.3 1955.4 197.3 1925.7M208.8 1985.2Q186.3 2013.7 184 2050M208.8 1985.2Q178.8 1969.9 161.4 1941M208.8 1985.2Q215.5 1972.2 223.9 1960.1M161.4 1941Q182.7 1955.3 191.2 1979.5M225.3 2042.7Q189.7 2035.5 163.2 2010.8M184 2050Q206 2054 225.3 2042.7M163.2 2010.8Q200.6 2014.5 225.3 2042.7M165.6 2034Q165.5 2010.7 173.5 1988.9M238.8 2023Q206.5 2010.6 191.2 1979.5M197.3 1925.7Q181.7 1951.2 191.2 1979.5M173.5 1988.9Q176.9 1962.6 161.4 1941M187 2015Q217.7 2019.3 238.4 1996.1M225.3 2042.7Q218 2013.7 208.8 1985.2M219.3 2010.8Q217.2 1996.7 208.8 1985.2M248.2 2077.7Q230 2059.4 204.5 2054.9M163.2 2010.8Q191.2 1999.1 219.3 2010.8M187 2015Q206.5 2028.4 225.3 2042.7M238.4 1996.1Q210.5 1999.5 187 2015M204.5 2054.9Q206.1 2041.3 206.2 2027.6M206.2 2027.6Q226.9 2052.9 248.2 2077.7M161.4 1941Q181 1961.5 173.5 1988.9M165.6 2034Q195.4 2029.2 219.3 2010.8M204.5 2054.9Q220.3 2037.4 238.8 2023M238.4 1996.1Q216.3 1983.4 191.2 1979.5M206.2 2027.6Q184.8 2023.6 165.6 2034M173.5 1988.9Q169.4 1964.5 161.4 1941M206.2 2027.6Q207.4 2006.4 208.8 1985.2M163.2 2010.8Q171.5 2001.4 173.5 1988.9M206.2 2027.6Q187.5 2040.9 165.6 2034M184 2050Q192.8 2017 173.5 1988.9M165.6 2034Q176.8 2039.7 184 2050M238.4 1996.1Q208.1 1973.2 173.5 1988.9M191.2 1979.5Q182.6 1996.5 187 2015M197.3 1925.7Q210.5 1954 208.8 1985.2M165.6 2034Q172.7 2020.5 187 2015M197.3 1925.7Q195.1 1952.7 191.2 1979.5M165.6 2034Q139 2019.5 119.2 1996.6M238.4 1996.1Q235.9 2009.6 238.8 2023M163.2 2010.8Q170.4 2032.1 184 2050M206.2 2027.6Q198.6 1989.5 223.9 1960.1M197.3 1925.7Q179.2 1933 161.4 1941M225.3 2042.7Q246.4 2053.9 248.2 2077.7M206.2 2027.6Q189.4 2033.1 184 2050M184 2050Q224.3 2044.8 248.2 2077.7M208.8 1985.2Q184.8 2007.4 165.6 2034M248.2 2077.7Q224.7 2069.6 204.5 2054.9M223.9 1960.1Q204.6 1964.8 191.2 1979.5M238.8 2023Q226.2 2021.5 219.3 2010.8M204.5 2054.9Q193.6 2055.1 184 2050M187 2015Q173.8 2021.7 165.6 2034M165.6 2034Q181.1 2051.7 204.5 2054.9M223.9 1960.1Q225 1985.8 219.3 2010.8M238.8 2023Q222.8 2027.7 206.2 2027.6M208.8 1985.2Q206.7 2021.5 184 2050M248.2 2077.7Q236.4 2045 206.2 2027.6M238.4 1996.1Q222.6 1993.4 208.8 1985.2M238.8 2023Q243.2 1988.7 223.9 1960.1M206.2 2027.6Q220.5 1995.3 223.9 1960.1M219.3 2010.8Q197.4 1997.7 173.5 1988.9M206.2 2027.6Q231.7 2021.4 238.4 1996.1M238.4 1996.1Q224.2 1989.1 208.8 1985.2M173.5 1988.9Q169.3 2021.1 184 2050M204.5 2054.9Q192.9 2058.1 184 2050M238.4 1996.1Q225.6 1985.2 208.8 1985.2M238.8 2023Q214.8 2006.4 187 2015M161.4 1941Q143 1976.4 163.2 2010.8M187 2015Q198.7 1983 223.9 1960.1M187 2015Q205 2030.9 204.5 2054.9M225.3 2042.7Q236.9 2060.1 248.2 2077.7M187 2015Q203 2033.2 225.3 2042.7M248.2 2077.7Q230.2 2064.5 225.3 2042.7M173.5 1988.9Q146.1 1991 119.2 1996.6M165.6 2034Q190.3 2034.7 204.5 2054.9M184 2050Q208.2 2082.2 248.2 2077.7M204.5 2054.9Q214.3 2047.8 225.3 2042.7M187 2015Q175.5 2031.6 184 2050M225.3 2042.7Q226.8 2066.7 248.2 2077.7M163.2 2010.8Q189.5 2004.2 208.8 1985.2M219.3 2010.8Q192.6 2022.2 184 2050M238.8 2023Q223.6 2032.9 206.2 2027.6M219.3 2010.8Q196.8 2032.4 165.6 2034M238.8 2023Q222.5 2025.4 206.2 2027.6M225.3 2042.7Q203.3 2038.6 184 2050M191.2 1979.5Q201.8 1960.1 223.9 1960.1M248.2 2077.7Q218.7 2057.7 184 2050M204.5 2054.9Q198.8 2028.5 219.3 2010.8M191.2 1979.5Q198.9 1985.8 208.8 1985.2M161.4 1941Q181.5 1938.5 197.3 1925.7M163.2 2010.8Q175.4 2011 187 2015M267.2 1932.1Q283.8 1949.8 300.4 1967.5M267.2 1932.1Q282.4 1951.1 300.4 1967.5M267.2 1932.1Q243.2 1959.8 238.4 1996.1M300.4 1967.5Q272.8 1989.2 238.4 1996.1M322 2201.8Q343.5 2196.2 365.6 2195M288.4 2164.4Q315.6 2181.8 345 2195.2M308 2158Q296.9 2140 293.5 2119.2M345 2195.2Q314.4 2184 288.4 2164.4M293 2201.8Q332.1 2199.5 350 2164.7M330.4 2152.9Q311.6 2177.3 293 2201.8M345 2195.2Q355.3 2191.4 365.6 2195M322 2201.8Q333 2196.9 345 2195.2M293 2201.8Q298.1 2182.2 288.4 2164.4M329.9 2171.7Q321.8 2160.2 308 2158M350 2164.7Q343.3 2153.7 330.4 2152.9M365.6 2195Q354.9 2181.3 350 2164.7M330.4 2152.9Q316.4 2131.2 293.5 2119.2M322 2201.8Q307.5 2195.6 293 2201.8M350 2164.7Q338 2162.7 329.9 2171.7M306.6 2182.6Q327.8 2172.5 350 2164.7M288.4 2164.4Q296 2175 306.6 2182.6M330.4 2152.9Q350.5 2137.8 371.9 2124.7M330.4 2152.9Q352 2140 371.9 2124.7M288.4 2164.4Q319.3 2154.1 350 2164.7M306.6 2182.6Q325.4 2190.1 345 2195.2M293.5 2119.2Q312.2 2145.1 329.9 2171.7M324.3 2115.2Q321.1 2135.1 330.4 2152.9M350 2164.7Q331.9 2182.5 306.6 2182.6M255.8 2129.9Q285.9 2136.5 308 2158M322 2201.8Q328.6 2177.7 350 2164.7M293 2201.8Q288.2 2183.6 270 2178.6M270 2178.6Q288.4 2167.2 308 2158M365.6 2195Q335.7 2190.9 306.6 2182.6M329.9 2171.7Q315.7 2171.7 306.6 2182.6M322 2201.8Q333.2 2178.6 330.4 2152.9M293.5 2119.2Q298.2 2142.6 288.4 2164.4M330.4 2152.9Q320.4 2160.7 308 2158M350 2164.7Q339.6 2167.2 329.9 2171.7M306.6 2182.6Q320.4 2181.7 329.9 2171.7M371.9 2124.7Q343.6 2127.8 330.4 2152.9M270 2178.6Q281.5 2174.5 288.4 2164.4M293.5 2119.2Q300.5 2150.8 306.6 2182.6M330.4 2152.9Q310.5 2162.7 288.4 2164.4M306.6 2182.6Q325.4 2166.6 350 2164.7M308 2158Q317.8 2179 322 2201.8M329.9 2171.7Q322.6 2159 308 2158M350 2164.7Q357.2 2142.6 371.9 2124.7M345 2195.2Q355.3 2190.6 365.6 2195M345 2195.2Q318 2185.1 308 2158M330.4 2152.9Q360.3 2163.7 365.6 2195M288.4 2164.4Q308.8 2156.4 330.4 2152.9M270 2178.6Q281.7 2174.7 288.4 2164.4M365.6 2195Q347.4 2174.5 330.4 2152.9M329.9 2171.7Q337.9 2162.2 350 2164.7M306.6 2182.6Q325.9 2167.8 350 2164.7M329.9 2171.7Q308.3 2182.9 293 2201.8M308 2158Q318.5 2152.2 330.4 2152.9M293.5 2119.2Q298.8 2151.2 306.6 2182.6M322 2201.8Q328 2187.3 329.9 2171.7M293.5 2119.2Q315.4 2147.7 306.6 2182.6M329.9 2171.7Q324.9 2136.3 293.5 2119.2M306.6 2182.6Q328.7 2174.7 350 2164.7M330.4 2152.9Q310.7 2163.4 288.4 2164.4M329.9 2171.7Q328.2 2143.3 324.3 2115.2M293.5 2119.2Q303.1 2137.7 308 2158M306.6 2182.6Q329.3 2178.2 345 2195.2M345 2195.2Q355.3 2200.2 365.6 2195M322 2201.8Q309.1 2196.4 306.6 2182.6M270 2178.6Q288.2 2181.3 306.6 2182.6M306.6 2182.6Q318.5 2188.8 322 2201.8M288.4 2164.4Q295.4 2175.6 306.6 2182.6M270 2178.6Q300.1 2181.1 322 2201.8M329.9 2171.7Q321 2161.6 308 2158M308 2158Q280.2 2147 255.8 2129.9M288.4 2164.4Q308.5 2155.4 330.4 2152.9M306.6 2182.6Q303.1 2170.1 308 2158M288.4 2164.4Q280.2 2172.8 270 2178.6M329.9 2171.7Q322.5 2138 293.5 2119.2M350 2164.7Q365.3 2147.1 371.9 2124.7M322 2201.8Q319 2188.5 306.6 2182.6M345 2195.2Q325.8 2163.2 288.4 2164.4M329.9 2171.7Q354.3 2173.3 365.6 2195M293 2201.8Q304.8 2195.7 306.6 2182.6M255.8 2129.9Q262.2 2156.5 288.4 2164.4M365.6 2195Q351.6 2177.4 329.9 2171.7M308 2158Q324.6 2176.8 322 2201.8M288.4 2164.4Q316.3 2173.1 322 2201.8M308 2158Q343 2166.9 365.6 2195M322 2201.8Q327.8 2187.2 329.9 2171.7M322 2201.8Q332 2209.5 336.8 2221.2M346.3 2258.5Q334 2253.1 320.6 2252.9M322 2201.8Q321.2 2214.4 313.4 2224.3M293 2201.8Q309.1 2226.1 320.6 2252.9M322 2201.8Q331.6 2192 345 2195.2M365.6 2195Q356.6 2203.7 356.7 2216.2M322 2201.8Q307.5 2201 293 2201.8M322 2201.8Q307.5 2203.2 293 2201.8M365.6 2195Q343.6 2197.2 322 2201.8M293.6 2220.5Q313 2195.2 345 2195.2M293 2201.8Q307.5 2207.1 322 2201.8M320.6 2252.9Q344.7 2240.5 356.7 2216.2M313.4 2224.3Q321.6 2201.5 345 2195.2M293.6 2220.5Q304.3 2239 320.6 2252.9M320.6 2252.9Q319.4 2232.3 336.8 2221.2M365.6 2195Q342.8 2191.8 322 2201.8M320.6 2252.9Q333.8 2253.9 346.3 2258.5M313.4 2224.3Q319.7 2237.9 320.6 2252.9M313.4 2224.3Q325.9 2228.5 336.8 2221.2M356.7 2216.2Q349.7 2236.9 346.3 2258.5M322 2201.8Q343.2 2194.4 365.6 2195M313.4 2224.3Q323.6 2203.7 345 2195.2M313.4 2224.3Q336.9 2230.1 356.7 2216.2M336.8 2221.2Q317.3 2206.2 293 2201.8M313.4 2224.3Q323.2 2215.2 322 2201.8M345 2195.2Q321.5 2201.4 313.4 2224.3M356.7 2216.2Q338 2212.3 322 2201.8M346.3 2258.5Q336.4 2241.2 336.8 2221.2M322 2201.8Q323.8 2215.4 313.4 2224.3M336.8 2221.2Q336.4 2241 320.6 2252.9M336.8 2221.2Q333.8 2208.1 322 2201.8M293.6 2220.5Q303.4 2222.8 313.4 2224.3M365.6 2195Q345.7 2210.4 322 2201.8M345 2195.2Q317.2 2184.3 293 2201.8M320.6 2252.9Q337.8 2241.7 336.8 2221.2M356.7 2216.2Q338.7 2210.6 322 2201.8M293.6 2220.5Q303.7 2221.4 313.4 2224.3M322 2201.8Q329.6 2211.3 336.8 2221.2M345 2195.2Q325.9 2206.2 313.4 2224.3M345 2195.2Q325 2205.1 313.4 2224.3M293.6 2220.5Q315.2 2221.7 336.8 2221.2M313.4 2224.3Q317.1 2238.6 320.6 2252.9M313.4 2224.3Q344.1 2217.9 365.6 2195M356.7 2216.2Q355.9 2203.4 365.6 2195M293.6 2220.5Q297.6 2211 293 2201.8M313.4 2224.3Q329.4 2241.9 346.3 2258.5M293.6 2220.5Q305 2238.5 320.6 2252.9M345 2195.2Q347 2210.1 336.8 2221.2M293 2201.8Q307.5 2204.5 322 2201.8M365.6 2195Q342 2186.5 322 2201.8M365.6 2195Q350.3 2207.1 336.8 2221.2M322 2201.8Q323.4 2215.2 313.4 2224.3M365.6 2195Q341.8 2185.7 322 2201.8M293 2201.8Q297.5 2218.2 313.4 2224.3M322 2201.8Q334.3 2201.1 345 2195.2M320.6 2252.9Q322 2219.2 293 2201.8M336.8 2221.2Q345.4 2213.2 356.7 2216.2M313.4 2224.3Q297.7 2218 293 2201.8M322 2201.8Q309.2 2227 320.6 2252.9M336.8 2221.2Q328 2236.7 320.6 2252.9M346.3 2258.5Q351 2279.4 339 2297.2M375 2290Q362.1 2272.9 346.3 2258.5M362.5 2322.5Q335.3 2295.3 346.3 2258.5M362.5 2322.5Q338.3 2294.6 346.3 2258.5M339 2297.2Q326.8 2276.3 320.6 2252.9M339 2297.2Q332.6 2276 346.3 2258.5M362.5 2322.5Q342.7 2317.8 325 2328M362.5 2322.5Q335.4 2305.3 304 2298.4M320.6 2252.9Q356.4 2258.8 375 2290M320.6 2252.9Q311.4 2275.3 304 2298.4M325 2328Q359.9 2322 375 2290M320.6 2252.9Q332.3 2260.9 346.3 2258.5M320.6 2252.9Q316.8 2280.5 339 2297.2M320.6 2252.9Q315.6 2276.9 304 2298.4M339 2297.2Q355.3 2285.3 375 2290M304 2298.4Q322.1 2275.2 346.3 2258.5M346.3 2258.5Q352.9 2279.8 339 2297.2M346.3 2258.5Q333.4 2292.6 325 2328M320.6 2252.9Q337.8 2271.7 339 2297.2M320.6 2252.9Q330.5 2274.8 339 2297.2M304 2298.4Q328.3 2322.5 362.5 2322.5M346.3 2258.5Q333.7 2254.3 320.6 2252.9M375 2290Q357.2 2294.8 339 2297.2M362.5 2322.5Q344.7 2331.6 325 2328M375 2290Q354.7 2279.6 346.3 2258.5M362.5 2322.5Q347.1 2292.3 346.3 2258.5M320.6 2252.9Q333 2257.9 346.3 2258.5M325 2328Q323 2308.5 339 2297.2M375 2290Q376.3 2309.2 362.5 2322.5M320.6 2252.9Q332.9 2258.1 346.3 2258.5M304 2298.4Q341.8 2313.5 375 2290M339 2297.2Q340.5 2316.4 325 2328M304 2298.4Q316.4 2277.2 320.6 2252.9M304 2298.4Q316.6 2311.7 325 2328M346.3 2258.5Q332.7 2259.2 320.6 2252.9M362.5 2322.5Q361.6 2303.5 375 2290M339 2297.2Q332.6 2312.9 325 2328M320.6 2252.9Q333.1 2257.4 346.3 2258.5M339 2297.2Q325.3 2276.9 320.6 2252.9M375 2290Q337.9 2280.7 304 2298.4M524.4 1973.2Q515.9 1967.3 515.2 1956.9M468 1950.5Q469 1969.2 459.8 1985.4M515.2 1956.9Q489.5 1970.6 489.3 1999.7M482.6 1968.2Q502.3 1980.6 524.4 1973.2M489.3 1999.7Q498.5 1976 515.2 1956.9M482.6 1968.2Q478.9 1956.3 468 1950.5M468 1950.5Q451.7 1974.3 424 1982.2M524.4 1973.2Q519.6 2000.1 503.7 2022.2M489.3 1999.7Q502.2 2007.3 503.7 2022.2M459.8 1985.4Q489.3 1994.8 503.7 2022.2M515.2 1956.9Q491.8 1952.3 468 1950.5M459.8 1985.4Q472.8 1996.2 489.3 1999.7M524.4 1973.2Q511.5 1996.6 503.7 2022.2M482.6 1968.2Q504.9 1958.7 524.4 1973.2M468 1950.5Q450.7 1972.8 424 1982.2M526.1 1991.4Q529.1 1981.9 524.4 1973.2M524.4 1973.2Q504.7 1960.6 482.6 1968.2M424 1982.2Q452.1 1989.1 465.6 2014.7M465.6 2014.7Q471.8 1990.6 482.6 1968.2M489.3 1999.7Q498.8 2009.5 503.7 2022.2M489.3 1999.7Q500 1976.9 515.2 1956.9M524.4 1973.2Q507.3 1987.1 489.3 1999.7M459.8 1985.4Q461.5 2000.3 465.6 2014.7M468 1950.5Q492.9 1943.9 515.2 1956.9M489.3 1999.7Q485.8 1984 482.6 1968.2M482.6 1968.2Q509.1 1989 503.7 2022.2M503.7 2022.2Q507.9 1989.4 482.6 1968.2M489.3 1999.7Q499.9 1976.9 515.2 1956.9M468 1950.5Q479.4 1974.8 489.3 1999.7M459.8 1985.4Q453.9 1965.6 468 1950.5M468 1950.5Q469.9 1978.9 489.3 1999.7M482.6 1968.2Q501.2 1985.7 526.1 1991.4M503.7 2022.2Q500.1 2008.7 489.3 1999.7M489.3 1999.7Q474.5 2002.5 465.6 2014.7M515.2 1956.9Q499.3 1976.5 489.3 1999.7M526.1 1991.4Q508.9 1971.2 482.6 1968.2M459.8 1985.4Q454.2 2001.7 465.6 2014.7M424 1982.2Q453.7 1977 468 1950.5M489.3 1999.7Q494.8 1982.1 482.6 1968.2M459.8 1985.4Q441.9 1983.3 424 1982.2M482.6 1968.2Q496 1954.1 515.2 1956.9M524.4 1973.2Q503.4 1971.6 482.6 1968.2M424 1982.2Q441.3 1990.3 459.8 1985.4M515.2 1956.9Q524.9 1972.8 526.1 1991.4M515.2 1956.9Q489.8 1970.8 489.3 1999.7M588.6 1977Q583.3 1988.8 571.6 1994.3M583.4 1949.7Q590.9 1962.4 588.6 1977M526.1 1991.4Q549.2 1987.9 571.6 1994.3M549.4 2010.8Q547.6 1985.9 558.6 1963.5M558.6 1963.5Q573 1960.2 583.4 1949.7M583.4 1949.7Q559.6 1950.7 539.8 1937.3M524.4 1973.2Q542.6 1972.3 558.6 1963.5M588.6 1977Q591 1962.4 583.4 1949.7M558.6 1963.5Q538.2 1951.4 515.2 1956.9M515.2 1956.9Q515.8 1967.3 524.4 1973.2M583.4 1949.7Q576 1971.6 571.6 1994.3M526.1 1991.4Q535.4 1969.4 558.6 1963.5M558.6 1963.5Q563.6 1979.5 571.6 1994.3M564.7 1925.2Q558.3 1943.8 558.6 1963.5M526.1 1991.4Q537.9 1972.2 558.6 1963.5M558.6 1963.5Q541.2 1976.1 526.1 1991.4M515.2 1956.9Q536.2 1965 558.6 1963.5M558.6 1963.5Q563.8 1979.4 571.6 1994.3M571.6 1994.3Q575.9 1981.6 588.6 1977M564.7 1925.2Q546.8 1951.8 515.2 1956.9M571.6 1994.3Q548.3 2001 526.1 1991.4M571.6 1994.3Q588.5 1974.9 583.4 1949.7M558.6 1963.5Q557 1943.6 564.7 1925.2M539.8 1937.3Q546.6 1952.3 558.6 1963.5M515.2 1956.9Q532.2 1952.9 539.8 1937.3M571.6 1994.3Q548.5 1997.8 526.1 1991.4M571.6 1994.3Q556.7 1982.5 558.6 1963.5M526.1 1991.4Q527.8 1982.1 524.4 1973.2M588.6 1977Q588 1945.8 564.7 1925.2M558.6 1963.5Q535.8 1967.4 515.2 1956.9M558.6 1963.5Q542.2 1984.9 549.4 2010.8M571.6 1994.3Q582.6 1973.4 583.4 1949.7M539.8 1937.3Q554 1934.8 564.7 1925.2M524.4 1973.2Q526.9 1953 539.8 1937.3M558.6 1963.5Q558.3 1988 549.4 2010.8M526.1 1991.4Q517.2 1975.2 515.2 1956.9M524.4 1973.2Q522.7 1963.4 515.2 1956.9M515.2 1956.9Q518.4 1965.8 524.4 1973.2M539.8 1937.3Q526.5 1945.9 515.2 1956.9M558.6 1963.5Q554.8 1946.3 539.8 1937.3M564.7 1925.2Q555.1 1943.3 558.6 1963.5M588.6 1977Q571.8 1953.3 564.7 1925.2M524.4 1973.2Q521.3 1964.2 515.2 1956.9M549.4 2010.8Q576.2 2002.2 588.6 1977M515.2 1956.9Q536.5 1963 558.6 1963.5M683.2 1946.6Q683.8 1975.2 708 1990.5M662.9 1981.9Q679.6 1956.8 707.8 1946.2M690.8 1972.2Q689.6 2005.4 715.7 2026.1M662.2 1956Q675.5 1965.9 690.8 1972.2M707.8 1946.2Q715.8 1968.3 708 1990.5M667 2005.7Q687.5 1998 708 1990.5M707.8 1946.2Q687.5 1932.5 663.1 1930.5M707.8 1946.2Q695.5 1947.5 683.2 1946.6M662.2 1956Q695.4 1959.6 708 1990.5M707.8 1946.2Q704.5 1932.2 691.9 1925.2M651.5 1997.8Q632.3 1974.1 642.5 1945.3M715.7 2026.1Q705.5 1998.1 690.8 1972.2M667 2005.7Q660.9 1994.5 662.9 1981.9M685.7 1997.1Q671 1994.5 662.9 1981.9M667 2005.7Q683 1991.8 690.8 1972.2M691.9 1925.2Q670.1 1933.9 662.2 1956M690.8 1972.2Q704 1962.3 707.8 1946.2M642.5 1945.3Q648.9 1971.2 651.5 1997.8M662.9 1981.9Q691.4 1983.4 715.8 1968.5M683.2 1946.6Q692.4 1937.9 691.9 1925.2M662.9 1981.9Q658 1995 667 2005.7M662.9 1981.9Q652.6 1971 637.6 1970.4M685.7 1997.1Q689.8 1968.6 707.8 1946.2M707.8 1946.2Q695.6 1950.2 683.2 1946.6M685.7 1997.1Q698.1 1997.9 708 1990.5M637.6 1970.4Q657.6 1955.1 663.1 1930.5M662.2 1956Q672.8 1936.5 691.9 1925.2M651.5 1997.8Q655 1970.2 642.5 1945.3M685.7 1997.1Q694.2 1985.9 690.8 1972.2M691.9 1925.2Q675.2 1938.8 662.2 1956M685.7 1997.1Q672.5 1977.4 662.2 1956M662.9 1981.9Q674.1 1969.2 690.8 1972.2M708 1990.5Q683.6 1987.6 667 2005.7M683.2 1946.6Q704.4 1950.2 715.8 1968.5M683.2 1946.6Q695.5 1945.7 707.8 1946.2M690.8 1972.2Q663.9 1979.4 637.6 1970.4M707.8 1946.2Q717.7 1955.2 715.8 1968.5M715.8 1968.5Q717.8 1981.6 708 1990.5M691.9 1925.2Q685.5 1935.1 683.2 1946.6M691.9 1925.2Q700.9 1934.9 707.8 1946.2M691.9 1925.2Q679.7 1943.2 662.2 1956M685.7 1997.1Q668.5 1994.2 651.5 1997.8M663.1 1930.5Q679 1935.8 691.9 1925.2M683.2 1946.6Q694.7 1964.7 715.8 1968.5M651.5 1997.8Q663.9 1973.9 690.8 1972.2M662.9 1981.9Q655.1 1969.2 662.2 1956M662.2 1956Q684.2 1974.4 708 1990.5M708 1990.5Q698 1997.6 685.7 1997.1M690.8 1972.2Q693 1957.6 683.2 1946.6M683.2 1946.6Q689.1 1972.2 708 1990.5M776.5 1993Q775.8 1969.6 772.8 1946.4M800.4 1973.9Q810.8 1985.3 821.8 1996M798.3 2013.4Q809.6 1994.2 800.4 1973.9M836.6 1975.3Q818.8 1966.2 800.4 1973.9M831.5 1950.4Q821.2 1934.5 804.6 1925.2M800.4 1973.9Q818.6 1972.4 836.6 1975.3M801.9 1944.6Q807.9 1971.8 821.8 1996M821.8 1996Q823 1966 801.9 1944.6M798.3 2013.4Q782.7 1991 764.5 1970.8M831.5 1950.4Q817.4 1971.2 821.8 1996M798.3 2013.4Q825.1 2002 836.6 1975.3M772.8 1946.4Q771.3 1970 776.5 1993M801.9 1944.6Q798.8 1975.4 821.8 1996M764.5 1970.8Q782.3 1956.4 801.9 1944.6M776.5 1993Q786.3 1980.8 800.4 1973.9M821.8 1996Q810.8 1985.2 800.4 1973.9M800.4 1973.9Q814.1 1959.6 831.5 1950.4M801.9 1944.6Q787 1939.8 772.8 1946.4M776.5 1993Q768.7 1970.2 772.8 1946.4M798.3 2013.4Q790.4 1993.2 800.4 1973.9M836.6 1975.3Q822 1999 798.3 2013.4M821.8 1996Q810.7 2005.6 798.3 2013.4M821.8 1996Q815.7 1980.5 800.4 1973.9M798.3 2013.4Q811.2 1994.3 800.4 1973.9M801.9 1944.6Q799.8 1974.4 776.5 1993M798.3 2013.4Q792.1 1993.3 800.4 1973.9M831.5 1950.4Q817 1963.6 800.4 1973.9M772.8 1946.4Q783.7 1963.1 800.4 1973.9M831.5 1950.4Q836.8 1975.3 821.8 1996M831.5 1950.4Q822.4 1970.6 800.4 1973.9M800.4 1973.9Q799.9 1949.3 804.6 1925.2M800.4 1973.9Q782.3 1974.4 764.5 1970.8M764.5 1970.8Q779.4 1993.7 798.3 2013.4M801.9 1944.6Q808.6 1971.6 821.8 1996M821.8 1996Q800 1981.3 776.5 1993M800.4 1973.9Q798.5 1959.1 801.9 1944.6M804.6 1925.2Q820.2 1935.5 831.5 1950.4M798.3 2013.4Q782.7 1991.1 764.5 1970.8M831.5 1950.4Q835.3 1962.6 836.6 1975.3M836.6 1975.3Q831.8 1987.5 821.8 1996M800.4 1973.9Q792 1987.9 776.5 1993M764.5 1970.8Q781.8 1979.6 800.4 1973.9M831.5 1950.4Q802.9 1936.9 772.8 1946.4M831.5 1950.4Q817.5 1964.2 800.4 1973.9M821.8 1996Q811.7 1984.4 800.4 1973.9M248.2 2077.7Q238.5 2059.1 225.3 2042.7M248.2 2077.7Q266.7 2103 293.5 2119.2M248.2 2077.7Q257.2 2103 255.8 2129.9M248.2 2077.7Q264 2123.1 288.4 2164.4" stroke="#8e6bbf" stroke-opacity="0.45" stroke-width="1.4" fill="none"/>
<path d="M223.9 1960.1Q216.2 1989.6 201 2016M191.2 1979.5Q192.9 1998.6 201 2016M208.8 1985.2Q207.1 2001.1 201 2016M173.5 1988.9Q184.5 2005.2 201 2016M238.4 1996.1Q219.8 2006.2 201 2016M163.2 2010.8Q182 2014.4 201 2016M187 2015Q193.9 2016.4 201 2016M219.3 2010.8Q210.1 2013.3 201 2016M238.8 2023Q219.6 2021.3 201 2016M206.2 2027.6Q202.7 2022.2 201 2016M165.6 2034Q181.5 2021.4 201 2016M225.3 2042.7Q214.7 2028 201 2016M184 2050Q192 2032.8 201 2016M204.5 2054.9Q199.6 2035.7 201 2016M308 2158Q311.8 2176.6 323 2192M330.4 2152.9Q330.1 2173.1 323 2192M288.4 2164.4Q304.1 2180.2 323 2192M350 2164.7Q336.6 2178.4 323 2192M329.9 2171.7Q324.2 2181.1 323 2192M270 2178.6Q295 2191.1 323 2192M306.6 2182.6Q314.8 2187.4 323 2192M293 2201.8Q308.6 2198.8 323 2192M322 2201.8Q322.9 2196.9 323 2192M345 2195.2Q333.8 2194.9 323 2192M365.6 2195Q344 2198 323 2192M293 2201.8Q308.2 2215.6 323 2230M322 2201.8Q319.6 2216 323 2230M345 2195.2Q335.3 2213.4 323 2230M365.6 2195Q347.9 2216.9 323 2230M293.6 2220.5Q308.4 2224.9 323 2230M313.4 2224.3Q318.1 2227.4 323 2230M336.8 2221.2Q329.3 2224.6 323 2230M356.7 2216.2Q340.3 2224.2 323 2230M320.6 2252.9Q321.9 2241.5 323 2230M346.3 2258.5Q337.3 2242.1 323 2230M304 2298.4Q315.1 2286.5 330 2280M339 2297.2Q333.8 2288.9 330 2280M375 2290Q352.5 2284.8 330 2280M325 2328Q328.5 2304.1 330 2280M362.5 2322.5Q344.7 2302.5 330 2280M320.6 2252.9Q323.9 2266.9 330 2280M346.3 2258.5Q337.3 2268.6 330 2280M459.8 1985.4Q477.4 1987.2 495 1986M468 1950.5Q482.6 1967.4 495 1986M482.6 1968.2Q488.5 1977.3 495 1986M489.3 1999.7Q493.7 1993.5 495 1986M465.6 2014.7Q478.9 1999 495 1986M503.7 2022.2Q497.2 2004.6 495 1986M515.2 1956.9Q506.1 1972.2 495 1986M524.4 1973.2Q510.6 1981.6 495 1986M526.1 1991.4Q510 1992 495 1986M515.2 1956.9Q532.4 1960.7 548 1969M524.4 1973.2Q535.8 1968.6 548 1969M526.1 1991.4Q536.3 1979.4 548 1969M539.8 1937.3Q544.2 1953.1 548 1969M564.7 1925.2Q559.3 1948.2 548 1969M558.6 1963.5Q553 1965.8 548 1969M583.4 1949.7Q567 1961.8 548 1969M588.6 1977Q568.5 1972 548 1969M571.6 1994.3Q559 1982.4 548 1969M549.4 2010.8Q551.4 1989.8 548 1969M663.1 1930.5Q668 1949.7 676.7 1967.4M691.9 1925.2Q683.7 1946.1 676.7 1967.4M642.5 1945.3Q657.9 1958.9 676.7 1967.4M683.2 1946.6Q679.3 1956.8 676.7 1967.4M707.8 1946.2Q692.3 1956.9 676.7 1967.4M662.2 1956Q669.5 1961.6 676.7 1967.4M637.6 1970.4Q657.2 1970.2 676.7 1967.4M690.8 1972.2Q683.4 1970.8 676.7 1967.4M715.8 1968.5Q696.2 1969.1 676.7 1967.4M708 1990.5Q690.3 1981.7 676.7 1967.4M651.5 1997.8Q662.3 1981.1 676.7 1967.4M662.9 1981.9Q670.5 1975.4 676.7 1967.4M685.7 1997.1Q684.4 1981.3 676.7 1967.4M667 2005.7Q675.1 1987.4 676.7 1967.4M804.6 1925.2Q804.5 1947.6 798 1969M801.9 1944.6Q802 1957.1 798 1969M772.8 1946.4Q783.1 1960.3 798 1969M831.5 1950.4Q814.9 1960 798 1969M764.5 1970.8Q781.2 1969.6 798 1969M800.4 1973.9Q799.3 1971.4 798 1969M836.6 1975.3Q817.8 1969 798 1969M776.5 1993Q787.1 1980.8 798 1969M821.8 1996Q812 1980.7 798 1969M798.3 2013.4Q800.3 1991.2 798 1969M248.2 2077.7Q239.1 2063.8 230 2050M248.2 2077.7Q267.5 2123 300 2160" stroke="#5a2a92" stroke-width="2.2" fill="none"/>
<circle cx="197.3" cy="1925.7" r="2" fill="#8aa0b0" stroke="#1f6fa5" stroke-width="0.8"/>
<circle cx="161.4" cy="1941" r="2.5" fill="#8aa0b0" stroke="#1f6fa5" stroke-width="0.8"/>
<circle cx="223.9" cy="1960.1" r="3.7" fill="#999999" stroke="#1f6fa5" stroke-width="1.1"/>
<circle cx="191.2" cy="1979.5" r="6" fill="#999999" stroke="#1f6fa5" stroke-width="1.1"/>
<circle cx="208.8" cy="1985.2" r="6.3" fill="#999999" stroke="#1f6fa5" stroke-width="1.1"/>
<circle cx="173.5" cy="1988.9" r="4.2" fill="#999999" stroke="#1f6fa5" stroke-width="1.1"/>
<circle cx="119.2" cy="1996.6" r="2" fill="#5b9bd5" stroke="#1f6fa5" stroke-width="0.8"/>
<circle cx="238.4" cy="1996.1" r="5.2" fill="#4daf4a" stroke="#1f6fa5" stroke-width="1.1"/>
<circle cx="163.2" cy="2010.8" r="3.7" fill="#8ab4d8" stroke="#1f6fa5" stroke-width="1.1"/>
<circle cx="187" cy="2015" r="5" fill="#4daf4a" stroke="#1f6fa5" stroke-width="1.1"/>
<circle cx="219.3" cy="2010.8" r="5.9" fill="#4daf4a" stroke="#1f6fa5" stroke-width="1.1"/>
<circle cx="238.8" cy="2023" r="5" fill="#4daf4a" stroke="#1f6fa5" stroke-width="1.1"/>
<circle cx="206.2" cy="2027.6" r="7" fill="#4daf4a" stroke="#1f6fa5" stroke-width="1.1"/>
<circle cx="165.6" cy="2034" r="5.5" fill="#4daf4a" stroke="#1f6fa5" stroke-width="1.1"/>
<circle cx="225.3" cy="2042.7" r="7" fill="#4daf4a" stroke="#1f6fa5" stroke-width="1.1"/>
<circle cx="184" cy="2050" r="4.2" fill="#4daf4a" stroke="#1f6fa5" stroke-width="1.1"/>
<circle cx="204.5" cy="2054.9" r="5.5" fill="#4daf4a" stroke="#1f6fa5" stroke-width="1.1"/>
<circle cx="248.2" cy="2077.7" r="7" fill="#4daf4a" stroke="#1f6fa5" stroke-width="1.1"/>
<circle cx="267.2" cy="1932.1" r="2" fill="#f5b041" stroke="#1f6fa5" stroke-width="0.8"/>
<circle cx="300.4" cy="1967.5" r="2" fill="#f5b041" stroke="#1f6fa5" stroke-width="0.8"/>
<circle cx="293.5" cy="2119.2" r="4.6" fill="#f781bf" stroke="#1f6fa5" stroke-width="1.1"/>
<circle cx="324.3" cy="2115.2" r="4" fill="#f781bf" stroke="#1f6fa5" stroke-width="1.1"/>
<circle cx="255.8" cy="2129.9" r="2" fill="#f781bf" stroke="#1f6fa5" stroke-width="0.8"/>
<circle cx="371.9" cy="2124.7" r="2.5" fill="#e6e6e6" stroke="#1f6fa5" stroke-width="0.8"/>
<circle cx="308" cy="2158" r="6.8" fill="#f781bf" stroke="#1f6fa5" stroke-width="1.1"/>
<circle cx="330.4" cy="2152.9" r="6" fill="#f781bf" stroke="#1f6fa5" stroke-width="1.1"/>
<circle cx="288.4" cy="2164.4" r="2.8" fill="#f781bf" stroke="#1f6fa5" stroke-width="0.8"/>
<circle cx="350" cy="2164.7" r="6" fill="#f781bf" stroke="#1f6fa5" stroke-width="1.1"/>
<circle cx="329.9" cy="2171.7" r="6.6" fill="#f781bf" stroke="#1f6fa5" stroke-width="1.1"/>
<circle cx="270" cy="2178.6" r="7" fill="#f781bf" stroke="#1f6fa5" stroke-width="1.1"/>
<circle cx="306.6" cy="2182.6" r="6.6" fill="#f781bf" stroke="#1f6fa5" stroke-width="1.1"/>
<circle cx="293" cy="2201.8" r="6.7" fill="#e41a1c" stroke="#1f6fa5" stroke-width="1.1"/>
<circle cx="322" cy="2201.8" r="6.7" fill="#e41a1c" stroke="#1f6fa5" stroke-width="1.1"/>
<circle cx="345" cy="2195.2" r="6.7" fill="#e41a1c" stroke="#1f6fa5" stroke-width="1.1"/>
<circle cx="365.6" cy="2195" r="6.7" fill="#e41a1c" stroke="#1f6fa5" stroke-width="1.1"/>
<circle cx="293.6" cy="2220.5" r="6.7" fill="#e41a1c" stroke="#1f6fa5" stroke-width="1.1"/>
<circle cx="313.4" cy="2224.3" r="6.7" fill="#e41a1c" stroke="#1f6fa5" stroke-width="1.1"/>
<circle cx="336.8" cy="2221.2" r="6.7" fill="#e41a1c" stroke="#1f6fa5" stroke-width="1.1"/>
<circle cx="356.7" cy="2216.2" r="6.7" fill="#e41a1c" stroke="#1f6fa5" stroke-width="1.1"/>
<circle cx="320.6" cy="2252.9" r="6.7" fill="#e41a1c" stroke="#1f6fa5" stroke-width="1.1"/>
<circle cx="346.3" cy="2258.5" r="6.7" fill="#e41a1c" stroke="#1f6fa5" stroke-width="1.1"/>
<circle cx="304" cy="2298.4" r="5.2" fill="#984ea3" stroke="#1f6fa5" stroke-width="1.1"/>
<circle cx="339" cy="2297.2" r="5.2" fill="#984ea3" stroke="#1f6fa5" stroke-width="1.1"/>
<circle cx="375" cy="2290" r="5.2" fill="#984ea3" stroke="#1f6fa5" stroke-width="1.1"/>
<circle cx="325" cy="2328" r="5.2" fill="#984ea3" stroke="#1f6fa5" stroke-width="1.1"/>
<circle cx="362.5" cy="2322.5" r="5.2" fill="#984ea3" stroke="#1f6fa5" stroke-width="1.1"/>
<circle cx="424" cy="1982.2" r="4.4" fill="#fb8072" stroke="#1f6fa5" stroke-width="1.1"/>
<circle cx="459.8" cy="1985.4" r="3.5" fill="#fb8072" stroke="#1f6fa5" stroke-width="1.1"/>
<circle cx="468" cy="1950.5" r="2" fill="#fb8072" stroke="#1f6fa5" stroke-width="0.8"/>
<circle cx="482.6" cy="1968.2" r="2" fill="#fb8072" stroke="#1f6fa5" stroke-width="0.8"/>
<circle cx="489.3" cy="1999.7" r="2.3" fill="#fb8072" stroke="#1f6fa5" stroke-width="0.8"/>
<circle cx="465.6" cy="2014.7" r="4.3" fill="#fb8072" stroke="#1f6fa5" stroke-width="1.1"/>
<circle cx="503.7" cy="2022.2" r="3.5" fill="#fb8072" stroke="#1f6fa5" stroke-width="1.1"/>
<circle cx="515.2" cy="1956.9" r="3.8" fill="#ffff33" stroke="#1f6fa5" stroke-width="1.1"/>
<circle cx="524.4" cy="1973.2" r="3.5" fill="#ffff33" stroke="#1f6fa5" stroke-width="1.1"/>
<circle cx="526.1" cy="1991.4" r="4.6" fill="#ffff33" stroke="#1f6fa5" stroke-width="1.1"/>
<circle cx="539.8" cy="1937.3" r="2.9" fill="#ffff33" stroke="#1f6fa5" stroke-width="0.8"/>
<circle cx="564.7" cy="1925.2" r="3.8" fill="#ffff33" stroke="#1f6fa5" stroke-width="1.1"/>
<circle cx="558.6" cy="1963.5" r="2.9" fill="#ffff33" stroke="#1f6fa5" stroke-width="0.8"/>
<circle cx="583.4" cy="1949.7" r="2.5" fill="#ffff33" stroke="#1f6fa5" stroke-width="0.8"/>
<circle cx="588.6" cy="1977" r="2.9" fill="#ffff33" stroke="#1f6fa5" stroke-width="0.8"/>
<circle cx="571.6" cy="1994.3" r="2.5" fill="#ffff33" stroke="#1f6fa5" stroke-width="0.8"/>
<circle cx="549.4" cy="2010.8" r="6.9" fill="#ffff33" stroke="#1f6fa5" stroke-width="1.1"/>
<circle cx="663.1" cy="1930.5" r="6.9" fill="#377eb8" stroke="#1f6fa5" stroke-width="1.1"/>
<circle cx="691.9" cy="1925.2" r="6.9" fill="#377eb8" stroke="#1f6fa5" stroke-width="1.1"/>
<circle cx="642.5" cy="1945.3" r="6.9" fill="#377eb8" stroke="#1f6fa5" stroke-width="1.1"/>
<circle cx="683.2" cy="1946.6" r="6.9" fill="#377eb8" stroke="#1f6fa5" stroke-width="1.1"/>
<circle cx="707.8" cy="1946.2" r="6.9" fill="#377eb8" stroke="#1f6fa5" stroke-width="1.1"/>
<circle cx="662.2" cy="1956" r="6.9" fill="#377eb8" stroke="#1f6fa5" stroke-width="1.1"/>
<circle cx="637.6" cy="1970.4" r="6.9" fill="#377eb8" stroke="#1f6fa5" stroke-width="1.1"/>
<circle cx="690.8" cy="1972.2" r="6.9" fill="#377eb8" stroke="#1f6fa5" stroke-width="1.1"/>
<circle cx="715.8" cy="1968.5" r="6.9" fill="#377eb8" stroke="#1f6fa5" stroke-width="1.1"/>
<circle cx="708" cy="1990.5" r="6.9" fill="#377eb8" stroke="#1f6fa5" stroke-width="1.1"/>
<circle cx="651.5" cy="1997.8" r="6.6" fill="#ff7f00" stroke="#1f6fa5" stroke-width="1.1"/>
<circle cx="662.9" cy="1981.9" r="2.2" fill="#a65628" stroke="#1f6fa5" stroke-width="0.8"/>
<circle cx="685.7" cy="1997.1" r="2.2" fill="#a65628" stroke="#1f6fa5" stroke-width="0.8"/>
<circle cx="667" cy="2005.7" r="2.2" fill="#a65628" stroke="#1f6fa5" stroke-width="0.8"/>
<circle cx="715.7" cy="2026.1" r="5" fill="#a65628" stroke="#1f6fa5" stroke-width="1.1"/>
<circle cx="804.6" cy="1925.2" r="3.9" fill="#8dd3c7" stroke="#1f6fa5" stroke-width="1.1"/>
<circle cx="801.9" cy="1944.6" r="6.9" fill="#8dd3c7" stroke="#1f6fa5" stroke-width="1.1"/>
<circle cx="772.8" cy="1946.4" r="3.5" fill="#8dd3c7" stroke="#1f6fa5" stroke-width="1.1"/>
<circle cx="831.5" cy="1950.4" r="3.5" fill="#8dd3c7" stroke="#1f6fa5" stroke-width="1.1"/>
<circle cx="764.5" cy="1970.8" r="3.5" fill="#8dd3c7" stroke="#1f6fa5" stroke-width="1.1"/>
<circle cx="800.4" cy="1973.9" r="3.5" fill="#8dd3c7" stroke="#1f6fa5" stroke-width="1.1"/>
<circle cx="836.6" cy="1975.3" r="3.5" fill="#8dd3c7" stroke="#1f6fa5" stroke-width="1.1"/>
<circle cx="776.5" cy="1993" r="3.5" fill="#8dd3c7" stroke="#1f6fa5" stroke-width="1.1"/>
<circle cx="821.8" cy="1996" r="3.5" fill="#8dd3c7" stroke="#1f6fa5" stroke-width="1.1"/>
<circle cx="798.3" cy="2013.4" r="6.9" fill="#8dd3c7" stroke="#1f6fa5" stroke-width="1.1"/>
<polygon points="677.6,2072.2 719.3,2072.2 719.3,2129 683.6,2129" fill="#e41a1c"/>
<polygon points="683.6,2128.7 719.3,2128.7 719.3,2186 689.6,2186" fill="#377eb8"/>
<polygon points="689.6,2185.7 719.3,2185.7 719.3,2224.9 693.7,2224.9" fill="#4daf4a"/>
<polygon points="693.7,2224.6 719.3,2224.6 719.3,2263.5 697.8,2263.5" fill="#984ea3"/>
<polygon points="697.8,2263.2 719.3,2263.2 719.3,2300.8 701.7,2300.8" fill="#ff7f00"/>
<polygon points="701.7,2300.5 719.3,2300.5 719.3,2331.2 704.9,2331.2" fill="#ffff33"/>
<polygon points="704.9,2330.9 719.3,2330.9 719.3,2362.3 708.2,2362.3" fill="#a65628"/>
<polygon points="708.2,2362 719.3,2362 719.3,2390.9 711.2,2390.9" fill="#f781bf"/>
<polygon points="711.2,2390.6 719.3,2390.6 719.3,2420.3 714.3,2420.3" fill="#999999"/>
<polygon points="714.3,2420 719.3,2420 719.3,2461.1 718.6,2461.1" fill="#8dd3c7"/>
<text x="668.4" y="2098.6" font-size="31.5" text-anchor="end" fill="#6f6f6f" textLength="33" lengthAdjust="spacingAndGlyphs">19</text>
<text x="659" y="2449.5" font-size="31.5" text-anchor="end" fill="#6f6f6f">4</text>
<line x1="654.5" y1="2109" x2="654.5" y2="2396" stroke="#6a6a6a" stroke-width="2.6" stroke-dasharray="2.6 2.6"/>
<path d="M646.5 2392 L654.5 2406.5 L662.5 2392 L654.5 2397 Z" fill="#6a6a6a"/>
<text x="618.3" y="2261.2" font-size="33" text-anchor="middle" textLength="161.8" lengthAdjust="spacingAndGlyphs" transform="rotate(-90 618.3 2261.2)">-log<tspan font-size="21" dy="8">10</tspan><tspan dy="-8">(pVal)</tspan></text>
<text x="737.8" y="2101.6" font-size="38.5" textLength="195.2" lengthAdjust="spacingAndGlyphs">Translation</text>
<text x="737.8" y="2148" font-size="38.5" textLength="457.2" lengthAdjust="spacingAndGlyphs">Oxidative phosphorylation</text>
<text x="737.8" y="2192.6" font-size="31.5" textLength="391.2" lengthAdjust="spacingAndGlyphs">Striated muscle contraction</text>
<text x="737.8" y="2231.5" font-size="31.5" textLength="510.2" lengthAdjust="spacingAndGlyphs">Mitochondrial translation elongation</text>
<text x="737.8" y="2270" font-size="31.5" textLength="388.2" lengthAdjust="spacingAndGlyphs">Mitochondrion organization</text>
<text x="737.8" y="2307.7" font-size="27.5" textLength="551.2" lengthAdjust="spacingAndGlyphs">Formation of TC-NER pre-Incision complex</text>
<text x="737.8" y="2341" font-size="27.5" textLength="564.7" lengthAdjust="spacingAndGlyphs">Formation of ATP by chemiosmotic coupling</text>
<text x="737.8" y="2376" font-size="27.5" textLength="454.2" lengthAdjust="spacingAndGlyphs">Ribosomal large subunit biogenesis</text>
<text x="737.8" y="2410" font-size="27.5" textLength="392.2" lengthAdjust="spacingAndGlyphs">Regulation of heart contraction</text>
<text x="737.8" y="2449" font-size="27.5" textLength="514.2" lengthAdjust="spacingAndGlyphs">Regulation of PTEN stability and activity</text>
</svg></body></html>
